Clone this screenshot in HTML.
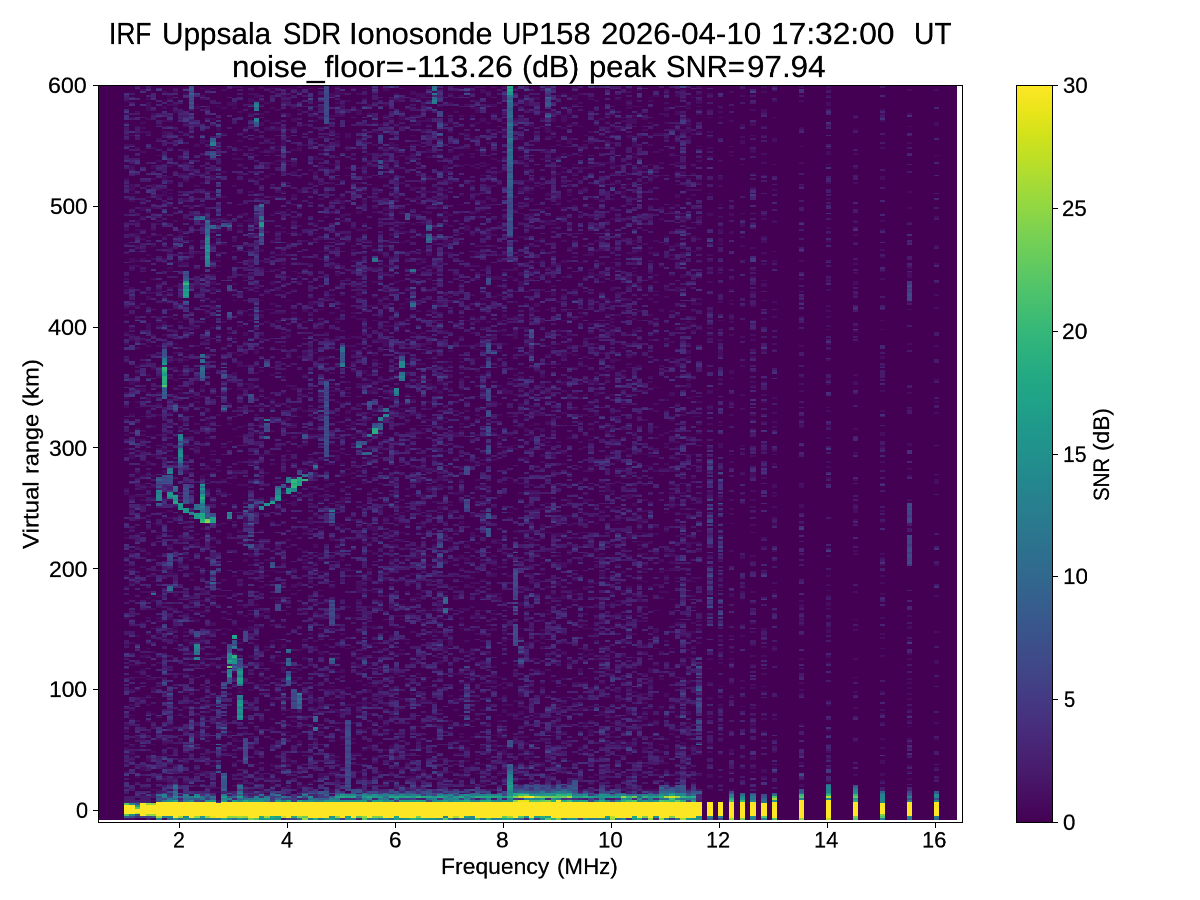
<!DOCTYPE html><html><head><meta charset="utf-8"><title>IRF Uppsala SDR Ionosonde UP158</title><style>
html,body{margin:0;padding:0;background:#fff}
body{width:1200px;height:900px;position:relative;overflow:hidden;font-family:"Liberation Sans",sans-serif;color:#000}
.t{position:absolute;display:block;line-height:1;white-space:pre;transform-origin:0 0;will-change:transform;-webkit-text-stroke:0.5px #000}
.k{position:absolute;background:#000}
svg{position:absolute;left:0;top:0}
</style></head><body>
<svg width="1200" height="900" viewBox="0 0 1200 900" shape-rendering="crispEdges">
<defs><linearGradient id="vg" x1="0" y1="0" x2="0" y2="1"><stop offset="0.0000" stop-color="#fde725"/><stop offset="0.0333" stop-color="#eae51a"/><stop offset="0.0667" stop-color="#d2e21b"/><stop offset="0.1000" stop-color="#bddf26"/><stop offset="0.1333" stop-color="#a5db36"/><stop offset="0.1667" stop-color="#90d743"/><stop offset="0.2000" stop-color="#7ad151"/><stop offset="0.2333" stop-color="#67cc5c"/><stop offset="0.2667" stop-color="#54c568"/><stop offset="0.3000" stop-color="#44bf70"/><stop offset="0.3333" stop-color="#35b779"/><stop offset="0.3667" stop-color="#2ab07f"/><stop offset="0.4000" stop-color="#22a884"/><stop offset="0.4333" stop-color="#1fa188"/><stop offset="0.4667" stop-color="#1f988b"/><stop offset="0.5000" stop-color="#21918c"/><stop offset="0.5333" stop-color="#23888e"/><stop offset="0.5667" stop-color="#27808e"/><stop offset="0.6000" stop-color="#2a788e"/><stop offset="0.6333" stop-color="#2d708e"/><stop offset="0.6667" stop-color="#31688e"/><stop offset="0.7000" stop-color="#355f8d"/><stop offset="0.7333" stop-color="#39568c"/><stop offset="0.7667" stop-color="#3d4d8a"/><stop offset="0.8000" stop-color="#414487"/><stop offset="0.8333" stop-color="#443983"/><stop offset="0.8667" stop-color="#472f7d"/><stop offset="0.9000" stop-color="#482475"/><stop offset="0.9333" stop-color="#481a6c"/><stop offset="0.9667" stop-color="#470d60"/><stop offset="1.0000" stop-color="#440154"/></linearGradient></defs>
<rect x="99" y="86" width="858" height="733.8" fill="#440154"/>
<g transform="translate(126.700,819.800) scale(5.4000,-1.8125)" fill="none" stroke-width="1">
<path stroke="#470d60" d="M0 0v1m0 16v1m0 8v1m0 4v1m0 4v1m0 2v1m0 2v1m0 5v2m0 1v2m0 43v1m0 14v1m0 16v1m0 5v1m0 5v1m0 1v1m0 4v1m0 7v1m0 23v2m0 1v1m0 18v1m0 2v1m0 7v1m0 14v2m0 3v1m0 2v1m0 16v1m0 1v1m0 7v1m0 5v1m0 6v1m0 2v1m0 3v1m0 8v2m0 1v1m0 3v1m0 14v1m0 3v1m0 7v2m0 2v1m0 12v1m0 7v1m0 2v1m0 18v1m0 4v1m0 4v1m0 1v1m0 4v1m0 3v1m0 2v1M1 0v1m0 31v1m0 1v1m0 1v2m0 2v1m0 14v1m0 1v1m0 2v1m0 2v1m0 7v1m0 5v1m0 7v1m0 11v1m0 12v1m0 4v1m0 14v2m0 1v1m0 4v1m0 5v1m0 3v1m0 11v1m0 10v1m0 5v2m0 20v3m0 21v1m0 14v1m0 1v2m0 22v1m0 2v1m0 3v1m0 11v1m0 9v1m0 9v1m0 1v1m0 1v3m0 11v1m0 1v1m0 17v1m0 3v1m0 1v4m0 8v2m0 11v1m0 4v1m0 9v1M2 23v1m0 11v1m0 8v2m0 5v1m0 2v1m0 10v1m0 5v1m0 6v1m0 2v1m0 3v1m0 15v1m0 48v1m0 6v1m0 7v1m0 12v1m0 4v1m0 1v1m0 2v1m0 2v1m0 9v1m0 7v1m0 5v1m0 11v1m0 2v1m0 6v1m0 3v1m0 4v1m0 3v1m0 9v1m0 15v1m0 6v1m0 21v1m0 2v1m0 4v1m0 2v1m0 5v2m0 1v1m0 3v2m0 14v1m0 15v1m0 8v1m0 7v1m0 3v1m0 7v1M3 13v1m0 3v1m0 9v2m0 15v1m0 21v2m0 10v1m0 3v1m0 6v2m0 17v1m0 16v1m0 13v1m0 9v1m0 7v1m0 15v1m0 2v1m0 1v1m0 3v1m0 1v1m0 4v1m0 5v1m0 7v1m0 5v1m0 2v1m0 1v1m0 7v1m0 13v2m0 13v1m0 12v1m0 38v1m0 5v1m0 4v1m0 5v1m0 4v1m0 6v1m0 3v2m0 3v1m0 26v1m0 10v1m0 1v1m0 2v1m0 17v1M4 17v1m0 14v2m0 1v1m0 12v1m0 5v1m0 4v1m0 3v1m0 4v1m0 8v1m0 12v1m0 3v1m0 4v1m0 2v1m0 8v1m0 4v1m0 5v1m0 2v1m0 11v1m0 8v2m0 12v1m0 4v1m0 9v1m0 7v1m0 5v1m0 1v1m0 4v2m0 23v1m0 1v1m0 7v2m0 2v1m0 9v1m0 6v1m0 3v1m0 4v1m0 1v1m0 6v4m0 5v1m0 7v2m0 1v1m0 20v1m0 9v1m0 15v1m0 5v1m0 34v2m0 6v1m0 4v5m0 1v1M5 10v1m0 3v1m0 1v1m0 13v1m0 6v1m0 3v1m0 9v1m0 6v1m0 8v1m0 3v2m0 4v1m0 14v1m0 23v1m0 3v1m0 10v1m0 2v1m0 28v1m0 13v1m0 5v1m0 5v1m0 5v1m0 4v1m0 10v1m0 4v2m0 9v1m0 20v1m0 18v1m0 22v1m0 7v1m0 10v1m0 6v1m0 8v1m0 8v1m0 2v1m0 11v2m0 2v1m0 5v2m0 9v1m0 18v1M6 16v1m0 4v1m0 3v1m0 18v1m0 6v1m0 4v1m0 17v1m0 11v1m0 2v1m0 9v1m0 2v1m0 3v1m0 2v1m0 1v1m0 5v1m0 5v1m0 21v1m0 10v1m0 1v1m0 3v1m0 6v1m0 30v1m0 3v1m0 7v1m0 10v1m0 5v1m0 5v1m0 2v1m0 5v1m0 11v1m0 4v1m0 10v1m0 1v1m0 2v1m0 8v1m0 4v2m0 2v1m0 26v1m0 5v1m0 1v1m0 12v2m0 2v1m0 2v1m0 12v1m0 2v1m0 8v1m0 7v1m0 3v1M7 0v1m0 20v1m0 1v1m0 1v1m0 2v1m0 7v1m0 4v2m0 35v1m0 21v1m0 8v1m0 56v1m0 2v1m0 7v1m0 13v2m0 10v2m0 2v1m0 3v1m0 1v1m0 49v1m0 3v1m0 5v2m0 10v1m0 2v2m0 17v1m0 1v1m0 3v1m0 7v1m0 11v2m0 5v1m0 3v1m0 1v1m0 6v2m0 23v2m0 2v1m0 2v1m0 6v2m0 7v1M8 16v1m0 3v1m0 7v1m0 1v1m0 11v1m0 1v1m0 5v1m0 1v1m0 12v1m0 17v1m0 20v1m0 5v2m0 3v1m0 1v1m0 17v2m0 13v2m0 7v1m0 6v1m0 3v1m0 5v1m0 13v1m0 9v1m0 16v2m0 5v1m0 19v1m0 4v1m0 2v1m0 1v1m0 22v1m0 12v1m0 2v1m0 8v1m0 1v1m0 7v1m0 2v1m0 22v2m0 3v1m0 1v1m0 1v1m0 3v1m0 2v1m0 5v1m0 9v1m0 4v1m0 3v1m0 5v1m0 8v1m0 2v1m0 1v1M9 23v1m0 6v1m0 8v1m0 6v1m0 4v1m0 5v1m0 21v1m0 18v1m0 1v1m0 3v1m0 1v1m0 9v1m0 6v2m0 10v1m0 6v1m0 5v1m0 23v1m0 23v1m0 14v1m0 22v1m0 3v1m0 3v1m0 5v2m0 3v2m0 2v1m0 4v1m0 5v1m0 7v1m0 17v1m0 12v1m0 10v1m0 2v1m0 8v1m0 4v1m0 44v1m0 9v1m0 3v1m0 6v1m0 1v1M10 25v1m0 7v1m0 9v1m0 7v1m0 6v1m0 14v1m0 6v1m0 13v2m0 26v1m0 17v1m0 13v2m0 8v1m0 50v1m0 4v2m0 6v1m0 2v1m0 3v1m0 1v1m0 7v1m0 1v1m0 4v1m0 1v1m0 19v1m0 6v1m0 4v1m0 10v1m0 8v1m0 4v1m0 10v1m0 1v2m0 8v1m0 1v1m0 19v1m0 2v1m0 4v1m0 1v1m0 10v1M11 20v1m0 4v1m0 5v1m0 3v1m0 13v1m0 6v1m0 4v2m0 5v1m0 1v1m0 9v1m0 4v2m0 5v1m0 5v2m0 3v1m0 1v1m0 7v1m0 2v1m0 5v1m0 3v1m0 13v1m0 3v1m0 8v2m0 5v1m0 2v1m0 27v2m0 3v1m0 2v2m0 18v1m0 5v1m0 2v1m0 20v1m0 3v1m0 5v1m0 9v1m0 6v1m0 6v1m0 2v1m0 19v2m0 4v1m0 8v1m0 9v1m0 10v1m0 9v1m0 3v1m0 5v1m0 6v1m0 12v1m0 1v1m0 15v1m0 2v1M12 13v1m0 12v1m0 37v1m0 5v1m0 8v1m0 9v1m0 2v1m0 3v1m0 1v1m0 12v1m0 8v1m0 2v1m0 8v1m0 2v1m0 7v1m0 10v1m0 1v1m0 5v1m0 32v1m0 15v1m0 55v1m0 3v2m0 38v1m0 7v1m0 7v1m0 10v1m0 15v2m0 1v1m0 1v1m0 17v1M13 18v1m0 5v1m0 2v1m0 12v1m0 4v4m0 8v1m0 8v1m0 17v1m0 13v1m0 10v2m0 3v1m0 11v1m0 10v1m0 13v2m0 1v1m0 2v1m0 11v1m0 32v1m0 1v2m0 8v1m0 3v1m0 11v1m0 1v1m0 15v1m0 12v1m0 9v1m0 3v1m0 14v1m0 2v2m0 17v1m0 36v1m0 6v1m0 14v2m0 19v2M14 26v1m0 12v1m0 10v1m0 6v1m0 5v1m0 3v1m0 4v1m0 12v1m0 1v3m0 3v1m0 1v1m0 1v1m0 1v3m0 3v1m0 8v1m0 5v1m0 4v2m0 6v1m0 1v1m0 14v1m0 4v1m0 4v1m0 27v2m0 3v1m0 5v1m0 37v1m0 1v1m0 23v1m0 21v1m0 1v1m0 6v1m0 5v1m0 8v2m0 1v2m0 3v1m0 9v1m0 2v1m0 2v2m0 3v1m0 6v1m0 5v1m0 4v1m0 9v1m0 6v3m0 21v1m0 1v1m0 3v1M15 24v1m0 9v1m0 1v1m0 8v1m0 4v1m0 5v1m0 7v1m0 7v1m0 4v1m0 6v1m0 14v1m0 1v1m0 8v1m0 3v1m0 1v1m0 9v1m0 2v1m0 7v1m0 5v1m0 14v1m0 23v1m0 4v1m0 2v1m0 2v3m0 12v1m0 1v1m0 7v1m0 1v1m0 12v1m0 12v1m0 1v1m0 14v1m0 6v1m0 6v1m0 1v1m0 55v2m0 21v1m0 5v1m0 9v1m0 17v1m0 9v1M16 15v1m0 1v1m0 3v1m0 7v1m0 11v1m0 25v2m0 5v1m0 5v1m0 4v2m0 4v1m0 2v1m0 4v1m0 3v2m0 2v2m0 11v1m0 1v1m0 8v1m0 18v1m0 3v1m0 20v1m0 15v1m0 1v1m0 4v1m0 4v1m0 15v1m0 51v1m0 9v1m0 1v1m0 2v1m0 5v2m0 1v2m0 3v1m0 3v1m0 3v1m0 8v1m0 3v1m0 3v1m0 2v1m0 2v1m0 11v1m0 2v1m0 7v2m0 15v1m0 14v1m0 16v1M17 10v1m0 4v1m0 1v1m0 9v1m0 21v1m0 4v2m0 17v1m0 9v1m0 1v1m0 7v1m0 24v1m0 4v1m0 23v1m0 6v1m0 3v1m0 3v1m0 17v1m0 1v1m0 2v1m0 6v1m0 30v1m0 39v1m0 3v1m0 19v1m0 14v1m0 2v1m0 2v1m0 1v1m0 1v1m0 11v2m0 4v1m0 22v1m0 7v1m0 8v1m0 9v2m0 11v1M18 39v1m0 15v1m0 2v1m0 8v1m0 17v1m0 4v1m0 11v1m0 2v1m0 5v1m0 11v1m0 8v1m0 40v1m0 6v1m0 6v1m0 17v1m0 28v1m0 4v1m0 12v1m0 21v1m0 42v1m0 13v1m0 11v1m0 13v1m0 20v1m0 13v1m0 9v1M19 36v1m0 11v1m0 55v1m0 8v1m0 42v2m0 7v1m0 19v1m0 4v1m0 17v1m0 9v1m0 1v1m0 1v1m0 6v1m0 7v1m0 3v1m0 1v1m0 18v1m0 3v1m0 1v1m0 22v1m0 6v1m0 71v1m0 23v2M20 18v1m0 4v1m0 7v1m0 4v1m0 3v1m0 2v2m0 11v1m0 10v1m0 10v1m0 2v1m0 25v1m0 13v1m0 2v1m0 9v1m0 26v1m0 2v1m0 4v1m0 1v1m0 16v2m0 2v1m0 22v1m0 29v2m0 10v1m0 28v1m0 4v1m0 3v1m0 17v1m0 5v2m0 28v1m0 14v1m0 2v1m0 24v1m0 1v2m0 8v1M21 20v1m0 17v1m0 4v1m0 26v1m0 1v1m0 24v1m0 1v1m0 5v1m0 7v1m0 4v1m0 11v2m0 5v1m0 20v2m0 24v1m0 7v1m0 4v1m0 13v1m0 4v1m0 9v1m0 7v1m0 2v1m0 3v1m0 8v3m0 3v1m0 15v1m0 5v1m0 46v1m0 2v1m0 4v1m0 11v1m0 10v1m0 3v1m0 3v1m0 4v1m0 4v1m0 2v1m0 12v1m0 13v1M22 18v1m0 3v1m0 1v1m0 23v1m0 2v1m0 4v1m0 5v1m0 12v1m0 28v1m0 7v1m0 4v1m0 24v2m0 8v1m0 11v3m0 8v1m0 8v1m0 22v1m0 9v1m0 19v1m0 2v1m0 9v1m0 10v1m0 1v1m0 3v2m0 11v1m0 18v2m0 15v1m0 13v1m0 2v1m0 45v1m0 1v1M23 16v1m0 2v1m0 25v1m0 14v1m0 1v1m0 8v1m0 6v1m0 2v1m0 7v2m0 13v3m0 2v1m0 3v1m0 12v1m0 9v1m0 3v1m0 4v2m0 22v1m0 4v2m0 7v1m0 1v1m0 1v1m0 8v1m0 1v1m0 11v1m0 3v1m0 1v1m0 11v1m0 8v4m0 34v1m0 2v1m0 14v1m0 6v1m0 3v1m0 1v2m0 1v1m0 4v1m0 13v1m0 1v2m0 14v1m0 6v1m0 13v1m0 2v1m0 12v1m0 5v1m0 6v2m0 2v1m0 1v1M24 23v1m0 6v1m0 7v1m0 2v1m0 7v2m0 45v1m0 4v1m0 4v1m0 4v1m0 4v1m0 1v1m0 13v1m0 8v1m0 56v1m0 7v1m0 6v1m0 9v1m0 8v1m0 13v1m0 3v1m0 6v3m0 23v1m0 10v1m0 50v1m0 8v1m0 21v1m0 4v1m0 14v1m0 1v3M25 16v1m0 6v3m0 13v1m0 14v1m0 17v1m0 1v1m0 1v1m0 4v1m0 3v2m0 19v1m0 5v2m0 1v1m0 7v1m0 4v1m0 6v1m0 23v1m0 8v1m0 8v1m0 9v2m0 4v1m0 6v2m0 10v1m0 1v1m0 3v3m0 7v1m0 5v1m0 2v1m0 9v1m0 16v2m0 1v1m0 9v2m0 1v1m0 5v1m0 10v1m0 6v1m0 3v1m0 4v2m0 25v1m0 1v1m0 25v1m0 14v2m0 4v1m0 4v1m0 1v1m0 6v2M26 22v1m0 54v1m0 4v1m0 10v1m0 1v1m0 18v2m0 13v1m0 4v1m0 2v1m0 5v1m0 8v1m0 32v1m0 5v1m0 9v1m0 30v1m0 41v1m0 6v1m0 8v1m0 1v1m0 9v1m0 5v1m0 15v1m0 29v2m0 4v2m0 7v1m0 3v1m0 1v1m0 4v2m0 3v1m0 4v1m0 4v1m0 7v1M27 18v1m0 1v1m0 1v1m0 4v1m0 1v2m0 10v1m0 2v1m0 4v2m0 4v1m0 10v2m0 19v2m0 9v1m0 8v1m0 2v1m0 11v1m0 14v1m0 5v1m0 20v1m0 31v1m0 4v1m0 12v1m0 11v2m0 1v1m0 1v1m0 13v1m0 8v1m0 24v1m0 1v1m0 2v1m0 10v2m0 6v1m0 9v1m0 5v1m0 13v1m0 9v1m0 5v1m0 6v1m0 5v1m0 5v2m0 5v1m0 4v1m0 3v1m0 7v1m0 10v1M28 22v1m0 3v1m0 43v1m0 4v1m0 1v1m0 8v1m0 3v1m0 8v1m0 19v2m0 1v1m0 13v1m0 13v1m0 2v1m0 15v1m0 1v1m0 2v1m0 11v1m0 18v1m0 23v1m0 19v1m0 1v1m0 22v2m0 3v1m0 12v1m0 10v1m0 7v1m0 7v1m0 1v1m0 2v1m0 10v1m0 7v1m0 2v1m0 14v1m0 1v1m0 5v1m0 1v1m0 8v2m0 9v1M29 28v1m0 2v1m0 16v1m0 9v1m0 3v1m0 3v1m0 4v1m0 9v2m0 1v1m0 10v2m0 22v1m0 6v1m0 2v1m0 6v1m0 4v1m0 1v1m0 32v1m0 4v1m0 4v1m0 8v1m0 1v1m0 1v1m0 6v1m0 9v1m0 3v1m0 14v1m0 8v1m0 16v1m0 6v1m0 10v1m0 11v1m0 3v1m0 1v1m0 2v1m0 3v1m0 1v1m0 4v2m0 11v1m0 1v1m0 7v1m0 8v1m0 2v1m0 17v1m0 7v3m0 18v1m0 2v1m0 2v1M30 13v1m0 3v1m0 14v2m0 1v1m0 8v1m0 1v1m0 1v1m0 11v1m0 5v1m0 46v1m0 12v1m0 10v1m0 12v1m0 3v1m0 43v1m0 2v1m0 1v1m0 12v1m0 3v2m0 5v2m0 3v1m0 6v1m0 17v1m0 8v2m0 18v1m0 12v1m0 17v1m0 5v1m0 10v1m0 1v1m0 4v1m0 9v1m0 9v1m0 1v1m0 12v1m0 3v1m0 7v2m0 6v1m0 6v1M31 31v1m0 22v1m0 2v1m0 1v1m0 16v1m0 1v1m0 2v1m0 7v1m0 34v1m0 3v2m0 8v1m0 18v1m0 2v1m0 12v3m0 34v1m0 5v1m0 1v1m0 4v1m0 13v1m0 1v1m0 37v1m0 1v1m0 12v1m0 9v1m0 4v1m0 16v1m0 3v1m0 1v1m0 12v2m0 11v2m0 2v3m0 6v1m0 11v1m0 3v2m0 5v1M32 15v1m0 1v2m0 8v1m0 9v1m0 2v1m0 1v2m0 3v1m0 2v1m0 6v1m0 12v1m0 6v1m0 4v2m0 9v1m0 35v2m0 13v1m0 4v1m0 43v1m0 11v1m0 16v1m0 3v2m0 7v1m0 19v1m0 20v1m0 19v1m0 2v1m0 1v1m0 5v1m0 10v1m0 3v2m0 3v1m0 4v1m0 13v2m0 6v1m0 14v2m0 11v1m0 8v1m0 9v1m0 2v1M33 18v1m0 44v1m0 5v1m0 13v1m0 4v2m0 4v1m0 3v1m0 15v1m0 3v1m0 19v1m0 2v1m0 1v1m0 4v1m0 8v2m0 1v1m0 3v1m0 14v1m0 6v1m0 5v2m0 12v2m0 1v1m0 3v2m0 10v1m0 8v1m0 2v1m0 7v1m0 10v2m0 16v1m0 5v2m0 37v1m0 52v1m0 10v1M34 20v1m0 14v1m0 3v2m0 8v1m0 7v1m0 11v2m0 15v1m0 15v1m0 19v1m0 7v1m0 1v1m0 1v1m0 2v3m0 20v1m0 3v2m0 7v1m0 3v2m0 1v1m0 2v1m0 1v1m0 10v1m0 1v2m0 12v1m0 9v1m0 3v1m0 20v1m0 12v1m0 18v1m0 3v3m0 5v1m0 14v1m0 22v1m0 16v1m0 4v1m0 6v1m0 2v1m0 9v1m0 26v1m0 4v1M35 43v1m0 3v1m0 11v1m0 1v1m0 3v2m0 7v1m0 6v1m0 12v2m0 2v1m0 12v1m0 2v1m0 4v1m0 9v1m0 6v1m0 4v1m0 8v2m0 15v1m0 1v1m0 3v1m0 6v1m0 1v1m0 5v1m0 8v2m0 2v1m0 8v1m0 1v1m0 2v1m0 10v1m0 22v1m0 7v1m0 1v1m0 24v1m0 34v1m0 3v1m0 4v1m0 27v2m0 6v2m0 9v1m0 9v1m0 2v1m0 1v1M36 23v3m0 21v1m0 2v1m0 12v2m0 26v2m0 7v1m0 9v2m0 1v1m0 1v1m0 7v1m0 2v1m0 9v1m0 6v1m0 2v1m0 14v1m0 13v1m0 2v1m0 11v1m0 3v1m0 3v1m0 12v1m0 2v1m0 3v1m0 13v1m0 4v1m0 17v1m0 9v1m0 5v2m0 1v1m0 6v1m0 4v1m0 22v1m0 3v1m0 6v1m0 21v1m0 8v1m0 7v2m0 3v1m0 4v1m0 1v1m0 14v1m0 1v1M37 24v2m0 13v1m0 6v1m0 24v1m0 8v1m0 15v1m0 8v2m0 5v1m0 6v1m0 13v1m0 2v1m0 40v2m0 2v1m0 1v2m0 2v1m0 4v1m0 3v1m0 2v1m0 49v1m0 5v1m0 12v1m0 18v2m0 24v1m0 4v1m0 4v1m0 8v1m0 13v1m0 12v1m0 8v1m0 3v1m0 3v1m0 5v1M38 13v1m0 1v2m0 7v1m0 1v1m0 6v2m0 1v1m0 7v1m0 15v1m0 5v1m0 4v1m0 1v1m0 15v1m0 14v1m0 23v1m0 15v1m0 9v2m0 7v1m0 20v1m0 11v1m0 6v1m0 3v1m0 9v1m0 3v1m0 12v1m0 1v1m0 3v1m0 5v1m0 14v1m0 2v1m0 14v1m0 7v1m0 1v1m0 14v2m0 3v1m0 4v1m0 19v1m0 4v1m0 1v1m0 9v1m0 3v1m0 5v1m0 18v1m0 7v1m0 10v2M39 22v1m0 3v1m0 5v1m0 1v1m0 15v1m0 6v1m0 1v2m0 9v1m0 10v1m0 6v1m0 24v1m0 27v1m0 6v1m0 2v1m0 11v1m0 8v1m0 17v1m0 7v3m0 2v1m0 2v1m0 5v1m0 6v1m0 3v1m0 6v1m0 5v1m0 2v1m0 9v1m0 15v2m0 7v1m0 1v1m0 17v1m0 5v2m0 4v1m0 3v1m0 8v1m0 1v1m0 2v1m0 17v1m0 10v1m0 7v1m0 3v1m0 7v2m0 1v1m0 1v1m0 9v2m0 3v1m0 1v1m0 4v3m0 1v1M40 30v1m0 10v1m0 2v1m0 3v2m0 3v1m0 5v1m0 6v1m0 1v1m0 2v1m0 7v1m0 1v2m0 12v1m0 6v1m0 3v1m0 14v1m0 9v1m0 1v1m0 4v1m0 4v1m0 3v1m0 1v1m0 5v1m0 4v1m0 1v1m0 6v1m0 3v1m0 1v3m0 4v1m0 6v1m0 6v1m0 5v1m0 3v1m0 3v1m0 58v1m0 10v1m0 3v1m0 4v1m0 6v1m0 8v1m0 15v1m0 8v1m0 1v2m0 4v1m0 1v2m0 1v1m0 1v1m0 42v1m0 3v1m0 1v1m0 5v1M41 63v1m0 8v1m0 21v1m0 22v1m0 20v1m0 24v1m0 12v1m0 3v1m0 9v1m0 2v1m0 21v1m0 5v1m0 2v2m0 4v1m0 4v1m0 1v1m0 3v1m0 19v1m0 3v1m0 32v1m0 20v1m0 2v2m0 9v2m0 20v1m0 3v1m0 9v1m0 1v1m0 4v3m0 17v1M42 30v1m0 3v1m0 1v1m0 5v1m0 1v1m0 8v1m0 9v1m0 21v1m0 9v1m0 15v1m0 22v1m0 2v1m0 16v1m0 10v1m0 18v1m0 3v1m0 2v1m0 2v1m0 1v1m0 2v1m0 12v1m0 3v1m0 1v2m0 27v1m0 4v1m0 3v1m0 1v1m0 2v1m0 4v1m0 10v1m0 1v1m0 23v1m0 4v1m0 5v1m0 1v1m0 9v1m0 20v1m0 3v1m0 14v1m0 26v1m0 9v1M43 17v1m0 4v1m0 3v1m0 9v1m0 22v1m0 2v1m0 1v1m0 4v1m0 6v1m0 4v1m0 3v1m0 5v1m0 6v1m0 4v1m0 1v1m0 7v1m0 2v1m0 1v1m0 1v2m0 3v6m0 30v1m0 30v1m0 11v1m0 4v1m0 1v1m0 12v1m0 3v2m0 9v2m0 8v1m0 12v1m0 2v2m0 9v1m0 12v2m0 2v2m0 1v1m0 1v1m0 9v1m0 4v1m0 11v1m0 8v2m0 2v1m0 7v1m0 4v1m0 7v1m0 10v1m0 4v1m0 13v3m0 8v1M44 23v1m0 14v1m0 10v1m0 13v3m0 8v1m0 7v2m0 6v1m0 2v1m0 13v1m0 14v1m0 2v1m0 3v1m0 5v1m0 16v2m0 3v1m0 6v1m0 8v1m0 11v2m0 6v1m0 2v2m0 12v1m0 3v1m0 4v1m0 3v1m0 16v1m0 5v2m0 11v1m0 7v1m0 3v1m0 3v2m0 10v1m0 7v1m0 5v1m0 17v1m0 5v1m0 2v1m0 11v2m0 11v2m0 1v1m0 3v1m0 4v1m0 3v1m0 4v1m0 4v1m0 17v1m0 5v1M45 16v1m0 1v2m0 19v2m0 9v1m0 7v1m0 5v1m0 2v1m0 2v2m0 1v1m0 1v1m0 8v1m0 1v1m0 19v1m0 5v1m0 4v1m0 14v2m0 4v1m0 9v1m0 3v1m0 2v1m0 4v2m0 18v1m0 17v2m0 8v1m0 11v1m0 3v1m0 10v2m0 3v1m0 1v1m0 2v1m0 3v1m0 8v1m0 12v1m0 9v1m0 1v1m0 35v1m0 40v1m0 2v1m0 3v1m0 21v1m0 4v1M46 31v1m0 2v1m0 6v1m0 4v1m0 15v1m0 2v1m0 7v2m0 7v1m0 6v1m0 5v1m0 1v1m0 8v1m0 10v1m0 3v1m0 3v1m0 20v2m0 11v3m0 12v1m0 7v1m0 7v1m0 21v1m0 13v1m0 9v3m0 9v1m0 3v2m0 2v1m0 7v1m0 10v1m0 7v1m0 4v1m0 7v1m0 7v1m0 8v1m0 21v1m0 1v1m0 4v1m0 1v1m0 1v1m0 1v1m0 23v1m0 6v1m0 4v1m0 8v1m0 6v1M47 26v1m0 15v1m0 7v1m0 4v1m0 10v1m0 1v1m0 2v2m0 5v1m0 3v2m0 2v1m0 6v1m0 23v1m0 2v1m0 3v1m0 5v1m0 11v1m0 28v1m0 27v1m0 4v1m0 1v1m0 5v1m0 1v1m0 4v1m0 21v2m0 1v1m0 6v1m0 6v1m0 4v2m0 12v1m0 6v2m0 1v1m0 8v1m0 5v1m0 9v2m0 3v1m0 10v1m0 1v1m0 3v1m0 7v1m0 3v1m0 7v1m0 10v1m0 1v1m0 1v1m0 1v1m0 6v1m0 4v1M48 21v1m0 12v1m0 3v1m0 9v1m0 3v1m0 10v1m0 4v1m0 21v1m0 12v1m0 19v1m0 8v1m0 3v1m0 10v1m0 8v1m0 7v1m0 1v1m0 44v1m0 23v1m0 25v4m0 4v1m0 2v1m0 11v1m0 3v1m0 3v1m0 8v1m0 3v1m0 4v1m0 18v1m0 3v1m0 2v2m0 12v1m0 3v2m0 6v1m0 1v1m0 3v1m0 1v1m0 11v1m0 3v1m0 1v1m0 5v1m0 7v2M49 26v1m0 5v1m0 6v2m0 8v1m0 6v1m0 9v1m0 3v1m0 1v1m0 4v1m0 1v1m0 1v1m0 19v1m0 14v1m0 1v1m0 11v1m0 9v1m0 1v2m0 5v1m0 1v1m0 3v1m0 1v1m0 9v1m0 10v1m0 6v1m0 1v3m0 18v1m0 11v1m0 1v1m0 8v2m0 1v1m0 2v2m0 3v1m0 1v1m0 27v1m0 13v1m0 3v1m0 8v1m0 5v1m0 4v1m0 8v2m0 1v2m0 12v1m0 9v1m0 6v1m0 2v1m0 2v1m0 9v1m0 1v3m0 8v1m0 3v1m0 10v1M50 16v1m0 4v1m0 6v1m0 13v1m0 27v1m0 7v1m0 1v1m0 10v1m0 14v1m0 5v1m0 4v1m0 6v1m0 1v1m0 17v1m0 6v1m0 4v1m0 8v1m0 7v1m0 8v1m0 3v1m0 5v1m0 1v1m0 13v1m0 16v1m0 1v1m0 17v1m0 12v1m0 15v1m0 5v1m0 9v2m0 1v1m0 2v1m0 22v1m0 5v1m0 2v1m0 1v1m0 11v1m0 1v1m0 14v1m0 5v1m0 2v1m0 3v1m0 4v1m0 4v1m0 13v1m0 3v1M51 28v1m0 9v1m0 7v1m0 19v1m0 24v1m0 1v1m0 5v1m0 10v1m0 1v1m0 5v1m0 2v1m0 20v1m0 10v2m0 3v1m0 10v1m0 2v1m0 3v1m0 31v1m0 1v1m0 12v2m0 1v1m0 2v1m0 17v1m0 24v1m0 9v1m0 1v1m0 12v1m0 20v1m0 5v1m0 1v1m0 1v1m0 6v1m0 1v1m0 13v1m0 30v1m0 3v1m0 3v1m0 6v1m0 5v1M52 22v2m0 7v1m0 1v1m0 2v1m0 1v1m0 23v2m0 11v1m0 21v1m0 15v1m0 11v1m0 18v1m0 4v2m0 11v1m0 7v1m0 11v1m0 21v2m0 7v1m0 5v1m0 2v2m0 2v1m0 7v1m0 10v1m0 3v1m0 20v1m0 5v1m0 8v1m0 1v1m0 5v1m0 15v1m0 9v1m0 4v1m0 39v2m0 5v1M53 23v1m0 1v2m0 21v1m0 13v1m0 6v1m0 16v1m0 2v1m0 13v1m0 9v1m0 2v1m0 3v1m0 1v1m0 7v1m0 4v1m0 8v1m0 3v1m0 30v1m0 8v1m0 2v1m0 2v1m0 19v1m0 8v1m0 7v1m0 1v1m0 7v1m0 13v1m0 8v1m0 3v1m0 18v1m0 4v1m0 5v1m0 13v1m0 15v1m0 3v1m0 9v1m0 4v2m0 16v1m0 1v1m0 4v1m0 4v1m0 5v1m0 4v1m0 11v2M54 18v1m0 2v1m0 2v1m0 16v1m0 1v2m0 6v1m0 10v1m0 1v2m0 14v1m0 7v1m0 31v1m0 1v1m0 1v1m0 19v4m0 1v2m0 7v1m0 11v2m0 21v1m0 16v1m0 3v1m0 2v1m0 6v1m0 17v1m0 1v1m0 6v1m0 8v1m0 3v1m0 2v1m0 12v1m0 4v1m0 12v1m0 1v1m0 2v1m0 2v1m0 33v1m0 1v2m0 4v1m0 7v1m0 15v1m0 1v1m0 8v3m0 11v1m0 1v2M55 26v2m0 11v1m0 13v1m0 8v1m0 2v1m0 2v1m0 1v1m0 1v1m0 3v1m0 26v1m0 9v2m0 1v1m0 4v1m0 3v1m0 18v1m0 12v1m0 3v2m0 4v1m0 5v1m0 2v1m0 1v2m0 7v1m0 4v2m0 2v1m0 16v1m0 1v1m0 1v1m0 2v1m0 2v1m0 4v1m0 22v1m0 5v1m0 3v2m0 5v1m0 7v1m0 9v1m0 15v1m0 5v2m0 3v1m0 7v2m0 5v1m0 1v1m0 4v1m0 3v1m0 6v1m0 4v1m0 28v1m0 4v1m0 8v1m0 4v2M56 35v1m0 21v1m0 7v1m0 7v1m0 4v1m0 23v1m0 3v1m0 8v1m0 14v2m0 8v1m0 4v1m0 20v1m0 1v1m0 12v1m0 1v1m0 4v1m0 3v1m0 7v1m0 19v1m0 5v1m0 3v1m0 8v2m0 1v1m0 11v1m0 5v1m0 1v2m0 2v1m0 13v1m0 10v1m0 6v1m0 3v1m0 2v1m0 5v2m0 18v1m0 2v2m0 2v1m0 7v1m0 7v1m0 10v1m0 2v2m0 8v1m0 4v1m0 1v2m0 6v1m0 6v1m0 3v1M57 37v1m0 6v1m0 9v1m0 9v1m0 17v1m0 12v1m0 7v2m0 11v1m0 4v1m0 5v1m0 4v1m0 7v1m0 3v1m0 6v1m0 2v1m0 7v1m0 12v1m0 11v1m0 5v1m0 4v2m0 5v1m0 1v2m0 3v1m0 4v1m0 2v2m0 5v1m0 8v2m0 1v1m0 9v1m0 2v1m0 2v1m0 3v1m0 20v2m0 2v1m0 10v1m0 5v1m0 2v1m0 12v1m0 1v1m0 6v1m0 11v1m0 3v1m0 58v1M58 21v2m0 10v1m0 18v1m0 7v1m0 11v1m0 6v1m0 2v1m0 3v2m0 23v1m0 2v1m0 2v1m0 1v1m0 2v1m0 6v1m0 5v1m0 22v1m0 12v2m0 2v1m0 7v2m0 2v3m0 2v1m0 4v1m0 20v1m0 16v2m0 3v2m0 8v1m0 13v1m0 14v1m0 4v1m0 16v1m0 4v1m0 3v1m0 14v1m0 6v1m0 4v1m0 3v1m0 1v1m0 2v1m0 5v1m0 14v1m0 12v1m0 12v1M59 20v1m0 4v1m0 67v3m0 3v1m0 25v1m0 17v1m0 11v1m0 1v1m0 1v1m0 4v1m0 18v1m0 4v1m0 4v1m0 4v1m0 4v1m0 3v1m0 2v1m0 8v1m0 1v1m0 5v1m0 10v2m0 1v1m0 6v2m0 19v1m0 19v1m0 22v1m0 4v3m0 8v1m0 2v2m0 1v2m0 6v1m0 1v1m0 2v1m0 5v1m0 1v1m0 1v4m0 23v1M60 20v1m0 5v1m0 21v1m0 2v2m0 1v1m0 13v1m0 11v1m0 15v3m0 2v1m0 13v1m0 12v1m0 13v1m0 7v1m0 2v2m0 14v2m0 2v1m0 1v1m0 11v1m0 25v1m0 23v1m0 6v2m0 4v1m0 1v1m0 1v1m0 3v1m0 26v1m0 2v1m0 23v1m0 6v1m0 7v1m0 5v1m0 17v2m0 11v1m0 3v1m0 10v1m0 4v1m0 10v1m0 4v1M61 22v1m0 9v1m0 3v1m0 6v1m0 7v1m0 8v1m0 4v2m0 13v1m0 40v3m0 2v1m0 1v1m0 5v1m0 9v1m0 6v1m0 7v1m0 19v2m0 9v1m0 8v1m0 12v2m0 11v1m0 7v1m0 29v1m0 7v1m0 28v1m0 60v1m0 4v1m0 16v1m0 6v1M62 14v1m0 1v1m0 6v1m0 3v1m0 2v1m0 5v1m0 6v1m0 1v1m0 1v1m0 3v2m0 12v1m0 2v1m0 2v1m0 3v1m0 4v1m0 2v1m0 10v1m0 10v1m0 2v1m0 1v2m0 4v1m0 9v1m0 4v1m0 6v1m0 5v2m0 12v1m0 4v2m0 10v1m0 4v1m0 6v1m0 6v1m0 16v1m0 2v1m0 1v1m0 1v1m0 3v1m0 11v1m0 2v1m0 4v2m0 4v1m0 3v1m0 1v1m0 6v1m0 4v1m0 5v1m0 4v1m0 15v1m0 1v1m0 22v1m0 20v1m0 4v1m0 15v1m0 5v2m0 14v1m0 5v1m0 10v1M63 18v1m0 4v1m0 1v1m0 6v1m0 5v2m0 3v1m0 9v1m0 6v1m0 14v1m0 16v1m0 5v1m0 16v2m0 11v2m0 3v1m0 3v1m0 5v2m0 6v1m0 43v1m0 2v1m0 21v1m0 4v1m0 4v1m0 30v1m0 13v1m0 31v1m0 17v3m0 33v1m0 8v1m0 5v1m0 1v1m0 15v1m0 6v1M64 15v1m0 2v1m0 10v1m0 15v1m0 8v1m0 7v1m0 8v1m0 4v1m0 5v1m0 6v1m0 2v1m0 1v1m0 9v1m0 7v1m0 4v1m0 5v1m0 4v1m0 1v1m0 2v1m0 15v1m0 6v3m0 8v2m0 28v1m0 14v1m0 41v1m0 13v1m0 5v1m0 2v1m0 11v1m0 15v1m0 16v1m0 12v1m0 6v1m0 2v1m0 3v1m0 10v1m0 4v1m0 1v1m0 7v1m0 12v1m0 3v1M65 25v1m0 4v1m0 2v1m0 1v1m0 10v2m0 9v1m0 7v1m0 1v1m0 21v1m0 4v1m0 7v1m0 2v1m0 3v1m0 1v2m0 1v1m0 10v1m0 1v1m0 2v1m0 5v1m0 7v1m0 7v1m0 3v1m0 17v1m0 7v1m0 4v1m0 8v1m0 2v1m0 12v1m0 10v1m0 3v1m0 5v1m0 10v1m0 2v1m0 6v1m0 4v1m0 1v2m0 11v3m0 8v1m0 12v1m0 2v1m0 3v1m0 5v3m0 2v1m0 7v1m0 7v1m0 2v1m0 8v1m0 14v1m0 9v1m0 14v1m0 5v3m0 3v1m0 7v1M66 20v1m0 1v1m0 1v1m0 2v1m0 2v1m0 8v2m0 11v1m0 7v1m0 14v1m0 3v1m0 5v1m0 1v1m0 7v1m0 2v1m0 13v1m0 2v1m0 6v1m0 3v1m0 5v1m0 8v1m0 21v1m0 13v1m0 5v2m0 11v1m0 1v1m0 3v1m0 8v1m0 2v1m0 6v2m0 13v1m0 3v1m0 4v1m0 4v1m0 7v1m0 12v1m0 15v1m0 2v1m0 1v1m0 7v1m0 2v1m0 8v1m0 3v1m0 5v1m0 2v1m0 10v1m0 1v1m0 1v2m0 4v1m0 8v1m0 4v1m0 1v1m0 4v1m0 17v2m0 6v1m0 7v2m0 1v1M67 22v1m0 3v1m0 6v1m0 2v1m0 5v1m0 10v1m0 8v2m0 3v1m0 7v1m0 15v1m0 9v1m0 2v1m0 2v1m0 16v1m0 4v1m0 1v1m0 2v1m0 7v1m0 37v1m0 1v1m0 14v1m0 9v1m0 11v1m0 7v1m0 2v1m0 12v1m0 3v1m0 18v1m0 7v1m0 4v1m0 6v1m0 13v1m0 4v1m0 16v1m0 1v1m0 1v1m0 11v2m0 2v2m0 5v1m0 8v1m0 2v1m0 11v1m0 10v1m0 9v1m0 4v1m0 1v1M68 14v1m0 7v1m0 4v1m0 12v2m0 4v1m0 25v1m0 2v2m0 1v2m0 4v1m0 19v2m0 5v1m0 1v1m0 1v1m0 5v2m0 1v1m0 9v2m0 2v1m0 1v1m0 2v1m0 1v1m0 6v1m0 1v1m0 17v1m0 25v1m0 14v1m0 1v1m0 14v1m0 25v1m0 7v1m0 1v1m0 21v1m0 9v2m0 12v1m0 3v1m0 5v1m0 2v1m0 5v1m0 9v2m0 6v1m0 4v1m0 1v1m0 7v1m0 12v1m0 2v1m0 8v1m0 3v2m0 9v1M69 21v1m0 2v1m0 1v1m0 18v3m0 4v1m0 1v1m0 2v1m0 8v1m0 7v1m0 3v1m0 42v2m0 1v1m0 14v1m0 9v1m0 2v1m0 1v1m0 23v1m0 29v1m0 1v3m0 10v1m0 5v1m0 9v1m0 10v1m0 7v1m0 10v1m0 4v1m0 6v1m0 7v1m0 8v2m0 9v1m0 1v1m0 15v1m0 1v1m0 20v1m0 6v1m0 5v1M70 26v2m0 4v1m0 3v3m0 1v1m0 6v1m0 2v1m0 8v2m0 2v1m0 4v1m0 3v1m0 2v1m0 20v1m0 1v2m0 2v2m0 15v1m0 21v1m0 4v1m0 38v1m0 19v1m0 4v2m0 23v3m0 16v1m0 7v1m0 4v1m0 1v1m0 7v2m0 14v1m0 1v1m0 2v1m0 4v1m0 4v1m0 2v1m0 3v1m0 2v1m0 7v1m0 2v1m0 1v1m0 33v1m0 12v2m0 1v1m0 2v1m0 3v1m0 4v1m0 10v1M71 32v1m0 2v1m0 21v2m0 4v1m0 9v1m0 1v1m0 23v1m0 5v1m0 11v1m0 16v1m0 9v1m0 21v1m0 2v1m0 18v1m0 16v1m0 6v1m0 9v1m0 12v2m0 4v1m0 7v1m0 40v1m0 8v1m0 3v1M72 23v1m0 5v1m0 15v1m0 9v2m0 1v1m0 6v1m0 15v1m0 3v1m0 55v1m0 3v1m0 2v1m0 4v1m0 4v2m0 11v1m0 14v1m0 17v1m0 1v1m0 3v1m0 12v1m0 10v1m0 5v1m0 2v1m0 1v1m0 2v1m0 6v1m0 4v1m0 4v5m0 5v1m0 1v1m0 7v1m0 12v1m0 4v2m0 1v1m0 29v1m0 2v1m0 3v1m0 26v1m0 15v1m0 16v1M73 19v1m0 4v2m0 1v1m0 3v1m0 3v1m0 2v1m0 6v1m0 1v1m0 7v1m0 2v2m0 3v1m0 1v1m0 2v2m0 19v1m0 9v2m0 4v1m0 12v2m0 7v1m0 11v1m0 18v1m0 21v1m0 18v1m0 16v1m0 8v1m0 2v2m0 7v1m0 6v1m0 14v1m0 11v1m0 4v2m0 16v3m0 3v2m0 9v1m0 9v1m0 7v1m0 4v1m0 2v1m0 9v2m0 12v1m0 1v1m0 1v1m0 9v2m0 10v1m0 5v1m0 3v1M74 22v1m0 4v1m0 1v1m0 3v2m0 3v1m0 2v2m0 2v1m0 5v1m0 9v2m0 9v1m0 21v1m0 1v2m0 11v1m0 2v1m0 8v1m0 6v1m0 6v1m0 13v1m0 19v1m0 3v1m0 7v1m0 2v2m0 12v2m0 14v2m0 5v1m0 5v1m0 5v1m0 15v1m0 6v1m0 4v2m0 3v1m0 4v1m0 12v1m0 13v1m0 8v1m0 8v1m0 4v1m0 4v1m0 5v1m0 7v1m0 2v1m0 2v1m0 2v1m0 2v1m0 5v1m0 2v2m0 4v1m0 2v1m0 20v1m0 2v3M75 25v1m0 6v1m0 1v1m0 2v1m0 5v1m0 11v1m0 15v1m0 1v1m0 1v1m0 3v1m0 8v1m0 14v1m0 1v1m0 4v1m0 4v1m0 11v1m0 2v1m0 1v1m0 2v1m0 4v1m0 11v1m0 1v1m0 3v2m0 4v1m0 13v2m0 1v1m0 2v1m0 24v2m0 1v1m0 4v1m0 7v2m0 1v1m0 6v1m0 1v1m0 11v1m0 2v1m0 4v1m0 1v1m0 17v1m0 1v2m0 5v1m0 11v1m0 3v1m0 13v1m0 9v1m0 6v2m0 6v2m0 2v1m0 1v1m0 4v1m0 1v1m0 9v1m0 17v2m0 3v1m0 2v1m0 7v1M76 20v1m0 4v1m0 5v1m0 9v1m0 14v1m0 1v1m0 23v1m0 5v1m0 9v1m0 25v1m0 7v1m0 13v1m0 24v1m0 6v2m0 1v1m0 13v1m0 19v1m0 2v1m0 4v2m0 22v1m0 32v1m0 2v2m0 6v1m0 7v1m0 3v1m0 3v1m0 11v1m0 19v1m0 9v1m0 28v1m0 18v2M77 29v1m0 1v1m0 11v1m0 6v1m0 18v1m0 2v1m0 2v1m0 5v1m0 13v1m0 1v1m0 2v2m0 2v1m0 4v2m0 24v1m0 1v1m0 3v1m0 2v1m0 14v1m0 1v2m0 8v1m0 25v1m0 2v2m0 2v1m0 4v1m0 4v2m0 7v1m0 15v2m0 3v2m0 8v1m0 7v1m0 2v1m0 8v2m0 16v1m0 15v1m0 4v2m0 3v1m0 1v1m0 15v1m0 11v1m0 2v1m0 2v1m0 9v1m0 3v1m0 17v1m0 3v1m0 12v1M78 24v1m0 8v1m0 9v1m0 4v1m0 13v1m0 5v1m0 13v1m0 7v1m0 22v1m0 1v1m0 3v1m0 8v1m0 19v1m0 9v1m0 12v1m0 2v1m0 13v1m0 14v1m0 2v1m0 1v1m0 9v2m0 15v1m0 2v1m0 12v1m0 4v1m0 4v1m0 19v1m0 15v1m0 2v1m0 3v1m0 23v3m0 6v1m0 6v2m0 18v1m0 2v1m0 1v1m0 6v1m0 2v3m0 2v1m0 5v1M79 19v1m0 1v1m0 7v2m0 9v1m0 5v1m0 1v1m0 3v1m0 3v1m0 7v1m0 2v1m0 8v1m0 34v1m0 9v2m0 1v1m0 4v1m0 2v1m0 15v1m0 1v1m0 6v1m0 3v2m0 6v1m0 5v1m0 16v1m0 7v2m0 9v1m0 1v1m0 2v1m0 4v1m0 11v1m0 26v1m0 20v1m0 7v3m0 2v1m0 8v1m0 1v1m0 6v1m0 5v1m0 7v1m0 1v1m0 10v1m0 5v1m0 8v2m0 2v2m0 4v1m0 6v1m0 4v1m0 2v1m0 5v2m0 3v1M80 31v1m0 5v1m0 8v1m0 5v1m0 3v1m0 3v1m0 2v1m0 22v1m0 2v1m0 1v1m0 30v1m0 6v3m0 9v1m0 1v1m0 1v1m0 7v1m0 2v2m0 8v1m0 17v1m0 10v1m0 7v1m0 4v1m0 12v1m0 4v1m0 11v1m0 3v1m0 8v1m0 10v1m0 6v2m0 14v1m0 20v1m0 22v1m0 2v1m0 7v1m0 1v1m0 13v1m0 8v1m0 6v1m0 1v1m0 24v1M81 25v1m0 1v1m0 12v1m0 2v1m0 4v1m0 15v1m0 2v1m0 6v1m0 2v1m0 13v2m0 4v1m0 4v1m0 8v1m0 10v2m0 2v1m0 4v1m0 7v3m0 13v1m0 1v1m0 6v1m0 2v1m0 17v1m0 10v1m0 5v1m0 21v1m0 11v1m0 3v2m0 7v1m0 4v4m0 1v1m0 6v1m0 8v1m0 4v1m0 8v1m0 9v1m0 7v2m0 10v1m0 12v1m0 4v1m0 13v1m0 1v1m0 3v1m0 1v1m0 7v1m0 3v1m0 9v1m0 3v4m0 11v1M82 28v1m0 3v1m0 9v1m0 9v1m0 33v1m0 34v1m0 2v1m0 1v1m0 14v1m0 4v1m0 1v1m0 2v1m0 10v1m0 4v1m0 5v1m0 1v2m0 7v1m0 6v1m0 14v1m0 3v1m0 6v1m0 12v1m0 18v1m0 7v1m0 3v1m0 1v1m0 3v2m0 22v1m0 8v1m0 12v1m0 1v1m0 7v1m0 3v1m0 13v1m0 2v1m0 1v1m0 2v1m0 23v3m0 7v1m0 3v1m0 1v1m0 2v1M83 24v1m0 6v1m0 32v1m0 10v1m0 2v1m0 25v1m0 15v1m0 3v1m0 1v1m0 5v1m0 22v1m0 10v1m0 12v1m0 5v1m0 40v1m0 6v1m0 1v1m0 13v1m0 6v1m0 2v1m0 16v1m0 4v1m0 7v1m0 2v1m0 17v1m0 4v1m0 3v1m0 18v1m0 3v1m0 10v1m0 2v1m0 4v1m0 21v1m0 10v1m0 2v1m0 1v1m0 4v1M84 16v1m0 1v1m0 20v1m0 20v2m0 4v1m0 8v1m0 5v3m0 23v1m0 15v1m0 10v1m0 8v1m0 14v1m0 11v1m0 15v1m0 7v1m0 9v1m0 3v1m0 10v1m0 3v1m0 8v1m0 7v1m0 9v1m0 1v1m0 8v1m0 15v1m0 1v1m0 3v1m0 18v1m0 4v1m0 25v1m0 13v1m0 10v2m0 8v1m0 2v1m0 10v1m0 12v1m0 4v1M85 35v1m0 1v1m0 3v1m0 3v1m0 4v1m0 1v2m0 7v1m0 4v2m0 7v1m0 2v1m0 11v1m0 2v1m0 11v1m0 1v1m0 5v1m0 3v1m0 9v2m0 17v1m0 6v1m0 4v1m0 6v1m0 3v1m0 5v2m0 2v1m0 8v1m0 3v1m0 12v1m0 17v1m0 4v1m0 5v1m0 7v1m0 7v1m0 4v1m0 8v1m0 13v1m0 20v1m0 7v1m0 3v1m0 34v1m0 1v1m0 10v1m0 11v2m0 1v1m0 2v1M86 19v1m0 3v1m0 10v1m0 12v3m0 4v1m0 5v1m0 8v1m0 2v1m0 18v1m0 1v1m0 11v1m0 20v1m0 3v1m0 24v1m0 2v1m0 17v1m0 6v1m0 8v1m0 1v1m0 14v1m0 1v1m0 3v1m0 6v1m0 6v1m0 11v2m0 18v1m0 6v1m0 1v1m0 2v1m0 9v1m0 3v1m0 12v2m0 1v1m0 7v2m0 19v1m0 4v1m0 1v1m0 19v2m0 12v1m0 5v1m0 17v1M87 24v1m0 8v1m0 40v1m0 13v1m0 9v1m0 3v1m0 8v1m0 5v2m0 11v1m0 8v2m0 7v1m0 9v1m0 4v1m0 3v1m0 4v1m0 23v1m0 14v1m0 11v2m0 9v2m0 4v2m0 4v1m0 11v1m0 3v1m0 2v2m0 8v1m0 24v1m0 12v2m0 4v1m0 7v1m0 6v1m0 1v1m0 5v1m0 7v1m0 9v2m0 9v1m0 11v1m0 9v1m0 2v1M88 24v1m0 3v1m0 5v1m0 7v1m0 3v1m0 10v3m0 15v1m0 4v1m0 3v1m0 4v2m0 4v1m0 13v1m0 10v1m0 13v3m0 9v1m0 19v2m0 2v1m0 8v1m0 6v1m0 8v1m0 19v1m0 38v1m0 2v1m0 15v1m0 6v1m0 6v1m0 2v1m0 5v1m0 2v2m0 5v2m0 6v1m0 4v2m0 21v1m0 8v1m0 8v1m0 1v1m0 7v1m0 6v1m0 4v1m0 3v1M89 16v2m0 3v1m0 2v1m0 11v1m0 5v1m0 3v1m0 10v2m0 8v2m0 4v1m0 5v1m0 2v1m0 4v1m0 3v1m0 18v1m0 2v1m0 4v1m0 11v1m0 2v1m0 6v1m0 16v1m0 23v4m0 15v1m0 12v2m0 1v1m0 25v1m0 1v1m0 2v1m0 21v1m0 1v1m0 3v1m0 2v1m0 5v1m0 2v1m0 14v1m0 15v1m0 5v1m0 5v1m0 24v1m0 6v1m0 11v1m0 1v1m0 3v1m0 7v1m0 1v1M90 18v1m0 8v1m0 13v1m0 3v1m0 2v1m0 4v1m0 2v1m0 23v1m0 1v1m0 6v1m0 16v1m0 3v2m0 7v1m0 4v2m0 25v1m0 13v1m0 5v1m0 8v2m0 18v1m0 2v1m0 2v1m0 5v1m0 3v1m0 5v1m0 1v1m0 9v1m0 13v1m0 1v1m0 1v2m0 11v1m0 1v2m0 3v1m0 1v1m0 1v1m0 8v1m0 6v2m0 3v1m0 6v1m0 2v1m0 5v1m0 1v1m0 7v1m0 7v1m0 4v1m0 5v1m0 1v1m0 6v1m0 4v1m0 3v1m0 1v1m0 6v1m0 3v1m0 5v1M91 27v1m0 10v1m0 2v3m0 12v1m0 8v2m0 3v2m0 36v1m0 4v1m0 6v1m0 5v1m0 6v1m0 6v1m0 18v1m0 3v1m0 1v1m0 6v1m0 13v1m0 2v1m0 3v1m0 4v1m0 7v1m0 2v1m0 11v1m0 22v1m0 8v1m0 24v1m0 8v1m0 2v1m0 12v1m0 1v1m0 3v1m0 6v1m0 6v1m0 8v1m0 1v1m0 16v1m0 8v1m0 10v1m0 8v2m0 15v1M92 17v1m0 3v1m0 2v1m0 10v1m0 4v1m0 2v1m0 4v1m0 4v1m0 30v1m0 5v1m0 6v1m0 9v1m0 4v1m0 12v2m0 4v1m0 4v1m0 12v1m0 4v1m0 11v1m0 21v1m0 4v1m0 9v1m0 2v1m0 8v1m0 13v2m0 3v1m0 10v1m0 14v1m0 19v1m0 3v1m0 1v1m0 10v1m0 22v1m0 9v1m0 13v1m0 1v1m0 2v1m0 11v1m0 20v1m0 2v1m0 1v1M93 16v1m0 5v1m0 2v1m0 10v2m0 2v3m0 6v1m0 8v2m0 8v1m0 1v1m0 1v1m0 3v1m0 6v1m0 14v1m0 3v2m0 5v1m0 9v1m0 4v1m0 3v1m0 16v1m0 9v3m0 11v1m0 1v1m0 5v3m0 2v1m0 5v1m0 5v1m0 6v1m0 2v1m0 24v1m0 19v1m0 1v1m0 3v1m0 1v1m0 4v1m0 14v1m0 3v1m0 4v2m0 6v1m0 3v2m0 12v1m0 19v1m0 7v1m0 2v1m0 6v1m0 11v1m0 13v2m0 6v3m0 5v1m0 1v1m0 1v1m0 4v1m0 1v1M94 20v1m0 5v1m0 13v1m0 2v1m0 5v1m0 5v1m0 14v1m0 7v1m0 4v2m0 4v1m0 12v1m0 2v1m0 17v1m0 18v1m0 14v1m0 8v2m0 1v1m0 3v2m0 4v1m0 21v1m0 4v1m0 3v1m0 2v1m0 27v1m0 14v1m0 6v1m0 4v3m0 5v1m0 23v1m0 1v1m0 1v1m0 2v2m0 1v1m0 1v1m0 1v1m0 2v1m0 1v1m0 8v2m0 9v1m0 17v2m0 6v1m0 1v1m0 3v3m0 10v3m0 1v1m0 4v1M95 14v2m0 8v1m0 7v1m0 12v1m0 3v1m0 2v1m0 2v1m0 13v1m0 2v1m0 2v1m0 33v1m0 10v3m0 6v1m0 2v1m0 1v1m0 2v1m0 8v1m0 2v1m0 1v1m0 1v1m0 4v1m0 1v1m0 3v2m0 13v1m0 22v1m0 19v1m0 20v1m0 5v2m0 13v1m0 6v1m0 3v1m0 4v1m0 13v1m0 15v1m0 2v2m0 16v1m0 10v1m0 6v1m0 8v2m0 1v1m0 4v1m0 9v1m0 16v1m0 8v1M96 16v1m0 12v1m0 4v1m0 3v2m0 15v2m0 2v1m0 4v1m0 4v1m0 10v1m0 11v1m0 3v1m0 12v1m0 7v1m0 13v1m0 4v1m0 1v1m0 1v1m0 5v1m0 5v1m0 4v1m0 7v1m0 4v1m0 5v1m0 7v1m0 10v1m0 5v1m0 4v1m0 13v1m0 15v1m0 80v1m0 7v1m0 25v1m0 7v1m0 20v1m0 5v1M97 16v1m0 8v1m0 4v1m0 9v1m0 4v1m0 7v1m0 7v1m0 9v1m0 2v2m0 1v2m0 2v3m0 44v1m0 23v2m0 6v1m0 14v1m0 18v1m0 5v1m0 4v1m0 7v1m0 27v1m0 2v1m0 19v1m0 8v1m0 1v1m0 2v1m0 8v1m0 10v1m0 2v1m0 6v1m0 3v1m0 2v1m0 15v1m0 2v1m0 3v1m0 8v1m0 4v1m0 1v1m0 6v1m0 10v1m0 4v1m0 6v1m0 11v1m0 1v1M98 16v1m0 10v1m0 7v1m0 1v1m0 14v1m0 1v1m0 30v1m0 8v1m0 6v1m0 1v3m0 9v1m0 13v1m0 16v2m0 9v1m0 3v1m0 30v1m0 7v1m0 3v1m0 5v1m0 5v1m0 8v1m0 3v1m0 8v1m0 29v1m0 1v1m0 3v1m0 10v1m0 3v1m0 1v1m0 4v1m0 3v1m0 11v1m0 6v1m0 22v1m0 11v1m0 3v1m0 9v1m0 9v1m0 20v1M99 24v1m0 6v1m0 1v2m0 2v1m0 3v1m0 3v1m0 15v1m0 15v1m0 14v1m0 29v1m0 2v1m0 3v1m0 6v1m0 5v2m0 46v1m0 2v1m0 18v1m0 34v1m0 2v1m0 29v2m0 23v1m0 25v1m0 5v1m0 17v1m0 6v1m0 6v1m0 8v1m0 10v1M100 27v1m0 3v1m0 2v1m0 4v2m0 3v1m0 11v1m0 11v2m0 28v1m0 26v1m0 6v1m0 1v1m0 2v1m0 8v1m0 1v1m0 10v1m0 1v1m0 7v1m0 23v1m0 2v1m0 8v1m0 1v1m0 5v1m0 11v1m0 5v1m0 32v1m0 23v1m0 3v2m0 23v2m0 2v1m0 53v1m0 8v1m0 3v2m0 1v2m0 2v1m0 4v1m0 1v1M101 18v1m0 28v1m0 1v1m0 13v1m0 3v1m0 13v1m0 1v1m0 10v1m0 26v1m0 15v2m0 2v2m0 2v2m0 2v1m0 22v1m0 1v2m0 2v1m0 1v1m0 3v1m0 7v2m0 6v1m0 7v1m0 5v1m0 5v1m0 1v1m0 11v2m0 18v1m0 8v1m0 16v1m0 19v1m0 8v1m0 1v1m0 3v2m0 18v1m0 31v1m0 3v1m0 10v1M102 24v1m0 10v1m0 2v1m0 4v1m0 2v1m0 4v1m0 5v1m0 6v1m0 43v1m0 1v1m0 22v1m0 4v1m0 17v1m0 7v1m0 4v1m0 3v1m0 3v1m0 5v1m0 8v1m0 5v2m0 5v1m0 2v1m0 20v1m0 8v1m0 11v2m0 18v2m0 6v1m0 4v1m0 7v3m0 22v2m0 15v1m0 4v2m0 3v2m0 5v1m0 6v1m0 4v1m0 3v1m0 10v1m0 2v1m0 2v1m0 5v2m0 8v2M103 27v1m0 10v1m0 3v1m0 7v1m0 9v1m0 4v1m0 6v1m0 4v2m0 6v2m0 14v1m0 6v1m0 19v1m0 33v1m0 5v1m0 2v1m0 8v1m0 8v1m0 17v1m0 15v1m0 1v1m0 22v1m0 15v1m0 8v1m0 7v1m0 2v1m0 8v1m0 5v2m0 7v1m0 3v1m0 16v1m0 1v1m0 13v1m0 8v1m0 1v2m0 4v1m0 4v1m0 11v2m0 2v1m0 3v1m0 1v1m0 7v1m0 4v1M104 26v1m0 1v1m0 3v1m0 1v2m0 3v1m0 4v1m0 8v1m0 4v2m0 15v2m0 5v1m0 6v1m0 3v1m0 6v1m0 2v1m0 17v1m0 9v2m0 17v3m0 15v1m0 8v1m0 4v2m0 1v1m0 13v1m0 1v1m0 8v2m0 20v1m0 5v3m0 1v2m0 2v1m0 6v1m0 1v1m0 1v2m0 3v1m0 9v1m0 1v1m0 19v1m0 27v1m0 11v1m0 7v1m0 4v1m0 5v1m0 21v2m0 2v2m0 2v2m0 1v1m0 5v1m0 1v1M105 20v1m0 1v1m0 14v1m0 2v1m0 5v1m0 16v1m0 9v1m0 9v1m0 7v1m0 3v1m0 7v1m0 4v1m0 8v1m0 5v1m0 7v1m0 1v1m0 18v1m0 2v1m0 15v1m0 2v1m0 13v1m0 12v1m0 6v1m0 13v1m0 10v1m0 35v1m0 3v1m0 3v1m0 2v1m0 3v2m0 27v1m0 7v1m0 4v1m0 17v1m0 2v1m0 8v1m0 3v1m0 17v1m0 19v1M106 24v1m0 11v1m0 1v2m0 28v1m0 8v1m0 7v1m0 11v1m0 6v2m0 3v1m0 16v1m0 6v1m0 14v1m0 3v1m0 6v1m0 10v1m0 3v1m0 1v2m0 15v1m0 1v1m0 1v1m0 15v1m0 4v1m0 3v1m0 4v1m0 2v1m0 39v1m0 1v1m0 11v1m0 2v1m0 19v1m0 6v1m0 5v1m0 7v1m0 2v2m0 14v1m0 3v1m0 11v1m0 2v1m0 4v1m0 7v1m0 9v1m0 1v1m0 1v1m0 1v2m0 3v1m0 3v1M108 17v1m0 5v2m0 12v1m0 2v1m0 1v1m0 13v1m0 9v2m0 7v1m0 7v1m0 4v1m0 23v1m0 3v1m0 28v1m0 33v2m0 23v1m0 13v1m0 7v1m0 1v1m0 6v2m0 27v1m0 2v1m0 3v1m0 4v1m0 3v1m0 15v1m0 5v2m0 4v1m0 2v1m0 21v2m0 10v1m0 19v1m0 4v1m0 5v1m0 2v1m0 7v1m0 3v1m0 6v1m0 1v1M110 19v1m0 3v1m0 12v1m0 6v1m0 17v1m0 1v1m0 4v1m0 4v1m0 12v1m0 1v1m0 3v1m0 1v1m0 3v2m0 6v1m0 5v1m0 15v1m0 2v1m0 1v1m0 2v1m0 6v1m0 10v1m0 8v1m0 6v1m0 5v2m0 3v1m0 23v3m0 9v1m0 1v1m0 22v2m0 12v3m0 5v1m0 4v1m0 5v1m0 9v1m0 15v1m0 2v1m0 12v1m0 1v2m0 3v2m0 1v1m0 1v1m0 2v1m0 6v1m0 9v1m0 3v2m0 8v1m0 23v1m0 2v1m0 1v1M112 16v1m0 9v1m0 10v2m0 29v1m0 6v1m0 10v1m0 1v1m0 3v1m0 1v1m0 6v1m0 21v2m0 23v1m0 14v1m0 4v1m0 2v1m0 4v1m0 20v1m0 3v1m0 21v1m0 4v1m0 1v1m0 12v1m0 2v2m0 19v1m0 6v1m0 1v1m0 1v1m0 5v1m0 1v1m0 5v1m0 5v1m0 24v2m0 8v2m0 31v1m0 1v1m0 2v1m0 13v1m0 15v1M114 28v1m0 1v1m0 31v1m0 9v1m0 3v1m0 24v1m0 5v1m0 17v1m0 3v1m0 14v2m0 28v1m0 4v1m0 11v1m0 10v1m0 3v1m0 19v1m0 7v1m0 15v1m0 15v1m0 16v1m0 32v1m0 4v1m0 5v2m0 5v1m0 26v1m0 11v2m0 1v1m0 5v2m0 15v1M116 26v1m0 1v1m0 1v1m0 2v2m0 15v1m0 1v2m0 3v1m0 3v1m0 10v1m0 1v1m0 10v1m0 4v1m0 5v1m0 6v1m0 4v1m0 6v1m0 3v1m0 5v1m0 16v1m0 2v1m0 12v1m0 3v1m0 6v1m0 2v1m0 3v1m0 4v1m0 7v3m0 8v1m0 14v1m0 4v1m0 2v1m0 15v1m0 1v1m0 13v1m0 2v1m0 5v1m0 2v1m0 7v1m0 7v1m0 6v2m0 7v1m0 3v1m0 11v1m0 13v1m0 15v1m0 2v1m0 7v1m0 11v2m0 7v1m0 5v2m0 6v1M118 23v1m0 2v2m0 15v1m0 4v1m0 6v1m0 1v1m0 12v1m0 2v1m0 6v1m0 9v1m0 4v1m0 5v1m0 2v2m0 30v1m0 13v1m0 4v1m0 32v1m0 5v1m0 8v1m0 3v1m0 11v1m0 10v1m0 3v1m0 6v1m0 1v1m0 14v2m0 16v1m0 3v1m0 5v1m0 7v2m0 1v1m0 8v1m0 5v1m0 5v2m0 1v1m0 9v1m0 1v1m0 21v1m0 6v1m0 4v1m0 9v1m0 4v1m0 7v2m0 9v1m0 2v1M120 28v1m0 8v1m0 2v1m0 14v1m0 2v1m0 34v1m0 1v1m0 19v1m0 6v1m0 1v1m0 1v1m0 3v1m0 17v1m0 13v1m0 3v1m0 5v1m0 5v1m0 1v1m0 2v2m0 11v1m0 4v1m0 1v1m0 12v1m0 2v1m0 4v1m0 7v1m0 26v1m0 2v1m0 14v1m0 7v1m0 22v1m0 4v1m0 15v2m0 16v1m0 13v1m0 12v2m0 11v1m0 8v1M125 18v2m0 11v1m0 20v1m0 16v1m0 1v1m0 3v1m0 12v1m0 18v1m0 1v1m0 1v1m0 5v2m0 1v1m0 42v1m0 8v2m0 9v2m0 31v1m0 1v1m0 1v1m0 15v1m0 3v1m0 3v1m0 16v1m0 15v1m0 3v1m0 3v1m0 12v1m0 9v1m0 40v1m0 12v1m0 8v1m0 9v1m0 14v1m0 7v1M130 28v1m0 4v1m0 3v1m0 3v1m0 7v1m0 13v1m0 1v1m0 20v1m0 2v2m0 12v2m0 1v1m0 4v1m0 4v1m0 1v2m0 3v1m0 2v1m0 2v1m0 4v1m0 10v1m0 42v1m0 5v1m0 2v1m0 12v1m0 5v1m0 8v1m0 1v1m0 12v1m0 1v1m0 10v1m0 5v1m0 2v1m0 7v1m0 1v1m0 4v1m0 2v1m0 2v1m0 8v1m0 3v1m0 1v1m0 20v1m0 3v1m0 2v1m0 15v1m0 8v1m0 9v1m0 5v2m0 1v1m0 11v1m0 11v2m0 3v1m0 2v1m0 1v1M135 24v1m0 18v1m0 17v1m0 8v1m0 7v1m0 9v1m0 15v1m0 5v1m0 14v1m0 20v1m0 1v1m0 16v1m0 3v3m0 1v1m0 13v1m0 14v1m0 12v1m0 24v2m0 3v1m0 23v1m0 2v1m0 16v1m0 5v2m0 4v1m0 4v1m0 11v1m0 3v1m0 7v1m0 20v1m0 7v1m0 7v1m0 12v1m0 7v1M140 21v1m0 2v2m0 5v2m0 6v1m0 4v1m0 8v1m0 4v1m0 1v1m0 9v1m0 19v1m0 3v1m0 5v1m0 1v1m0 8v1m0 12v1m0 5v1m0 3v1m0 5v1m0 3v1m0 1v1m0 17v1m0 5v1m0 26v1m0 7v1m0 6v2m0 11v1m0 10v1m0 13v1m0 3v2m0 14v1m0 4v1m0 22v1m0 3v1m0 7v1m0 3v1m0 10v1m0 4v1m0 22v2m0 15v1m0 14v1m0 3v1m0 1v1M145 22v1m0 3v1m0 2v1m0 5v1m0 6v1m0 1v1m0 6v1m0 2v1m0 2v1m0 2v1m0 5v1m0 2v1m0 2v1m0 2v1m0 1v1m0 10v1m0 2v1m0 6v1m0 6v2m0 5v1m0 63v1m0 12v1m0 3v1m0 12v2m0 18v1m0 8v1m0 26v1m0 18v1m0 3v1m0 13v3m0 2v1m0 24v1m0 7v1m0 8v1m0 26v1m0 8v1m0 6v1m0 12v1M150 22v1m0 5v1m0 15v1m0 8v1m0 32v2m0 15v1m0 19v1m0 16v1m0 44v3m0 36v1m0 5v1m0 11v1m0 18v1m0 20v1m0 6v1m0 16v1m0 9v1m0 15v1m0 33v1m0 16v2m0 17v1"/>
<path stroke="#481a6c" d="M0 9v4m0 1v2m0 6v1m0 7v1m0 2v1m0 1v1m0 2v1m0 5v2m0 7v1m0 3v2m0 2v1m0 9v2m0 10v1m0 2v1m0 1v1m0 6v1m0 1v2m0 3v2m0 15v1m0 4v1m0 19v1m0 13v1m0 22v1m0 27v1m0 4v2m0 4v1m0 1v1m0 20v1m0 11v1m0 11v1m0 15v1m0 6v1m0 9v2m0 10v1m0 8v2m0 5v1m0 4v1m0 14v1m0 3v1m0 6v1m0 4v3m0 4v1m0 3v1m0 2v1m0 1v2m0 15v2M1 10v3m0 3v1m0 16v1m0 4v1m0 2v1m0 3v1m0 6v1m0 8v1m0 8v1m0 7v1m0 12v1m0 10v2m0 3v1m0 5v2m0 5v1m0 8v1m0 7v1m0 2v1m0 1v1m0 3v1m0 8v2m0 2v1m0 1v1m0 3v2m0 2v2m0 5v1m0 8v1m0 3v1m0 23v1m0 8v1m0 13v1m0 28v2m0 2v1m0 9v2m0 4v1m0 1v2m0 1v1m0 13v1m0 17v1m0 5v1m0 6v2m0 6v1m0 11v1m0 2v1m0 3v1m0 1v1m0 4v1m0 16v1m0 2v1m0 5v1m0 2v1m0 1v1M2 10v1m0 1v1m0 7v1m0 8v1m0 8v1m0 4v1m0 8v1m0 10v2m0 1v2m0 19v1m0 6v1m0 12v1m0 5v1m0 9v1m0 6v1m0 1v1m0 1v1m0 1v1m0 12v1m0 3v3m0 6v1m0 16v1m0 2v1m0 1v1m0 7v1m0 10v1m0 15v1m0 27v1m0 1v1m0 13v2m0 1v1m0 10v1m0 4v1m0 9v1m0 22v1m0 5v1m0 5v2m0 4v2m0 2v1m0 4v1m0 6v2m0 5v1m0 7v1m0 1v1m0 2v1m0 5v2m0 2v3m0 7v1m0 14v1M3 10v3m0 6v1m0 4v1m0 4v1m0 13v1m0 3v1m0 2v1m0 13v1m0 10v1m0 4v2m0 4v1m0 5v1m0 23v1m0 3v1m0 23v1m0 3v1m0 17v1m0 3v3m0 6v1m0 3v1m0 14v1m0 2v2m0 4v1m0 20v1m0 10v1m0 13v1m0 8v1m0 2v1m0 3v1m0 14v1m0 6v1m0 4v1m0 5v1m0 1v1m0 3v1m0 6v3m0 5v1m0 7v1m0 10v1m0 5v1m0 3v1m0 34v1M4 0v1m0 9v3m0 8v2m0 4v2m0 5v1m0 3v1m0 6v2m0 2v1m0 8v1m0 20v1m0 12v1m0 4v1m0 11v1m0 18v1m0 5v1m0 3v1m0 22v2m0 4v1m0 8v2m0 1v3m0 11v1m0 8v1m0 2v1m0 5v1m0 4v2m0 6v2m0 2v1m0 14v1m0 7v1m0 17v1m0 11v2m0 9v1m0 26v1m0 15v1m0 13v1m0 2v1m0 9v1m0 7v1m0 6v1m0 25v2M5 12v2m0 9v1m0 26v1m0 2v1m0 10v1m0 5v1m0 7v1m0 6v1m0 11v1m0 2v1m0 4v1m0 29v1m0 1v3m0 3v1m0 8v1m0 5v1m0 25v1m0 2v1m0 8v1m0 4v1m0 20v2m0 4v1m0 4v1m0 5v2m0 8v3m0 4v1m0 20v1m0 3v1m0 35v1m0 4v1m0 3v3m0 3v1m0 11v1m0 3v1m0 8v1m0 28v1m0 1v1m0 2v1M6 14v2m0 2v1m0 9v1m0 1v1m0 2v2m0 12v1m0 25v1m0 1v1m0 2v1m0 11v1m0 9v1m0 2v1m0 1v1m0 12v1m0 10v1m0 7v1m0 2v1m0 14v1m0 7v3m0 6v1m0 26v1m0 6v1m0 21v1m0 3v1m0 6v1m0 5v1m0 3v1m0 7v1m0 7v1m0 10v1m0 8v1m0 4v1m0 2v1m0 14v1m0 1v1m0 3v1m0 17v1m0 4v1m0 4v1m0 5v1m0 6v1m0 2v1m0 1v1m0 8v1m0 4v1m0 9v2m0 3v1M7 15v1m0 2v1m0 3v1m0 14v1m0 5v1m0 1v1m0 5v1m0 8v1m0 8v1m0 7v1m0 6v1m0 3v1m0 2v1m0 2v2m0 2v1m0 16v1m0 1v1m0 1v1m0 3v1m0 1v1m0 1v1m0 5v2m0 3v2m0 2v1m0 3v1m0 15v1m0 34v2m0 6v1m0 6v1m0 3v1m0 1v1m0 1v2m0 4v2m0 22v1m0 19v1m0 25v1m0 4v2m0 13v1m0 1v1m0 1v1m0 8v1m0 1v1m0 9v1m0 6v1m0 6v1m0 2v2m0 1v1m0 5v2m0 3v2m0 2v2m0 11v1M8 19v1m0 1v2m0 3v1m0 4v1m0 3v1m0 3v1m0 3v1m0 13v1m0 2v1m0 6v1m0 2v1m0 2v1m0 6v1m0 1v1m0 1v1m0 5v1m0 6v3m0 3v1m0 8v2m0 2v1m0 17v1m0 3v1m0 10v1m0 6v1m0 7v1m0 17v2m0 19v1m0 2v2m0 2v1m0 2v2m0 14v1m0 1v1m0 1v1m0 9v1m0 1v1m0 2v1m0 4v1m0 7v1m0 4v1m0 2v2m0 1v1m0 8v1m0 4v1m0 12v1m0 7v1m0 5v2m0 7v1m0 5v1m0 4v1m0 8v1m0 9v1m0 10v1m0 9v1m0 4v1m0 3v1m0 5v1M9 20v1m0 1v1m0 2v2m0 2v1m0 3v1m0 2v3m0 3v1m0 7v1m0 10v1m0 12v1m0 3v1m0 1v1m0 8v1m0 4v1m0 6v1m0 1v1m0 3v2m0 6v1m0 3v1m0 5v1m0 6v3m0 17v2m0 11v2m0 12v1m0 8v1m0 6v1m0 1v1m0 1v1m0 31v2m0 4v1m0 28v1m0 2v1m0 12v2m0 15v1m0 11v1m0 3v1m0 3v1m0 37v1m0 3v1m0 11v1m0 7v1m0 9v2m0 2v1m0 6v1M10 13v1m0 9v1m0 6v1m0 11v1m0 1v1m0 1v1m0 10v1m0 2v1m0 4v1m0 20v1m0 21v1m0 3v1m0 1v1m0 6v1m0 3v1m0 3v1m0 9v1m0 1v1m0 10v1m0 3v1m0 10v1m0 8v1m0 1v1m0 1v1m0 4v1m0 30v1m0 22v1m0 3v1m0 9v1m0 3v1m0 2v1m0 11v1m0 11v1m0 3v1m0 2v1m0 1v3m0 9v1m0 2v1m0 12v1m0 19v2m0 1v1m0 1v1m0 3v2m0 2v2m0 5v1m0 3v1m0 3v1m0 5v1m0 3v1m0 6v1m0 1v1m0 1v2m0 3v1M11 21v1m0 1v1m0 8v2m0 3v1m0 3v1m0 4v1m0 1v1m0 15v1m0 1v2m0 10v1m0 4v1m0 5v1m0 5v1m0 5v1m0 10v1m0 5v1m0 5v2m0 9v1m0 2v1m0 7v1m0 3v1m0 4v1m0 5v1m0 2v1m0 21v1m0 19v2m0 2v1m0 7v1m0 3v1m0 20v1m0 1v2m0 3v1m0 4v1m0 12v1m0 2v1m0 33v1m0 3v1m0 9v1m0 4v1m0 7v2m0 4v1m0 2v1m0 3v2m0 6v1m0 1v1m0 5v1m0 2v1m0 1v1m0 6v1m0 3v2m0 4v1m0 4v1M12 18v1m0 3v1m0 11v1m0 1v1m0 4v1m0 13v1m0 4v1m0 1v1m0 2v1m0 3v1m0 6v1m0 6v1m0 7v1m0 5v1m0 4v1m0 12v1m0 1v1m0 1v1m0 2v1m0 28v1m0 14v1m0 3v1m0 9v1m0 10v1m0 1v1m0 10v1m0 1v1m0 2v2m0 3v1m0 7v1m0 10v1m0 1v1m0 1v1m0 2v2m0 5v2m0 5v1m0 1v1m0 16v1m0 5v1m0 13v2m0 15v1m0 1v3m0 1v1m0 16v3m0 1v1m0 7v1m0 12v1m0 1v1m0 19v1m0 2v1m0 1v1m0 5v1M13 25v1m0 3v1m0 3v1m0 18v2m0 4v1m0 2v1m0 9v1m0 6v1m0 6v1m0 14v1m0 16v1m0 2v1m0 1v2m0 4v1m0 10v1m0 6v1m0 39v1m0 16v1m0 4v1m0 4v1m0 13v1m0 6v2m0 6v1m0 1v1m0 9v1m0 17v1m0 1v1m0 7v1m0 12v5m0 4v1m0 8v1m0 11v1m0 7v1m0 8v1m0 3v2m0 7v1m0 2v1m0 4v1m0 2v1m0 15v2M14 19v1m0 5v1m0 7v2m0 1v1m0 8v1m0 10v1m0 8v2m0 7v1m0 4v1m0 18v1m0 19v1m0 5v1m0 2v1m0 10v1m0 67v2m0 6v1m0 1v1m0 10v1m0 5v1m0 2v1m0 25v1m0 2v2m0 7v1m0 8v1m0 4v1m0 1v2m0 1v1m0 22v1m0 1v2m0 4v1m0 3v1m0 10v1m0 2v1m0 4v1m0 6v1m0 5v1m0 6v1m0 23v1M15 17v2m0 4v1m0 1v2m0 4v2m0 4v2m0 4v1m0 3v1m0 6v1m0 4v1m0 1v1m0 1v1m0 1v1m0 2v1m0 19v1m0 2v1m0 12v1m0 2v1m0 9v1m0 4v1m0 1v2m0 24v3m0 4v1m0 5v1m0 9v1m0 4v1m0 2v1m0 3v1m0 20v1m0 6v1m0 2v1m0 4v1m0 3v2m0 14v1m0 1v1m0 7v1m0 2v1m0 1v1m0 5v1m0 1v1m0 1v1m0 13v1m0 6v1m0 9v2m0 1v1m0 30v1m0 2v1m0 2v1m0 8v1m0 6v1m0 2v2m0 4v1m0 8v2m0 13v1m0 4v1m0 1v1m0 3v2M16 26v1m0 5v1m0 4v1m0 15v2m0 1v1m0 3v1m0 2v1m0 31v1m0 6v1m0 15v1m0 4v1m0 2v1m0 7v1m0 9v4m0 7v1m0 16v2m0 3v1m0 8v1m0 14v1m0 8v1m0 3v1m0 2v1m0 4v1m0 6v1m0 1v1m0 3v1m0 1v1m0 14v1m0 3v1m0 8v1m0 16v1m0 2v1m0 4v1m0 25v1m0 7v1m0 5v1m0 22v1m0 4v3m0 15v1m0 6v1m0 11v2M17 30v2m0 2v1m0 28v1m0 25v1m0 14v1m0 22v1m0 2v1m0 5v1m0 4v1m0 4v1m0 5v2m0 5v1m0 19v1m0 6v1m0 8v1m0 1v2m0 18v1m0 15v1m0 13v1m0 24v1m0 2v1m0 6v1m0 9v1m0 2v1m0 23v2m0 8v1m0 1v1m0 2v1m0 3v1m0 6v1m0 16v3m0 2v1m0 1v1m0 2v1m0 15v1m0 6v1M18 35v2m0 1v1m0 2v1m0 5v1m0 1v1m0 1v1m0 1v2m0 7v1m0 34v1m0 16v1m0 11v1m0 36v1m0 15v1m0 6v1m0 14v1m0 5v1m0 27v1m0 5v1m0 14v1m0 2v2m0 51v1M19 13v1m0 1v1m0 29v2m0 6v1m0 9v1m0 5v1m0 2v1m0 12v1m0 40v1m0 10v1m0 10v1m0 6v1m0 23v1m0 8v1m0 5v1m0 6v1m0 25v1m0 17v1m0 11v1m0 41v1m0 29v2m0 2v1m0 47v1m0 16v1m0 4v1M20 22v1m0 1v1m0 4v1m0 8v1m0 15v1m0 19v1m0 2v1m0 13v1m0 16v2m0 13v1m0 23v2m0 6v1m0 17v1m0 17v1m0 4v1m0 25v1m0 2v1m0 15v1m0 10v1m0 1v1m0 10v1m0 3v1m0 19v1m0 9v4m0 6v1m0 6v1m0 4v1m0 8v1m0 39v1m0 13v2M21 22v1m0 1v2m0 1v1m0 4v1m0 19v1m0 37v1m0 38v1m0 2v1m0 19v1m0 2v1m0 13v1m0 21v1m0 14v1m0 16v1m0 1v1m0 4v2m0 1v1m0 5v1m0 20v2m0 18v1m0 8v2m0 9v1m0 3v1m0 19v1m0 2v1m0 11v1m0 6v2m0 5v2m0 6v1m0 16v1m0 21v1m0 1v1M22 15v2m0 3v2m0 3v1m0 1v1m0 19v1m0 17v1m0 10v2m0 7v1m0 32v1m0 16v2m0 16v1m0 1v1m0 5v1m0 29v2m0 4v1m0 8v1m0 4v2m0 13v3m0 6v2m0 20v2m0 27v1m0 6v1m0 3v1m0 5v2m0 2v1m0 5v1m0 20v1m0 5v2m0 14v1m0 2v1m0 7v1m0 3v1m0 4v1m0 14v1m0 2v1M23 13v1m0 1v1m0 4v1m0 13v1m0 5v2m0 5v1m0 5v1m0 7v1m0 2v1m0 10v1m0 4v1m0 1v1m0 14v1m0 1v1m0 1v2m0 12v1m0 2v4m0 11v1m0 1v1m0 1v1m0 23v1m0 2v1m0 5v1m0 6v1m0 3v1m0 15v1m0 3v1m0 1v2m0 6v3m0 11v1m0 17v1m0 5v2m0 14v1m0 19v1m0 6v1m0 8v1m0 3v1m0 2v1m0 7v2m0 3v2m0 3v1m0 14v1m0 2v1m0 12v1m0 6v1m0 4v1m0 5v1m0 5v1m0 6v1m0 5v1m0 8v1M24 21v1m0 4v1m0 9v2m0 7v1m0 16v1m0 1v4m0 6v1m0 11v1m0 2v2m0 14v1m0 1v1m0 13v2m0 2v1m0 10v2m0 5v1m0 1v1m0 1v1m0 2v2m0 1v1m0 11v2m0 2v1m0 2v1m0 23v1m0 7v1m0 2v2m0 8v1m0 10v1m0 10v1m0 2v2m0 8v1m0 8v1m0 9v1m0 7v1m0 6v1m0 4v1m0 1v1m0 1v1m0 1v1m0 6v1m0 7v1m0 1v1m0 2v1m0 4v2m0 4v4m0 3v1m0 6v1m0 7v3m0 4v1m0 5v1m0 2v1m0 3v1M25 17v1m0 9v2m0 2v1m0 2v2m0 19v2m0 1v1m0 10v1m0 9v1m0 3v1m0 8v1m0 23v1m0 7v1m0 8v2m0 2v2m0 2v1m0 4v1m0 2v1m0 2v1m0 1v1m0 21v1m0 7v1m0 4v1m0 2v1m0 4v1m0 7v1m0 1v2m0 17v1m0 9v1m0 18v1m0 4v1m0 7v1m0 4v1m0 15v1m0 4v1m0 7v2m0 40v2m0 1v1m0 1v1m0 3v1m0 7v1m0 11v1m0 2v2m0 1v1m0 7v1m0 11v1M26 13v1m0 1v1m0 9v1m0 19v1m0 3v1m0 10v1m0 8v1m0 4v1m0 3v1m0 32v2m0 36v1m0 4v1m0 12v2m0 15v1m0 17v2m0 60v1m0 42v1m0 1v1m0 20v1m0 12v1m0 15v1m0 2v1m0 3v1m0 1v1m0 5v1m0 27v1M27 16v1m0 22v2m0 23v1m0 14v1m0 10v1m0 5v1m0 28v1m0 5v1m0 16v1m0 49v1m0 22v1m0 13v1m0 13v1m0 5v1m0 4v1m0 4v1m0 6v2m0 28v1m0 7v1m0 1v1m0 5v1m0 11v1m0 19v1m0 20v1m0 1v1m0 7v2m0 15v2m0 1v1M28 14v1m0 13v1m0 5v2m0 3v1m0 1v3m0 22v1m0 40v1m0 39v1m0 1v1m0 1v1m0 10v1m0 43v2m0 11v1m0 1v1m0 13v1m0 10v1m0 1v1m0 1v1m0 1v1m0 6v1m0 3v1m0 16v1m0 2v1m0 5v1m0 3v1m0 6v1m0 8v1m0 10v1m0 1v1m0 4v1m0 19v1m0 10v2m0 17v1m0 6v1m0 15v1m0 1v2M29 13v1m0 3v1m0 9v1m0 7v1m0 1v1m0 12v1m0 2v1m0 6v1m0 2v1m0 13v1m0 5v1m0 2v1m0 19v1m0 2v1m0 5v1m0 14v1m0 9v1m0 5v1m0 1v1m0 4v1m0 4v1m0 4v2m0 15v1m0 11v2m0 2v1m0 1v1m0 1v1m0 6v1m0 17v1m0 3v1m0 18v1m0 2v1m0 2v1m0 4v1m0 3v1m0 2v1m0 4v1m0 8v1m0 8v1m0 8v1m0 9v1m0 5v1m0 17v2m0 1v1m0 20v2m0 5v1m0 14v1m0 2v2m0 2v1m0 3v1m0 5v1m0 1v2m0 2v1M30 18v1m0 5v1m0 4v2m0 12v1m0 8v1m0 3v1m0 10v1m0 34v1m0 14v1m0 1v2m0 1v1m0 51v1m0 8v1m0 24v1m0 4v1m0 11v1m0 24v1m0 4v2m0 1v1m0 10v2m0 2v1m0 2v1m0 13v1m0 20v1m0 3v1m0 17v1m0 22v1m0 37v2m0 1v2m0 1v1M31 22v1m0 1v1m0 1v1m0 5v1m0 5v3m0 4v2m0 4v1m0 4v1m0 26v1m0 9v1m0 10v1m0 31v2m0 4v1m0 8v1m0 44v1m0 2v3m0 9v1m0 5v1m0 7v1m0 25v1m0 6v1m0 16v1m0 6v1m0 44v1m0 1v1m0 2v1m0 2v1m0 3v1m0 2v1m0 5v1m0 14v1m0 9v1m0 6v1m0 12v2m0 4v1m0 2v1M32 11v1m0 1v1m0 9v1m0 5v1m0 22v1m0 6v2m0 13v1m0 3v1m0 6v1m0 19v2m0 6v1m0 2v1m0 3v1m0 5v1m0 6v1m0 21v1m0 5v1m0 2v1m0 12v1m0 28v1m0 6v1m0 17v2m0 1v1m0 2v1m0 10v2m0 11v1m0 9v1m0 1v1m0 21v1m0 10v1m0 12v1m0 14v1m0 2v1m0 20v1m0 13v1m0 10v1m0 2v1m0 2v1M33 27v2m0 6v1m0 1v1m0 14v1m0 2v1m0 16v1m0 2v1m0 8v1m0 10v1m0 3v1m0 13v1m0 20v1m0 4v1m0 5v1m0 1v1m0 30v1m0 3v1m0 14v1m0 46v1m0 9v2m0 2v1m0 3v1m0 2v1m0 2v1m0 34v1m0 2v1m0 3v1m0 3v1m0 9v2m0 15v1m0 5v2m0 7v1m0 19v1m0 1v1m0 11v1m0 2v1m0 5v1M34 16v1m0 12v1m0 16v1m0 5v1m0 3v1m0 4v1m0 2v3m0 1v1m0 6v1m0 1v1m0 7v1m0 1v1m0 5v2m0 14v1m0 1v1m0 11v1m0 7v1m0 10v1m0 1v1m0 1v1m0 10v1m0 1v1m0 3v1m0 2v1m0 3v1m0 1v1m0 1v1m0 4v1m0 30v1m0 4v1m0 3v1m0 3v1m0 1v1m0 2v1m0 6v1m0 1v1m0 5v1m0 5v1m0 3v1m0 1v1m0 1v1m0 1v1m0 1v2m0 5v1m0 7v1m0 1v1m0 9v1m0 3v3m0 1v1m0 3v1m0 1v1m0 2v1m0 16v1m0 2v1m0 6v1m0 7v1m0 7v1m0 1v1m0 12v1m0 8v1m0 2v1m0 6v2m0 4v2m0 1v1m0 3v2M35 21v1m0 5v1m0 1v1m0 2v1m0 7v1m0 1v1m0 1v1m0 15v1m0 32v1m0 14v1m0 4v1m0 6v1m0 4v1m0 7v1m0 4v1m0 1v1m0 4v1m0 1v1m0 12v1m0 3v1m0 3v1m0 3v1m0 10v1m0 3v1m0 1v3m0 33v1m0 24v1m0 1v1m0 11v1m0 2v1m0 3v1m0 1v1m0 6v2m0 3v1m0 24v2m0 6v1m0 1v1m0 6v1m0 19v1m0 1v1m0 3v1m0 1v1m0 17v1m0 7v1m0 11v1M36 19v1m0 8v1m0 3v1m0 4v1m0 3v1m0 4v1m0 1v1m0 3v1m0 6v1m0 1v2m0 2v2m0 4v1m0 2v2m0 13v1m0 9v1m0 2v1m0 2v1m0 1v1m0 11v1m0 11v1m0 27v1m0 4v1m0 2v1m0 14v1m0 16v1m0 2v1m0 9v1m0 8v1m0 1v1m0 4v1m0 1v1m0 3v2m0 6v1m0 2v1m0 7v2m0 12v1m0 8v1m0 8v1m0 8v1m0 4v1m0 1v2m0 18v1m0 4v1m0 3v1m0 8v1m0 10v1m0 1v2m0 8v1m0 4v1m0 8v1m0 1v1m0 1v2m0 9v3m0 6v2M37 29v1m0 2v1m0 18v1m0 2v2m0 3v1m0 3v1m0 4v1m0 7v1m0 2v1m0 2v1m0 9v1m0 18v1m0 2v1m0 6v1m0 8v1m0 3v1m0 14v1m0 1v1m0 20v1m0 69v1m0 4v1m0 3v1m0 2v1m0 4v1m0 4v2m0 1v1m0 7v1m0 14v2m0 7v2m0 10v1m0 2v1m0 1v1m0 3v1m0 13v1m0 2v1m0 6v2m0 5v1m0 18v1m0 7v1M38 43v1m0 7v1m0 11v1m0 5v2m0 4v1m0 6v1m0 2v1m0 5v1m0 3v1m0 3v1m0 5v1m0 15v2m0 6v1m0 1v1m0 7v2m0 4v1m0 23v1m0 4v1m0 3v1m0 6v1m0 24v2m0 2v1m0 10v1m0 5v1m0 6v1m0 24v1m0 7v2m0 13v1m0 5v1m0 13v2m0 8v1m0 3v1m0 3v1m0 1v1m0 1v1m0 6v1m0 1v1m0 6v1m0 3v1m0 4v1m0 3v2m0 6v2m0 5v2m0 1v1m0 2v2m0 2v2m0 2v1M39 17v1m0 2v2m0 1v1m0 1v1m0 3v2m0 22v1m0 14v1m0 2v1m0 5v1m0 11v1m0 1v1m0 4v2m0 6v1m0 6v2m0 2v2m0 25v1m0 4v1m0 6v1m0 6v1m0 7v1m0 1v1m0 1v1m0 1v1m0 34v1m0 14v1m0 24v1m0 3v1m0 4v1m0 4v1m0 6v1m0 10v1m0 2v1m0 28v2m0 18v1m0 1v1m0 4v1m0 8v1m0 7v1m0 3v2m0 7v2m0 18v1m0 5v1M40 20v1m0 7v1m0 16v1m0 10v3m0 8v1m0 1v1m0 8v1m0 20v1m0 5v1m0 1v1m0 11v2m0 11v1m0 19v2m0 4v1m0 12v1m0 9v1m0 9v1m0 12v1m0 9v1m0 4v1m0 7v1m0 1v1m0 6v1m0 4v1m0 2v1m0 2v1m0 17v2m0 9v2m0 15v2m0 2v1m0 6v1m0 8v1m0 4v1m0 4v2m0 12v1m0 12v1m0 1v1m0 36v1m0 3v1m0 1v2M41 58v2m0 1v1m0 34v1m0 3v1m0 9v1m0 14v1m0 8v1m0 2v1m0 2v1m0 19v1m0 5v1m0 10v1m0 5v1m0 17v1m0 15v1m0 15v1m0 4v1m0 10v1m0 45v1m0 1v1m0 5v1m0 20v1m0 5v1m0 34v1m0 4v1m0 19v2m0 8v1M42 31v1m0 36v1m0 12v1m0 4v1m0 3v1m0 1v1m0 15v1m0 40v1m0 5v1m0 11v1m0 1v1m0 37v1m0 2v1m0 15v2m0 23v1m0 3v1m0 27v1m0 4v1m0 3v1m0 1v2m0 5v2m0 8v1m0 15v3m0 25v1m0 8v1m0 2v1m0 15v1m0 3v1m0 4v1M43 14v1m0 15v1m0 16v1m0 1v1m0 1v1m0 5v1m0 2v2m0 22v1m0 3v2m0 3v1m0 17v1m0 5v1m0 1v1m0 11v1m0 2v1m0 2v1m0 17v1m0 1v3m0 5v1m0 6v1m0 2v1m0 18v2m0 17v1m0 6v1m0 5v1m0 6v1m0 4v1m0 5v1m0 8v1m0 1v2m0 1v1m0 20v1m0 2v2m0 3v1m0 4v1m0 12v1m0 13v2m0 27v1m0 34v1m0 11v1M44 22v1m0 3v1m0 3v1m0 2v1m0 10v2m0 11v1m0 9v1m0 2v1m0 18v1m0 5v1m0 8v3m0 4v1m0 1v5m0 6v1m0 2v1m0 2v1m0 1v1m0 6v4m0 3v1m0 8v2m0 13v1m0 18v1m0 14v1m0 8v1m0 3v2m0 1v1m0 3v1m0 17v1m0 12v1m0 4v1m0 3v2m0 2v1m0 3v1m0 1v1m0 5v1m0 1v1m0 9v1m0 7v1m0 2v1m0 5v2m0 1v1m0 2v1m0 6v1m0 14v3m0 2v1m0 2v1m0 1v1m0 10v2m0 11v1m0 1v1m0 2v1m0 6v2m0 15v2M45 21v1m0 21v2m0 9v1m0 22v1m0 5v1m0 6v1m0 5v1m0 12v1m0 1v1m0 1v2m0 11v1m0 8v2m0 25v2m0 7v1m0 3v3m0 26v2m0 3v1m0 5v1m0 5v1m0 39v1m0 4v2m0 35v2m0 11v1m0 9v1m0 5v1m0 10v1m0 6v1m0 3v1m0 6v2m0 10v1m0 3v1m0 1v1m0 13v1M46 23v1m0 1v1m0 6v1m0 5v2m0 7v2m0 4v1m0 9v1m0 2v1m0 1v2m0 6v1m0 1v1m0 13v1m0 6v2m0 4v1m0 14v1m0 6v1m0 12v1m0 1v1m0 10v3m0 1v1m0 6v1m0 7v1m0 3v1m0 4v1m0 6v1m0 5v1m0 10v1m0 17v1m0 1v1m0 9v1m0 4v2m0 4v1m0 3v1m0 6v1m0 5v1m0 4v2m0 8v1m0 24v1m0 10v1m0 23v1m0 2v1m0 1v1m0 3v1m0 7v1m0 4v2m0 2v4m0 12v1m0 6v3m0 5v1m0 1v3m0 3v1M47 18v1m0 15v2m0 1v1m0 13v1m0 4v1m0 7v2m0 1v1m0 1v1m0 5v2m0 7v1m0 4v1m0 7v1m0 4v1m0 2v1m0 10v1m0 2v1m0 3v1m0 3v1m0 3v1m0 3v1m0 1v1m0 10v2m0 18v3m0 2v1m0 6v1m0 4v1m0 5v1m0 10v1m0 2v1m0 2v1m0 18v2m0 14v1m0 5v1m0 9v2m0 4v1m0 2v1m0 2v2m0 1v1m0 3v1m0 21v2m0 2v1m0 1v1m0 8v1m0 2v1m0 3v1m0 1v1m0 2v1m0 3v1m0 3v1m0 60v1m0 1v1M48 18v2m0 11v2m0 14v1m0 5v2m0 5v1m0 3v1m0 9v1m0 1v1m0 1v1m0 4v1m0 9v2m0 3v1m0 11v1m0 3v1m0 18v1m0 1v1m0 21v2m0 1v1m0 2v1m0 1v1m0 7v1m0 1v1m0 28v1m0 4v1m0 26v1m0 5v1m0 27v1m0 3v1m0 7v2m0 3v1m0 5v1m0 6v1m0 10v2m0 3v1m0 11v1m0 5v1m0 4v1m0 1v2m0 6v1m0 9v3m0 1v1m0 2v1m0 2v1m0 10v1m0 3v1m0 10v1M49 21v1m0 2v2m0 2v1m0 7v1m0 21v2m0 5v1m0 3v1m0 5v1m0 6v2m0 5v1m0 2v1m0 5v1m0 1v1m0 7v2m0 7v1m0 6v1m0 8v1m0 2v1m0 2v1m0 5v2m0 1v1m0 4v1m0 5v1m0 21v1m0 2v1m0 6v1m0 12v1m0 1v1m0 8v2m0 1v2m0 3v1m0 1v1m0 1v1m0 7v1m0 12v2m0 2v2m0 6v1m0 5v1m0 9v2m0 13v1m0 1v1m0 6v1m0 1v1m0 6v1m0 4v1m0 11v1m0 1v2m0 2v1m0 2v1m0 12v1m0 29v1m0 1v1m0 3v1m0 5v1m0 7v1M50 17v1m0 11v1m0 3v2m0 2v1m0 6v1m0 8v1m0 2v1m0 3v2m0 5v1m0 4v2m0 7v1m0 1v1m0 11v1m0 23v1m0 5v1m0 5v2m0 3v3m0 1v1m0 1v1m0 7v1m0 3v1m0 4v1m0 2v1m0 3v1m0 1v1m0 2v1m0 5v1m0 1v3m0 2v1m0 16v1m0 1v1m0 8v2m0 3v2m0 4v1m0 8v1m0 7v1m0 2v1m0 4v2m0 1v1m0 3v1m0 6v1m0 6v1m0 2v2m0 36v2m0 12v1m0 2v1m0 13v1m0 1v1m0 1v1m0 3v1m0 1v2m0 2v1m0 5v3m0 5v2m0 12v1m0 13v1M51 18v1m0 8v1m0 5v1m0 2v1m0 2v1m0 3v1m0 1v1m0 1v2m0 4v1m0 7v1m0 9v1m0 7v1m0 1v2m0 23v1m0 25v1m0 5v1m0 6v1m0 3v1m0 14v1m0 1v2m0 22v2m0 3v1m0 1v1m0 8v1m0 11v1m0 2v2m0 33v2m0 3v2m0 11v1m0 38v1m0 20v1m0 19v1m0 4v1m0 6v1m0 1v1m0 11v2m0 2v1m0 3v1m0 7v1m0 1v1M52 16v2m0 11v2m0 4v1m0 5v2m0 10v1m0 11v1m0 11v1m0 7v1m0 13v1m0 10v1m0 4v1m0 1v1m0 11v2m0 1v1m0 1v1m0 3v2m0 11v1m0 5v1m0 14v1m0 5v1m0 18v1m0 5v1m0 2v1m0 13v1m0 8v1m0 8v1m0 1v1m0 5v1m0 4v1m0 5v1m0 2v1m0 1v1m0 29v1m0 7v1m0 7v1m0 2v2m0 16v1m0 9v1m0 2v1m0 6v2m0 1v1m0 4v2m0 3v1m0 19v1m0 4v1m0 4v1M53 21v2m0 5v1m0 1v1m0 1v1m0 2v2m0 12v1m0 5v2m0 1v1m0 17v2m0 16v2m0 36v1m0 7v1m0 6v1m0 3v2m0 14v1m0 4v2m0 1v1m0 7v2m0 10v1m0 3v1m0 8v1m0 1v1m0 1v2m0 1v1m0 8v1m0 1v1m0 3v1m0 19v1m0 2v1m0 6v2m0 4v1m0 11v1m0 7v1m0 4v1m0 16v1m0 8v2m0 2v1m0 3v1m0 7v1m0 2v1m0 15v1m0 11v1m0 1v1m0 3v1m0 3v1m0 5v1m0 5v1m0 4v2m0 1v1m0 1v2M54 17v1m0 4v1m0 6v1m0 5v1m0 3v2m0 1v1m0 4v1m0 21v2m0 4v1m0 2v1m0 7v2m0 2v1m0 3v2m0 5v2m0 6v1m0 2v1m0 1v1m0 12v1m0 2v1m0 1v1m0 2v1m0 27v1m0 4v1m0 4v1m0 4v2m0 6v4m0 4v1m0 7v1m0 1v1m0 8v1m0 8v1m0 13v1m0 2v2m0 20v2m0 9v1m0 11v1m0 10v1m0 13v1m0 2v1m0 1v1m0 8v1m0 5v1m0 3v1m0 18v1m0 2v1m0 3v1m0 1v2m0 1v1m0 23v1m0 2v1M55 11v1m0 7v1m0 1v1m0 1v1m0 23v1m0 2v1m0 8v1m0 4v1m0 1v1m0 17v2m0 3v3m0 4v1m0 2v1m0 8v1m0 13v2m0 2v1m0 5v1m0 3v1m0 1v1m0 1v1m0 4v1m0 4v1m0 1v2m0 9v2m0 4v1m0 24v1m0 2v1m0 1v1m0 2v2m0 18v1m0 3v1m0 18v1m0 19v1m0 21v1m0 3v1m0 9v1m0 2v1m0 2v1m0 21v1m0 13v1m0 1v1m0 1v1m0 4v1m0 6v1m0 8v1m0 4v1m0 5v1m0 10v1m0 1v1m0 2v1m0 2v1M56 22v1m0 1v1m0 8v1m0 4v2m0 15v1m0 8v1m0 31v2m0 11v1m0 16v1m0 2v1m0 2v1m0 26v1m0 4v1m0 5v1m0 11v1m0 8v1m0 1v1m0 16v1m0 4v1m0 1v1m0 30v1m0 20v1m0 17v2m0 3v1m0 8v1m0 1v1m0 9v1m0 1v1m0 7v1m0 13v1m0 4v1m0 10v1m0 18v3m0 1v2m0 2v1m0 10v1m0 4v1m0 1v1m0 3v1M57 22v1m0 7v1m0 2v1m0 18v1m0 3v1m0 1v1m0 8v2m0 1v1m0 5v1m0 6v1m0 6v1m0 8v1m0 1v1m0 8v1m0 4v1m0 3v1m0 9v1m0 4v1m0 2v1m0 12v1m0 9v1m0 9v1m0 8v3m0 1v1m0 2v1m0 5v1m0 2v1m0 8v1m0 11v1m0 11v1m0 2v1m0 1v1m0 12v1m0 1v1m0 9v1m0 11v3m0 1v2m0 3v1m0 6v1m0 5v2m0 11v1m0 1v1m0 29v1m0 5v1m0 2v1m0 2v2m0 2v1m0 11v1m0 2v1m0 3v1m0 2v1m0 14v1M58 17v2m0 4v1m0 2v1m0 2v1m0 11v1m0 8v2m0 3v1m0 2v1m0 8v1m0 9v1m0 11v1m0 1v1m0 1v3m0 1v3m0 3v1m0 4v1m0 7v1m0 1v1m0 1v1m0 4v1m0 4v2m0 2v1m0 8v1m0 25v1m0 12v1m0 8v1m0 11v2m0 4v1m0 5v1m0 4v1m0 4v1m0 19v2m0 9v2m0 1v1m0 8v2m0 1v1m0 3v1m0 1v1m0 7v1m0 1v1m0 8v1m0 5v1m0 1v1m0 2v2m0 4v1m0 3v1m0 2v1m0 13v1m0 7v1m0 4v2m0 1v1m0 12v1m0 11v1m0 18v1m0 7v1M59 18v1m0 3v1m0 3v1m0 4v1m0 1v1m0 7v1m0 6v1m0 22v1m0 2v1m0 5v1m0 6v2m0 1v1m0 1v1m0 8v2m0 10v1m0 9v1m0 5v1m0 4v1m0 6v2m0 13v1m0 5v1m0 9v1m0 1v1m0 3v1m0 8v1m0 3v1m0 20v2m0 1v1m0 9v1m0 2v1m0 14v1m0 1v1m0 6v1m0 8v1m0 1v2m0 3v1m0 15v2m0 1v1m0 2v1m0 15v1m0 9v1m0 26v1m0 8v1m0 11v1m0 7v1m0 21v1m0 3v1M60 16v1m0 1v1m0 10v1m0 2v1m0 7v1m0 1v1m0 21v1m0 8v2m0 10v1m0 13v1m0 3v1m0 8v1m0 14v1m0 6v2m0 12v2m0 5v1m0 12v1m0 11v1m0 1v1m0 6v1m0 1v1m0 11v1m0 3v1m0 3v1m0 2v1m0 10v1m0 8v1m0 1v1m0 4v1m0 5v1m0 20v1m0 10v1m0 2v1m0 3v1m0 9v1m0 6v1m0 6v2m0 26v1m0 7v1m0 1v1m0 8v1m0 4v1m0 6v1m0 1v1m0 1v1m0 11v2m0 1v1m0 5v1m0 4v1m0 2v1m0 1v1M61 19v1m0 5v1m0 4v1m0 8v1m0 47v3m0 23v1m0 1v1m0 9v1m0 6v1m0 2v1m0 4v1m0 2v1m0 13v1m0 4v1m0 3v1m0 3v1m0 34v2m0 4v1m0 11v1m0 6v1m0 31v1m0 10v1m0 12v1m0 2v3m0 6v1m0 2v3m0 5v1m0 9v2m0 1v1m0 1v1m0 5v1m0 3v1m0 17v1m0 7v1m0 3v2m0 4v1m0 4v1m0 22v1m0 3v2M62 20v1m0 3v1m0 6v1m0 6v1m0 18v1m0 23v1m0 6v1m0 3v2m0 20v1m0 9v2m0 8v1m0 17v1m0 13v2m0 8v1m0 4v1m0 4v1m0 3v2m0 1v1m0 8v2m0 1v1m0 6v1m0 11v1m0 14v3m0 4v1m0 3v1m0 5v1m0 7v2m0 8v1m0 5v1m0 4v1m0 1v1m0 2v1m0 1v1m0 7v1m0 7v1m0 3v1m0 10v1m0 4v1m0 6v1m0 9v1m0 24v2m0 6v1m0 14v1M63 14v1m0 11v3m0 5v1m0 31v2m0 12v1m0 1v2m0 20v2m0 28v1m0 1v1m0 4v1m0 8v1m0 2v1m0 7v1m0 16v1m0 23v1m0 19v1m0 15v1m0 5v1m0 3v2m0 7v1m0 11v2m0 12v1m0 21v1m0 26v1m0 18v1m0 20v1m0 4v1m0 2v1m0 12v1M64 22v1m0 18v1m0 9v1m0 8v1m0 7v1m0 10v1m0 1v1m0 6v1m0 2v1m0 1v1m0 17v1m0 9v2m0 13v1m0 4v1m0 3v1m0 31v1m0 20v1m0 2v1m0 7v1m0 8v1m0 32v3m0 6v2m0 8v1m0 2v1m0 7v1m0 2v1m0 13v1m0 4v1m0 6v1m0 2v1m0 9v2m0 9v1m0 8v2m0 2v1m0 4v1m0 1v1m0 27v2m0 10v1m0 1v1m0 3v1m0 1v2M65 11v1m0 6v1m0 8v1m0 27v1m0 2v1m0 9v1m0 3v3m0 11v1m0 12v1m0 6v1m0 6v1m0 1v1m0 8v1m0 14v1m0 8v1m0 11v1m0 7v1m0 6v1m0 7v1m0 13v1m0 6v1m0 5v1m0 9v1m0 4v2m0 12v1m0 8v1m0 18v2m0 57v1m0 9v1m0 4v1m0 3v1m0 15v1m0 13v2M66 18v1m0 18v1m0 20v1m0 7v1m0 3v1m0 6v1m0 6v1m0 1v1m0 5v1m0 9v1m0 25v1m0 2v1m0 7v1m0 3v1m0 10v2m0 8v1m0 3v1m0 1v1m0 2v1m0 1v1m0 2v1m0 12v1m0 24v1m0 9v1m0 5v2m0 1v1m0 1v1m0 5v1m0 18v1m0 1v1m0 1v1m0 9v1m0 3v1m0 1v1m0 1v1m0 24v1m0 4v1m0 3v3m0 24v1m0 3v2m0 1v1m0 15v1m0 1v1m0 23v1M67 16v1m0 2v1m0 4v1m0 3v1m0 1v1m0 10v1m0 1v1m0 7v2m0 20v1m0 8v1m0 2v1m0 3v1m0 2v1m0 9v1m0 6v1m0 17v1m0 7v2m0 4v1m0 2v1m0 17v1m0 1v1m0 9v2m0 7v1m0 3v1m0 11v1m0 1v1m0 18v1m0 7v1m0 15v1m0 1v1m0 8v1m0 14v2m0 9v1m0 17v1m0 3v2m0 6v1m0 4v1m0 3v1m0 2v1m0 10v1m0 12v2m0 5v1m0 2v1m0 8v1m0 10v1m0 1v2m0 19v1M68 11v1m0 4v1m0 2v1m0 3v1m0 5v1m0 1v1m0 6v1m0 4v1m0 19v1m0 9v1m0 6v1m0 8v1m0 51v2m0 10v1m0 8v2m0 9v1m0 26v1m0 18v1m0 1v1m0 1v1m0 4v2m0 3v1m0 7v1m0 9v1m0 10v1m0 2v1m0 1v1m0 8v1m0 5v2m0 1v1m0 21v1m0 3v1m0 20v1m0 6v1m0 17v1m0 1v1m0 7v1m0 1v1m0 1v1m0 14v2m0 10v1M69 18v1m0 6v1m0 6v2m0 1v1m0 1v1m0 2v1m0 7v1m0 1v1m0 62v1m0 6v1m0 9v1m0 17v1m0 11v1m0 25v2m0 4v1m0 6v1m0 1v2m0 2v1m0 13v1m0 33v2m0 7v1m0 20v1m0 10v1m0 13v1m0 6v1m0 35v2m0 26v1m0 2v1m0 2v2m0 8v1m0 4v1m0 1v1M70 11v1m0 8v1m0 1v1m0 5v1m0 2v1m0 13v1m0 8v1m0 11v2m0 9v1m0 8v1m0 6v1m0 10v1m0 5v1m0 16v1m0 7v1m0 3v1m0 7v1m0 1v2m0 4v2m0 15v1m0 7v1m0 6v2m0 3v1m0 7v1m0 1v2m0 46v1m0 1v1m0 17v1m0 2v1m0 1v1m0 4v1m0 2v1m0 3v2m0 2v1m0 9v1m0 10v2m0 7v1m0 10v2m0 2v1m0 6v1m0 14v1m0 1v1m0 3v1m0 12v1m0 11v2m0 6v3m0 3v1M71 36v1m0 2v1m0 34v1m0 32v3m0 17v1m0 2v1m0 15v1m0 2v1m0 22v1m0 20v1m0 10v1m0 8v1m0 10v1m0 2v3m0 10v1m0 2v1m0 4v1m0 18v1m0 6v1m0 1v1m0 8v1m0 2v1M72 21v1m0 4v1m0 1v1m0 4v2m0 7v3m0 2v1m0 31v2m0 1v1m0 26v1m0 4v1m0 40v1m0 7v1m0 23v1m0 7v1m0 18v1m0 2v1m0 2v1m0 1v1m0 1v1m0 17v1m0 11v1m0 1v1m0 17v1m0 1v1m0 14v1m0 5v1m0 12v1m0 1v1m0 6v1m0 6v1m0 8v1m0 16v1m0 23v1m0 8v1m0 9v1m0 6v1M73 22v1m0 13v1m0 6v1m0 6v2m0 10v1m0 7v1m0 1v1m0 7v1m0 3v1m0 6v1m0 33v1m0 2v1m0 12v2m0 1v1m0 5v2m0 7v1m0 16v1m0 8v1m0 2v1m0 17v1m0 10v2m0 5v1m0 9v1m0 1v1m0 2v1m0 3v1m0 2v1m0 4v1m0 4v1m0 23v1m0 24v1m0 7v1m0 14v1m0 9v1m0 1v1m0 5v1m0 3v1m0 1v1m0 9v1m0 6v1m0 1v1m0 7v1m0 5v2m0 5v1M74 52v1m0 1v1m0 16v1m0 2v1m0 3v1m0 11v1m0 4v1m0 9v1m0 5v1m0 2v1m0 2v1m0 2v1m0 5v2m0 11v1m0 3v1m0 2v1m0 6v1m0 1v1m0 3v1m0 10v1m0 1v1m0 10v1m0 3v1m0 15v1m0 3v1m0 4v1m0 18v1m0 3v1m0 3v1m0 24v1m0 4v2m0 20v1m0 4v1m0 6v1m0 2v1m0 7v1m0 5v1m0 3v1m0 3v1m0 2v1m0 1v1m0 4v2m0 7v1m0 12v1m0 3v2m0 19v1m0 4v1m0 7v1m0 5v1M75 19v1m0 11v1m0 4v1m0 15v1m0 9v1m0 1v2m0 8v1m0 7v1m0 11v1m0 2v1m0 3v1m0 4v3m0 8v2m0 7v1m0 4v1m0 1v2m0 3v2m0 3v2m0 10v1m0 6v2m0 3v1m0 2v1m0 2v2m0 5v1m0 20v1m0 1v2m0 9v1m0 6v1m0 1v1m0 9v1m0 2v1m0 7v1m0 11v1m0 1v1m0 4v2m0 9v1m0 1v1m0 5v1m0 5v1m0 3v1m0 8v1m0 3v1m0 2v1m0 8v1m0 9v1m0 4v1m0 3v1m0 11v1m0 8v2m0 13v1m0 1v1m0 19v2m0 4v1m0 1v1M76 27v1m0 1v1m0 13v1m0 23v2m0 12v1m0 27v1m0 20v1m0 9v1m0 7v1m0 2v1m0 2v1m0 3v1m0 7v3m0 1v1m0 9v1m0 2v1m0 8v1m0 1v1m0 30v1m0 2v1m0 3v1m0 4v1m0 1v1m0 8v1m0 24v1m0 3v1m0 12v1m0 1v1m0 9v1m0 7v2m0 4v1m0 17v1m0 1v1m0 14v1m0 22v1m0 2v1m0 1v1m0 1v1m0 9v1m0 2v2m0 4v1M77 19v1m0 5v1m0 4v1m0 13v1m0 8v1m0 2v1m0 1v1m0 12v1m0 8v1m0 6v1m0 6v1m0 7v1m0 10v1m0 13v1m0 10v1m0 9v3m0 4v1m0 17v1m0 6v1m0 2v2m0 4v1m0 3v1m0 13v1m0 16v1m0 2v1m0 4v1m0 3v1m0 1v1m0 7v2m0 4v1m0 18v1m0 4v1m0 23v1m0 5v1m0 16v1m0 2v2m0 1v2m0 8v1m0 10v1m0 7v1m0 23v1m0 2v1m0 16v1M78 21v3m0 4v1m0 5v3m0 2v1m0 2v1m0 1v1m0 11v1m0 1v1m0 32v1m0 3v1m0 3v1m0 3v2m0 2v1m0 15v1m0 7v2m0 16v1m0 30v1m0 5v1m0 9v1m0 4v1m0 8v1m0 19v1m0 5v2m0 3v1m0 13v1m0 11v2m0 18v1m0 3v1m0 4v1m0 6v1m0 8v1m0 4v1m0 15v1m0 8v1m0 9v1m0 8v1m0 3v2m0 1v1m0 6v1m0 28v1M79 23v1m0 13v1m0 13v1m0 1v1m0 5v2m0 18v1m0 6v1m0 1v1m0 2v2m0 1v1m0 7v1m0 5v2m0 5v2m0 3v1m0 4v2m0 6v2m0 6v1m0 3v1m0 3v1m0 2v1m0 2v2m0 9v1m0 3v1m0 6v1m0 6v1m0 4v1m0 1v1m0 7v1m0 2v1m0 2v1m0 8v1m0 2v1m0 2v1m0 2v1m0 1v1m0 1v2m0 1v1m0 4v1m0 1v1m0 11v1m0 1v1m0 10v1m0 5v1m0 4v1m0 6v1m0 1v1m0 16v2m0 5v1m0 1v1m0 1v1m0 5v2m0 6v1m0 5v1m0 10v2m0 1v1m0 5v1m0 5v1m0 4v2m0 26v1m0 13v1M80 26v2m0 10v1m0 1v1m0 3v1m0 2v1m0 1v1m0 4v2m0 3v1m0 1v1m0 4v1m0 6v1m0 11v1m0 7v1m0 3v1m0 6v1m0 2v1m0 4v1m0 5v1m0 1v1m0 12v1m0 6v1m0 6v1m0 3v1m0 10v1m0 1v2m0 4v1m0 10v2m0 7v2m0 4v1m0 8v1m0 16v1m0 12v1m0 21v1m0 9v1m0 9v1m0 27v1m0 15v1m0 1v1m0 2v1m0 12v1m0 3v3m0 14v1m0 3v1m0 24v1m0 7v1M81 26v1m0 1v1m0 4v1m0 2v2m0 4v1m0 4v1m0 4v1m0 4v1m0 2v1m0 1v1m0 2v1m0 32v1m0 4v2m0 9v1m0 10v1m0 2v1m0 21v2m0 21v1m0 2v1m0 15v1m0 10v1m0 13v1m0 27v1m0 7v1m0 15v1m0 13v1m0 1v1m0 1v2m0 3v1m0 37v1m0 21v1M82 21v2m0 17v1m0 2v1m0 1v1m0 11v1m0 2v2m0 5v1m0 17v1m0 2v1m0 8v1m0 11v1m0 7v1m0 7v1m0 4v1m0 11v2m0 11v1m0 3v1m0 29v1m0 10v1m0 13v1m0 11v1m0 1v1m0 3v3m0 8v2m0 15v1m0 4v1m0 9v1m0 1v1m0 3v1m0 17v1m0 4v1m0 3v1m0 5v1m0 7v1m0 3v1m0 5v1m0 14v1m0 2v1m0 1v1m0 5v1m0 7v1m0 4v1m0 18v1m0 7v1M83 22v1m0 6v1m0 7v1m0 14v1m0 5v1m0 1v1m0 2v1m0 2v1m0 7v1m0 11v1m0 9v1m0 24v1m0 11v1m0 1v1m0 1v1m0 6v1m0 5v2m0 5v1m0 5v1m0 29v1m0 1v1m0 14v1m0 1v1m0 6v1m0 2v2m0 3v1m0 20v1m0 12v1m0 5v1m0 9v1m0 8v1m0 15v1m0 9v1m0 5v1m0 2v1m0 1v1m0 31v1m0 3v1m0 7v1m0 3v1m0 3v1m0 8v1m0 18v1M84 15v1m0 5v3m0 3v1m0 8v1m0 1v1m0 9v1m0 2v1m0 1v1m0 3v1m0 6v1m0 3v1m0 19v1m0 2v1m0 2v1m0 11v1m0 2v2m0 2v1m0 3v1m0 4v1m0 1v1m0 19v1m0 5v1m0 4v1m0 6v3m0 1v1m0 7v1m0 10v1m0 28v1m0 1v1m0 34v1m0 20v2m0 8v1m0 4v1m0 6v1m0 28v1m0 8v1m0 2v1m0 10v1m0 4v2m0 4v1m0 8v1m0 3v1m0 20v1m0 1v1m0 10v1M85 11v1m0 32v1m0 42v1m0 6v2m0 13v1m0 27v1m0 7v1m0 1v1m0 3v1m0 9v3m0 4v1m0 11v1m0 17v1m0 13v1m0 13v1m0 17v1m0 16v3m0 1v1m0 15v1m0 9v1m0 5v1m0 10v1m0 7v1m0 16v1m0 13v1m0 6v1m0 15v1m0 29v1M86 16v1m0 3v1m0 9v2m0 4v1m0 1v1m0 7v1m0 4v1m0 10v1m0 4v1m0 3v1m0 29v1m0 15v1m0 4v1m0 5v1m0 3v1m0 5v1m0 11v3m0 1v1m0 2v1m0 9v2m0 16v1m0 11v3m0 3v2m0 1v2m0 10v1m0 6v2m0 13v1m0 7v2m0 4v1m0 3v2m0 2v1m0 2v1m0 15v2m0 2v1m0 4v1m0 1v1m0 24v1m0 7v1m0 2v2m0 3v1m0 9v1m0 7v1m0 4v1m0 6v1m0 2v1m0 7v1m0 1v1m0 11v1m0 1v1m0 8v2M87 14v1m0 6v1m0 20v1m0 10v1m0 9v1m0 4v1m0 2v1m0 5v2m0 2v1m0 8v1m0 10v1m0 2v2m0 1v2m0 3v1m0 9v1m0 19v1m0 1v1m0 4v1m0 18v1m0 4v1m0 10v1m0 13v1m0 20v1m0 10v2m0 5v1m0 6v1m0 15v1m0 10v1m0 13v1m0 11v2m0 5v1m0 3v1m0 14v1m0 2v1m0 1v1m0 3v1m0 29v1m0 12v1m0 9v1m0 5v1m0 12v1M88 19v2m0 1v2m0 6v1m0 8v1m0 10v1m0 11v1m0 7v2m0 4v1m0 9v1m0 1v1m0 4v1m0 9v1m0 2v1m0 1v1m0 1v1m0 5v1m0 1v1m0 6v2m0 4v1m0 7v2m0 2v2m0 11v1m0 8v1m0 3v1m0 4v1m0 6v1m0 16v1m0 4v1m0 4v2m0 7v1m0 9v1m0 7v1m0 12v2m0 3v1m0 15v1m0 5v1m0 6v3m0 16v2m0 7v1m0 4v1m0 10v1m0 5v3m0 2v1m0 3v1m0 2v1m0 5v1m0 1v1m0 1v1m0 12v1m0 13v1M89 11v1m0 8v1m0 2v1m0 3v3m0 7v1m0 2v2m0 1v1m0 1v1m0 1v1m0 6v1m0 1v1m0 3v2m0 18v1m0 7v1m0 1v1m0 2v1m0 1v1m0 18v1m0 23v1m0 3v1m0 7v1m0 1v2m0 2v1m0 1v1m0 4v1m0 3v1m0 4v1m0 1v1m0 10v1m0 4v4m0 2v1m0 2v1m0 5v1m0 12v1m0 8v1m0 5v1m0 7v1m0 13v3m0 9v2m0 4v1m0 8v1m0 3v1m0 11v1m0 11v1m0 4v1m0 5v1m0 3v1m0 2v1m0 6v1m0 6v5m0 3v1m0 2v1m0 17v1m0 1v1m0 7v1m0 2v1m0 17v1M90 11v1m0 2v1m0 8v1m0 2v1m0 10v1m0 2v1m0 10v1m0 8v1m0 2v1m0 7v1m0 2v1m0 17v1m0 3v1m0 8v1m0 6v1m0 4v2m0 9v2m0 4v1m0 8v1m0 16v1m0 14v1m0 3v1m0 5v1m0 10v1m0 11v2m0 5v1m0 1v1m0 7v2m0 4v1m0 17v1m0 8v1m0 1v1m0 1v2m0 5v2m0 7v1m0 2v3m0 28v1m0 24v1m0 12v1m0 8v1m0 3v1m0 3v2m0 1v1m0 6v1m0 4v2m0 5v1m0 1v1m0 1v1m0 10v1M91 17v3m0 4v1m0 6v2m0 2v1m0 4v1m0 4v1m0 6v1m0 1v1m0 12v2m0 3v1m0 9v2m0 1v1m0 3v1m0 12v1m0 3v1m0 5v1m0 5v1m0 11v1m0 29v1m0 5v2m0 33v1m0 6v1m0 11v1m0 1v1m0 2v1m0 12v1m0 6v2m0 10v1m0 5v1m0 6v2m0 11v1m0 1v1m0 2v2m0 3v1m0 5v1m0 6v2m0 3v1m0 2v1m0 4v1m0 1v1m0 9v1m0 1v1m0 2v1m0 9v1m0 5v1m0 2v2m0 15v2m0 3v1m0 9v1m0 2v1m0 7v1m0 1v1m0 3v1M92 16v1m0 17v1m0 4v1m0 11v2m0 10v1m0 2v1m0 8v1m0 1v1m0 1v1m0 11v1m0 3v1m0 2v1m0 15v1m0 4v2m0 22v1m0 2v1m0 1v1m0 3v2m0 5v2m0 17v1m0 2v3m0 1v1m0 6v1m0 4v1m0 12v1m0 5v1m0 6v1m0 3v1m0 8v1m0 1v1m0 4v2m0 2v1m0 14v1m0 4v2m0 18v1m0 2v1m0 5v1m0 2v1m0 1v2m0 16v1m0 3v1m0 7v1m0 6v1m0 9v1m0 6v1m0 7v2m0 16v1m0 19v2M93 14v1m0 2v2m0 12v1m0 18v1m0 9v1m0 4v1m0 5v1m0 13v1m0 1v1m0 20v1m0 3v1m0 9v1m0 4v1m0 6v1m0 8v1m0 4v1m0 10v3m0 4v1m0 18v1m0 4v3m0 7v1m0 14v2m0 1v1m0 2v2m0 11v1m0 21v1m0 10v1m0 14v2m0 8v2m0 7v1m0 4v2m0 9v1m0 1v2m0 10v1m0 7v1m0 1v2m0 10v1m0 2v1m0 7v1m0 3v3m0 8v1m0 2v2m0 3v1m0 7v1m0 3v1M94 16v1m0 5v1m0 1v2m0 2v1m0 2v1m0 6v1m0 2v2m0 1v1m0 6v1m0 5v1m0 1v1m0 4v1m0 3v1m0 12v1m0 4v1m0 19v1m0 1v2m0 14v1m0 8v1m0 9v1m0 9v1m0 24v1m0 3v1m0 1v1m0 6v1m0 5v1m0 4v2m0 3v1m0 4v1m0 16v1m0 4v1m0 1v1m0 1v1m0 6v5m0 12v1m0 15v1m0 10v1m0 5v1m0 10v1m0 6v1m0 9v1m0 1v1m0 11v1m0 4v1m0 3v2m0 12v1m0 15v1m0 5v1M95 17v2m0 9v1m0 1v1m0 19v2m0 2v1m0 10v4m0 11v1m0 4v1m0 3v1m0 2v1m0 2v2m0 15v1m0 1v2m0 7v1m0 32v1m0 5v1m0 4v1m0 2v1m0 14v2m0 1v1m0 15v1m0 11v1m0 3v2m0 2v1m0 1v1m0 9v1m0 3v1m0 21v1m0 3v1m0 20v1m0 5v1m0 2v1m0 11v1m0 7v1m0 1v3m0 5v1m0 6v1m0 10v1m0 7v2m0 1v1m0 8v1m0 3v3m0 1v1m0 4v1m0 11v1m0 6v1m0 1v1m0 5v1M96 14v1m0 5v1m0 2v1m0 1v2m0 4v1m0 5v1m0 7v1m0 6v1m0 5v1m0 2v1m0 4v1m0 8v1m0 1v1m0 1v1m0 11v1m0 3v1m0 15v1m0 1v1m0 6v1m0 2v1m0 17v1m0 8v1m0 13v1m0 24v1m0 17v1m0 30v1m0 1v1m0 15v2m0 4v1m0 12v1m0 13v1m0 7v1m0 30v1m0 2v2m0 1v1m0 11v1m0 10v1m0 2v1m0 21v1m0 4v2m0 1v1m0 12v1M97 28v1m0 2v2m0 3v1m0 2v1m0 1v2m0 20v1m0 2v1m0 1v2m0 2v2m0 2v1m0 11v1m0 1v1m0 6v1m0 4v1m0 3v1m0 7v1m0 28v1m0 4v1m0 8v1m0 10v1m0 1v1m0 3v1m0 4v2m0 5v1m0 1v1m0 4v1m0 8v1m0 1v1m0 9v4m0 8v1m0 10v1m0 5v1m0 11v1m0 2v1m0 2v1m0 5v1m0 6v1m0 16v1m0 2v1m0 7v2m0 2v1m0 17v1m0 5v1m0 1v2m0 2v2m0 8v1m0 6v1m0 27v1m0 5v1M98 21v1m0 2v1m0 5v2m0 6v1m0 5v1m0 8v1m0 4v2m0 26v1m0 35v2m0 9v1m0 7v1m0 20v1m0 33v1m0 6v1m0 49v1m0 10v1m0 7v1m0 3v1m0 56v1m0 14v1m0 6v1m0 1v1m0 1v2m0 16v1m0 5v1M99 32v1m0 29v1m0 16v1m0 1v1m0 9v1m0 36v1m0 21v1m0 25v1m0 3v1m0 11v1m0 6v1m0 31v1m0 13v1m0 2v1m0 69v1m0 17v1m0 22v1m0 17v1m0 26v1M100 19v2m0 4v2m0 24v1m0 1v1m0 3v1m0 25v2m0 1v1m0 43v1m0 2v1m0 15v2m0 9v1m0 31v1m0 54v1m0 1v1m0 12v1m0 11v1m0 19v1m0 15v3m0 17v1m0 3v1m0 4v1m0 15v1m0 18v1m0 1v1m0 1v1m0 1v1m0 20v1M101 24v1m0 26v1m0 7v1m0 5v1m0 8v1m0 4v1m0 12v1m0 10v1m0 2v1m0 6v2m0 33v1m0 12v1m0 11v1m0 2v1m0 5v1m0 16v1m0 4v1m0 4v3m0 37v1m0 17v2m0 9v1m0 13v1m0 2v1m0 27v2m0 5v1m0 3v1m0 2v1m0 23v1m0 4v1m0 13v1m0 3v1m0 19v1M102 22v1m0 3v1m0 3v1m0 6v1m0 1v1m0 1v1m0 3v1m0 3v1m0 6v1m0 9v1m0 4v1m0 3v1m0 2v1m0 23v1m0 4v1m0 10v1m0 8v1m0 3v1m0 5v1m0 3v1m0 2v2m0 5v2m0 15v1m0 11v1m0 1v1m0 1v1m0 10v1m0 8v1m0 5v1m0 4v1m0 2v1m0 3v1m0 5v1m0 15v1m0 7v2m0 5v1m0 8v1m0 15v1m0 12v1m0 6v4m0 1v1m0 15v1m0 5v1m0 2v1m0 17v1m0 1v1m0 5v1m0 13v1m0 1v1m0 7v1m0 8v1m0 7v1m0 1v1M103 23v1m0 5v1m0 1v1m0 1v1m0 6v1m0 6v1m0 4v1m0 5v1m0 5v1m0 2v1m0 7v1m0 12v1m0 6v1m0 3v1m0 2v3m0 8v2m0 6v2m0 7v1m0 7v1m0 2v1m0 10v1m0 2v1m0 1v1m0 3v1m0 12v2m0 2v1m0 6v1m0 2v1m0 2v1m0 5v1m0 16v1m0 3v1m0 17v1m0 2v1m0 5v1m0 5v1m0 1v2m0 5v1m0 2v1m0 4v1m0 7v1m0 18v1m0 14v2m0 3v2m0 1v1m0 1v1m0 2v1m0 1v1m0 1v1m0 2v1m0 1v1m0 1v1m0 15v2m0 11v3m0 12v1m0 11v1m0 8v3M104 16v1m0 6v1m0 22v1m0 1v4m0 12v1m0 1v1m0 5v1m0 8v1m0 19v2m0 9v1m0 1v2m0 7v1m0 11v1m0 1v2m0 2v1m0 5v1m0 8v1m0 9v2m0 3v1m0 9v1m0 11v1m0 4v1m0 1v1m0 8v1m0 4v1m0 46v1m0 9v1m0 5v1m0 18v1m0 3v1m0 1v1m0 5v2m0 4v1m0 11v1m0 4v1m0 17v2m0 4v1m0 17v2m0 6v1m0 3v1m0 9v1m0 8v1M105 26v1m0 2v1m0 6v1m0 1v2m0 7v1m0 4v1m0 12v1m0 4v3m0 3v1m0 4v1m0 5v2m0 3v1m0 1v1m0 48v1m0 3v2m0 7v1m0 4v1m0 5v1m0 8v2m0 8v1m0 2v1m0 5v1m0 14v1m0 13v2m0 10v1m0 6v2m0 23v1m0 7v1m0 4v1m0 5v1m0 5v1m0 2v1m0 1v3m0 18v2m0 8v1m0 7v2m0 22v1m0 18v1M106 10v1m0 5v1m0 8v1m0 22v1m0 26v1m0 3v1m0 20v1m0 6v1m0 3v3m0 7v1m0 5v2m0 20v1m0 14v1m0 3v1m0 6v1m0 4v1m0 2v1m0 8v1m0 1v1m0 5v1m0 5v1m0 2v1m0 14v1m0 8v1m0 1v1m0 11v3m0 2v1m0 8v1m0 9v1m0 7v2m0 18v1m0 3v1m0 4v1m0 2v1m0 3v1m0 14v1m0 6v1m0 2v1m0 9v1m0 2v1m0 11v1m0 3v1m0 13v2m0 12v1m0 3v1m0 1v1M108 18v1m0 10v2m0 1v2m0 9v4m0 1v1m0 5v1m0 3v2m0 14v1m0 16v2m0 15v1m0 16v1m0 3v1m0 2v1m0 3v1m0 2v1m0 4v1m0 6v1m0 5v1m0 10v1m0 3v1m0 4v2m0 2v1m0 10v1m0 2v1m0 4v1m0 4v1m0 3v1m0 11v1m0 5v1m0 22v1m0 12v1m0 1v1m0 7v1m0 5v1m0 1v2m0 8v1m0 9v1m0 2v1m0 4v1m0 7v1m0 24v2m0 5v2m0 2v2m0 13v1m0 20v2m0 4v1m0 3v1M110 16v1m0 1v1m0 8v1m0 16v1m0 2v1m0 1v1m0 2v1m0 1v1m0 3v1m0 8v1m0 12v1m0 10v1m0 9v1m0 3v1m0 20v1m0 2v1m0 2v1m0 6v1m0 2v1m0 2v1m0 3v1m0 6v1m0 16v1m0 4v1m0 11v1m0 2v1m0 1v2m0 43v1m0 7v2m0 5v1m0 3v1m0 1v2m0 4v1m0 10v1m0 8v3m0 6v1m0 6v1m0 5v1m0 3v3m0 7v1m0 13v1m0 17v1m0 19v1m0 8v1m0 8v1M112 21v2m0 5v3m0 5v1m0 9v1m0 1v1m0 5v1m0 9v2m0 1v1m0 8v2m0 6v1m0 10v1m0 10v1m0 11v1m0 7v1m0 12v1m0 41v1m0 7v1m0 3v1m0 9v1m0 12v1m0 12v1m0 5v1m0 35v1m0 5v1m0 21v1m0 3v1m0 26v1m0 6v2m0 2v1m0 48v1m0 3v1M114 19v1m0 1v1m0 1v1m0 10v2m0 3v2m0 7v2m0 9v1m0 8v1m0 36v1m0 16v3m0 3v1m0 1v1m0 2v1m0 12v1m0 28v1m0 4v1m0 9v1m0 10v1m0 2v1m0 48v1m0 9v1m0 12v1m0 9v2m0 19v2m0 14v1m0 19v1m0 20v1m0 30v1m0 7v2M116 16v1m0 12v1m0 14v2m0 9v1m0 2v1m0 4v1m0 17v1m0 2v1m0 12v2m0 15v1m0 1v1m0 19v1m0 3v2m0 24v1m0 3v1m0 17v1m0 5v1m0 8v1m0 1v1m0 5v3m0 24v1m0 5v1m0 2v1m0 2v1m0 3v1m0 4v1m0 10v1m0 2v1m0 10v3m0 1v2m0 3v1m0 1v2m0 4v1m0 2v1m0 21v1m0 1v1m0 2v1m0 2v1m0 18v1m0 11v1m0 4v1m0 4v1m0 19v1m0 3v1M118 22v1m0 13v1m0 2v1m0 6v1m0 11v1m0 8v1m0 15v1m0 13v1m0 1v1m0 2v2m0 14v1m0 3v1m0 14v1m0 11v1m0 4v1m0 30v1m0 4v1m0 6v1m0 4v1m0 1v2m0 12v1m0 4v1m0 2v1m0 10v3m0 17v1m0 3v2m0 3v1m0 4v1m0 19v1m0 16v1m0 11v1m0 14v1m0 9v1m0 6v1m0 21v1m0 1v1m0 4v1m0 7v1M120 17v1m0 3v2m0 7v1m0 7v2m0 3v1m0 13v1m0 10v2m0 14v1m0 9v1m0 3v1m0 14v1m0 25v1m0 3v1m0 6v1m0 13v2m0 38v1m0 9v1m0 14v1m0 18v1m0 9v1m0 7v1m0 2v1m0 11v1m0 24v1m0 29v1m0 7v1m0 5v1m0 3v1m0 42v1m0 4v1m0 1v1M125 22v1m0 12v2m0 10v2m0 19v1m0 10v2m0 2v1m0 18v1m0 5v1m0 1v1m0 2v1m0 2v1m0 14v2m0 7v1m0 2v1m0 2v1m0 6v1m0 10v1m0 3v1m0 16v1m0 14v2m0 15v1m0 5v1m0 3v1m0 2v1m0 14v1m0 4v1m0 5v2m0 13v1m0 2v2m0 12v1m0 2v1m0 2v1m0 6v1m0 11v1m0 1v1m0 4v1m0 4v1m0 3v1m0 6v2m0 3v1m0 8v1m0 5v1m0 23v1m0 18v1M130 21v1m0 7v1m0 4v2m0 2v1m0 7v1m0 8v1m0 20v1m0 21v1m0 2v1m0 5v2m0 3v1m0 8v2m0 15v1m0 10v1m0 16v1m0 20v1m0 14v1m0 2v1m0 9v1m0 2v1m0 25v2m0 14v1m0 3v1m0 1v1m0 30v1m0 1v1m0 5v1m0 2v1m0 15v1m0 6v1m0 8v1m0 3v1m0 1v2m0 6v1m0 17v1m0 10v1m0 7v1m0 9v1M135 31v1m0 12v1m0 11v1m0 11v1m0 6v1m0 31v1m0 21v1m0 20v1m0 11v1m0 9v1m0 3v1m0 1v1m0 6v1m0 25v1m0 16v1m0 6v1m0 28v1m0 1v1m0 6v1m0 6v1m0 2v1m0 4v1m0 1v2m0 1v1m0 9v1m0 5v1m0 7v1m0 8v1m0 2v1m0 5v2m0 16v3m0 4v1m0 8v1m0 9v1M140 16v2m0 2v1m0 31v1m0 16v1m0 6v1m0 43v1m0 17v1m0 3v2m0 21v1m0 2v1m0 3v1m0 8v1m0 3v1m0 2v1m0 3v1m0 11v1m0 2v2m0 8v1m0 4v1m0 19v1m0 1v4m0 3v1m0 5v1m0 23v1m0 1v1m0 4v1m0 14v1m0 7v1m0 36v1m0 9v1m0 14v1m0 4v1m0 8v2m0 15v1M145 19v1m0 14v1m0 4v1m0 13v1m0 5v1m0 3v1m0 17v1m0 3v1m0 14v1m0 7v1m0 17v1m0 32v2m0 1v2m0 60v2m0 1v1m0 10v2m0 18v1m0 13v1m0 11v1m0 20v1m0 3v2m0 7v1m0 9v1m0 28v1m0 3v1m0 8v1m0 6v1M150 21v1m0 1v1m0 3v1m0 2v1m0 5v2m0 7v1m0 13v1m0 13v1m0 5v1m0 15v1m0 33v1m0 11v2m0 7v1m0 6v1m0 21v1m0 10v1m0 15v1m0 20v2m0 3v1m0 8v1m0 10v2m0 13v2m0 27v1m0 18v1m0 15v1m0 5v1m0 7v1"/>
<path stroke="#482475" d="M0 29v1m0 2v1m0 1v1m0 11v1m0 3v1m0 5v1m0 17v1m0 2v1m0 2v1m0 32v1m0 13v1m0 9v1m0 12v1m0 10v1m0 1v1m0 2v1m0 31v2m0 16v1m0 12v1m0 8v1m0 5v1m0 8v1m0 9v2m0 9v1m0 9v1m0 11v1m0 10v1m0 8v1m0 10v1m0 15v1m0 2v2m0 1v1m0 1v1m0 8v1m0 15v1m0 2v1m0 11v1m0 7v1M1 9v1m0 7v2m0 7v1m0 3v1m0 22v1m0 11v3m0 7v1m0 11v1m0 20v1m0 3v1m0 3v1m0 24v1m0 8v1m0 17v1m0 3v2m0 16v1m0 5v1m0 5v1m0 1v1m0 4v2m0 24v1m0 6v2m0 7v1m0 20v1m0 19v1m0 21v1m0 1v1m0 1v1m0 11v1m0 2v1m0 8v1m0 13v1m0 6v1M2 15v1m0 3v1m0 8v1m0 1v1m0 3v1m0 11v1m0 2v2m0 35v1m0 6v1m0 2v1m0 22v1m0 7v1m0 16v2m0 10v1m0 11v1m0 3v2m0 13v1m0 5v1m0 2v1m0 3v1m0 4v2m0 13v1m0 18v1m0 4v1m0 20v1m0 54v1m0 25v1m0 20v1m0 18v2m0 9v1m0 5v1M3 9v1m0 5v1m0 2v1m0 11v2m0 6v1m0 1v1m0 8v1m0 15v1m0 7v1m0 32v2m0 9v1m0 11v1m0 2v2m0 19v3m0 32v1m0 10v2m0 5v1m0 1v1m0 20v2m0 1v1m0 13v3m0 1v1m0 24v1m0 1v1m0 12v1m0 33v1m0 15v1m0 12v1m0 5v1M4 9v1m0 5v1m0 2v2m0 4v1m0 5v1m0 11v2m0 23v1m0 15v1m0 5v1m0 29v1m0 9v1m0 12v1m0 42v1m0 4v1m0 17v1m0 13v1m0 27v1m0 13v1m0 2v2m0 24v1m0 14v1m0 8v1m0 23v1m0 11v1m0 2v1m0 15v1m0 26v1M5 24v2m0 7v1m0 18v1m0 48v1m0 23v1m0 25v1m0 7v1m0 8v1m0 7v1m0 33v1m0 15v1m0 7v1m0 2v1m0 5v1m0 11v1m0 7v1m0 1v2m0 20v1m0 18v1m0 16v1m0 9v1m0 4v2m0 3v1m0 2v1m0 15v1m0 24v1m0 4v1m0 5v3M6 19v1m0 4v1m0 4v1m0 1v2m0 12v2m0 24v1m0 10v1m0 30v1m0 5v2m0 10v1m0 1v2m0 6v1m0 11v1m0 14v1m0 13v1m0 7v1m0 10v2m0 24v1m0 18v2m0 16v1m0 6v1m0 17v1m0 4v1m0 3v1m0 2v1m0 7v1m0 28v1m0 10v1m0 4v1m0 4v1m0 22v1m0 11v1m0 1v1m0 6v1M7 29v1m0 1v1m0 6v1m0 14v1m0 9v1m0 4v1m0 13v2m0 1v1m0 3v1m0 9v1m0 1v2m0 1v2m0 16v1m0 22v1m0 7v2m0 2v1m0 14v2m0 2v1m0 4v1m0 1v2m0 10v2m0 2v1m0 10v1m0 3v2m0 1v1m0 4v3m0 35v1m0 1v1m0 1v1m0 7v1m0 4v1m0 3v1m0 9v1m0 3v1m0 12v1m0 5v1m0 12v1m0 21v1m0 2v1m0 4v1m0 2v1m0 5v1m0 7v1m0 6v1m0 6v1m0 6v1m0 4v1M8 14v1m0 8v1m0 21v2m0 2v1m0 3v2m0 3v1m0 2v1m0 1v1m0 23v1m0 17v1m0 13v1m0 19v1m0 14v1m0 17v2m0 21v1m0 23v2m0 2v1m0 3v1m0 6v1m0 20v1m0 7v1m0 3v1m0 17v1m0 3v1m0 2v1m0 18v1m0 15v1m0 36v1m0 4v1m0 7v1m0 11v1m0 6v1m0 3v1M9 21v1m0 5v2m0 6v1m0 9v1m0 26v1m0 15v1m0 20v2m0 3v1m0 13v1m0 1v2m0 11v1m0 2v1m0 7v1m0 14v1m0 3v1m0 31v2m0 5v1m0 5v1m0 10v1m0 17v1m0 17v1m0 12v1m0 6v1m0 30v1m0 17v1m0 2v1m0 17v2m0 5v1m0 9v1m0 1v1m0 2v1m0 20v1m0 1v1M10 11v1m0 6v1m0 7v1m0 5v1m0 17v1m0 13v1m0 9v1m0 12v1m0 5v1m0 13v1m0 2v1m0 8v1m0 8v1m0 8v1m0 4v1m0 23v1m0 47v1m0 12v1m0 37v1m0 5v1m0 17v2m0 10v2m0 9v1m0 6v1m0 29v1m0 35v1m0 1v1m0 1v1M11 14v1m0 7v1m0 4v2m0 10v1m0 7v1m0 2v3m0 12v1m0 6v1m0 1v1m0 4v1m0 11v1m0 19v1m0 5v1m0 3v1m0 5v1m0 6v1m0 4v1m0 7v1m0 4v1m0 3v1m0 1v1m0 28v2m0 4v1m0 3v1m0 17v1m0 4v2m0 4v1m0 8v1m0 3v3m0 6v1m0 17v1m0 10v1m0 3v1m0 46v1m0 25v1m0 3v3m0 7v1m0 18v1m0 1v2m0 7v1M12 21v1m0 11v1m0 1v1m0 2v1m0 10v1m0 22v1m0 2v1m0 1v1m0 7v1m0 2v1m0 20v1m0 45v1m0 3v1m0 1v1m0 2v1m0 6v1m0 2v1m0 6v1m0 4v2m0 10v1m0 30v1m0 12v1m0 12v1m0 5v1m0 8v1m0 3v3m0 18v1m0 2v1m0 25v1m0 1v1m0 4v1m0 9v3m0 2v1m0 16v1m0 17v1m0 4v1m0 1v1M13 14v2m0 5v3m0 4v1m0 3v1m0 6v1m0 1v1m0 22v1m0 18v1m0 13v1m0 26v1m0 2v1m0 16v1m0 5v1m0 56v1m0 18v1m0 16v1m0 1v1m0 4v1m0 4v1m0 32v2m0 15v1m0 22v3m0 4v1m0 2v1m0 18v1m0 7v1m0 19v1m0 13v1M14 15v1m0 5v1m0 2v1m0 22v1m0 3v1m0 2v1m0 4v1m0 2v1m0 20v1m0 2v1m0 7v1m0 9v1m0 7v1m0 18v2m0 3v1m0 11v1m0 36v1m0 1v1m0 8v1m0 18v1m0 4v1m0 2v1m0 43v1m0 13v1m0 7v1m0 2v1m0 30v1m0 1v2m0 14v1m0 4v1m0 30v1m0 2v1m0 2v1M15 15v1m0 14v1m0 15v1m0 23v2m0 1v1m0 1v2m0 8v1m0 9v1m0 1v2m0 3v1m0 5v2m0 10v1m0 9v1m0 18v1m0 3v1m0 1v1m0 4v2m0 18v1m0 33v1m0 14v1m0 1v1m0 17v2m0 1v1m0 7v1m0 8v1m0 13v1m0 8v1m0 1v2m0 36v1m0 9v1m0 1v1m0 7v1m0 6v1m0 1v1m0 4v1m0 14v2m0 6v1m0 11v1M16 14v1m0 3v2m0 3v2m0 30v1m0 13v1m0 18v1m0 12v1m0 59v1m0 53v1m0 2v1m0 2v1m0 8v1m0 18v1m0 8v1m0 19v2m0 19v1m0 5v1m0 1v1m0 6v1m0 22v1m0 4v1m0 21v1m0 5v1M17 35v1m0 8v1m0 7v1m0 4v1m0 10v1m0 15v1m0 32v1m0 27v1m0 35v1m0 64v1m0 17v1m0 11v1m0 40v1m0 17v1m0 1v1m0 1v1m0 3v1m0 6v1m0 5v1m0 2v1m0 8v1m0 4v1m0 3v1m0 9v1M18 14v2m0 24v1m0 5v1m0 18v2m0 2v1m0 3v1m0 7v1m0 7v1m0 84v1m0 3v1m0 51v2m0 14v1m0 7v1m0 42v1m0 32v1m0 22v2m0 13v1m0 8v1M19 35v1m0 5v2m0 22v2m0 43v1m0 11v1m0 19v1m0 49v1m0 10v1m0 17v1m0 20v1m0 1v1m0 10v2m0 4v1m0 2v1m0 5v2m0 4v1m0 48v1m0 14v1m0 30v1m0 16v1m0 15v1M20 11v1m0 2v2m0 14v1m0 3v1m0 18v1m0 22v1m0 59v1m0 25v1m0 79v3m0 8v1m0 9v1m0 4v1m0 8v1m0 14v1m0 17v1m0 20v1m0 25v1m0 11v1m0 16v1m0 9v2M21 39v1m0 6v2m0 2v1m0 2v1m0 40v1m0 19v1m0 5v1m0 3v1m0 31v1m0 70v1m0 12v1m0 1v1m0 15v1m0 15v1m0 4v1m0 8v1m0 18v1m0 6v1m0 1v1m0 15v1m0 24v1m0 28v2m0 9v2M22 23v1m0 26v1m0 10v1m0 2v1m0 91v1m0 5v1m0 4v1m0 6v1m0 14v1m0 18v3m0 14v1m0 8v1m0 24v1m0 2v1m0 43v1m0 1v1m0 8v2m0 47v1M23 17v1m0 21v1m0 16v2m0 5v1m0 21v1m0 14v1m0 23v1m0 24v1m0 7v1m0 22v1m0 5v1m0 20v3m0 5v1m0 1v2m0 23v1m0 3v2m0 12v1m0 20v1m0 4v2m0 8v1m0 1v2m0 3v1m0 9v1m0 38v1m0 29v1m0 2v1M24 13v2m0 2v1m0 1v1m0 2v1m0 2v1m0 16v2m0 13v2m0 1v2m0 11v1m0 11v1m0 2v1m0 3v1m0 1v2m0 3v1m0 2v1m0 1v1m0 7v1m0 10v1m0 9v1m0 14v1m0 9v1m0 4v2m0 3v1m0 4v1m0 2v1m0 10v1m0 13v2m0 18v1m0 9v1m0 6v1m0 12v1m0 13v4m0 1v1m0 10v1m0 3v1m0 1v1m0 12v4m0 9v1m0 2v1m0 1v2m0 6v1m0 5v2m0 26v1m0 19v1m0 8v1M25 14v2m0 3v1m0 2v1m0 14v1m0 9v1m0 1v1m0 41v1m0 15v1m0 14v1m0 8v1m0 7v1m0 10v2m0 30v1m0 2v2m0 4v1m0 6v1m0 14v1m0 2v2m0 3v1m0 3v1m0 3v1m0 3v1m0 15v1m0 13v1m0 36v2m0 39v1m0 6v1m0 8v1m0 4v1m0 30v1m0 3v1M26 21v1m0 49v1m0 11v1m0 32v1m0 111v1m0 24v1m0 37v1m0 48v2M27 21v1m0 2v1m0 23v1m0 26v1m0 33v1m0 19v1m0 14v1m0 17v2m0 5v1m0 7v1m0 26v1m0 15v1m0 9v1m0 28v1m0 32v1m0 14v2m0 39v1m0 21v1m0 25v2M28 18v2m0 1v1m0 7v1m0 18v1m0 18v1m0 4v1m0 1v1m0 31v1m0 25v2m0 5v1m0 18v1m0 9v1m0 4v1m0 14v1m0 15v1m0 4v1m0 18v1m0 5v1m0 30v1m0 5v2m0 23v1m0 2v1m0 8v1m0 14v1m0 42v1m0 32v1M29 0v1m0 29v1m0 2v2m0 1v1m0 9v1m0 21v1m0 4v1m0 2v1m0 45v1m0 5v1m0 3v1m0 6v1m0 5v1m0 6v1m0 18v1m0 22v1m0 17v2m0 1v1m0 3v1m0 3v1m0 12v1m0 5v1m0 15v1m0 6v1m0 10v1m0 11v1m0 10v1m0 2v1m0 6v1m0 5v1m0 2v1m0 19v1m0 6v1m0 9v1m0 11v1m0 7v2m0 6v1m0 8v1m0 7v1m0 1v1M30 14v2m0 9v1m0 11v1m0 60v1m0 36v1m0 23v1m0 57v2m0 5v1m0 5v2m0 63v1m0 20v1m0 23v1m0 8v1m0 18v1M31 16v1m0 4v1m0 53v1m0 27v1m0 29v2m0 26v1m0 4v1m0 3v1m0 7v1m0 9v1m0 5v1m0 12v1m0 5v1m0 8v1m0 3v1m0 3v1m0 28v1m0 23v1m0 7v1m0 4v1m0 9v1m0 4v1m0 4v1m0 5v2m0 31v1m0 21v1m0 1v1m0 18v1m0 2v1M32 19v2m0 4v2m0 24v1m0 1v1m0 1v1m0 46v1m0 12v1m0 27v1m0 26v1m0 9v1m0 49v1m0 5v1m0 31v1m0 3v1m0 11v1m0 28v1m0 3v1m0 15v1m0 5v1m0 15v1m0 17v1m0 10v1m0 8v1m0 1v1M33 11v1m0 3v1m0 14v1m0 25v1m0 9v1m0 3v2m0 24v1m0 12v1m0 6v1m0 12v1m0 31v1m0 34v1m0 11v1m0 7v1m0 1v1m0 14v1m0 37v1m0 10v2m0 14v1m0 2v1m0 44v1m0 49v1m0 4v2M34 13v1m0 3v1m0 5v2m0 5v2m0 2v1m0 2v1m0 3v1m0 3v1m0 14v1m0 12v1m0 4v1m0 1v1m0 11v1m0 2v1m0 4v1m0 6v1m0 9v1m0 2v2m0 6v1m0 4v1m0 1v1m0 19v1m0 20v1m0 10v1m0 7v1m0 5v1m0 9v1m0 20v1m0 6v1m0 8v1m0 5v1m0 1v1m0 1v1m0 4v1m0 2v1m0 15v1m0 6v1m0 11v1m0 8v1m0 7v1m0 4v2m0 3v1m0 2v1m0 6v1m0 4v1m0 20v2m0 4v1m0 2v2m0 4v1m0 5v1m0 7v1M35 12v2m0 14v1m0 7v1m0 4v1m0 16v1m0 21v1m0 3v2m0 21v1m0 10v1m0 5v1m0 10v1m0 21v1m0 38v1m0 5v1m0 18v1m0 17v1m0 11v1m0 20v1m0 20v1m0 3v2m0 26v1m0 19v2m0 7v1M36 22v1m0 4v1m0 8v1m0 43v1m0 1v2m0 3v2m0 23v1m0 3v1m0 13v1m0 2v2m0 9v1m0 11v1m0 9v1m0 4v1m0 33v1m0 1v1m0 2v1m0 5v1m0 5v1m0 4v1m0 3v1m0 12v1m0 6v1m0 7v2m0 1v2m0 9v1m0 10v1m0 2v1m0 50v1m0 5v1m0 13v1m0 13v1m0 14v1m0 2v1m0 3v1m0 1v1m0 1v1m0 4v1M37 23v1m0 9v1m0 35v2m0 6v1m0 6v1m0 16v1m0 14v1m0 3v1m0 10v1m0 10v1m0 1v1m0 1v1m0 3v1m0 14v4m0 1v1m0 5v1m0 2v1m0 10v2m0 56v1m0 14v1m0 22v1m0 2v1m0 15v2m0 1v1m0 16v1m0 10v1m0 6v1m0 4v1m0 6v2m0 5v2m0 2v1m0 4v1m0 3v1M38 20v1m0 4v1m0 2v2m0 2v1m0 2v1m0 10v2m0 5v2m0 4v1m0 82v1m0 4v1m0 9v1m0 4v1m0 37v1m0 7v1m0 4v1m0 4v1m0 5v1m0 23v2m0 5v1m0 4v1m0 51v2m0 4v1m0 6v1m0 12v1m0 1v1m0 6v1m0 21v2m0 13v1m0 7v1M39 18v2m0 47v1m0 39v1m0 31v2m0 5v1m0 3v1m0 9v1m0 54v1m0 10v1m0 10v1m0 13v1m0 18v1m0 13v1m0 17v1m0 2v1m0 5v3m0 3v1m0 22v1m0 14v1m0 4v1m0 29v1m0 12v1M40 11v1m0 11v1m0 39v1m0 6v1m0 5v1m0 19v1m0 1v1m0 5v1m0 11v2m0 12v1m0 4v2m0 8v2m0 23v1m0 15v1m0 20v1m0 1v1m0 1v2m0 15v1m0 4v2m0 13v1m0 13v1m0 15v1m0 11v1m0 4v1m0 5v1m0 15v1m0 26v1m0 22v1m0 15v3m0 5v1M41 11v1m0 48v1m0 8v1m0 41v1m0 34v1m0 8v1m0 56v1m0 7v1m0 99v2m0 9v1m0 9v1m0 4v1M42 11v1m0 11v2m0 1v1m0 6v1m0 1v1m0 31v1m0 14v1m0 42v1m0 18v1m0 13v2m0 8v1m0 26v1m0 1v1m0 7v1m0 42v1m0 1v1m0 45v1m0 8v1m0 6v1m0 29v3m0 1v1m0 3v1m0 2v1m0 48v1M43 0v1m0 20v1m0 13v1m0 17v1m0 16v1m0 9v1m0 23v1m0 5v1m0 4v1m0 27v1m0 12v1m0 5v1m0 19v1m0 6v1m0 12v1m0 15v1m0 4v1m0 23v1m0 4v1m0 32v2m0 8v1m0 4v1m0 1v1m0 1v1m0 7v1m0 4v1m0 26v1m0 9v1m0 19v1m0 2v2m0 5v1M44 15v4m0 5v1m0 2v1m0 11v1m0 8v1m0 9v1m0 3v1m0 3v1m0 4v1m0 6v1m0 6v1m0 2v1m0 8v1m0 2v1m0 7v1m0 3v1m0 13v1m0 6v1m0 10v1m0 2v1m0 2v1m0 9v1m0 6v2m0 2v1m0 15v1m0 3v2m0 6v1m0 12v1m0 24v1m0 1v1m0 3v1m0 7v1m0 10v1m0 20v3m0 5v1m0 2v1m0 1v1m0 1v2m0 5v1m0 2v1m0 7v1m0 1v1m0 1v1m0 15v1m0 14v1m0 5v1m0 5v1m0 4v1m0 11v1m0 4v1m0 1v1m0 5v1m0 1v2M45 20v1m0 68v1m0 61v1m0 20v1m0 6v1m0 6v1m0 10v1m0 40v1m0 41v1m0 37v1m0 57v1m0 6v1M46 11v1m0 4v1m0 1v1m0 3v1m0 3v3m0 4v1m0 6v1m0 8v1m0 8v1m0 2v1m0 13v1m0 4v2m0 3v2m0 27v1m0 1v1m0 13v2m0 34v1m0 2v1m0 3v1m0 13v1m0 10v1m0 1v1m0 9v1m0 34v1m0 5v1m0 37v1m0 12v1m0 42v1m0 17v1m0 30v1m0 6v1M47 16v1m0 7v1m0 13v1m0 7v2m0 9v1m0 12v1m0 9v1m0 7v1m0 3v1m0 13v1m0 8v1m0 17v2m0 8v1m0 1v1m0 7v1m0 2v1m0 4v1m0 10v1m0 4v1m0 10v1m0 18v1m0 18v1m0 6v1m0 32v2m0 5v1m0 5v3m0 4v1m0 11v1m0 4v1m0 16v2m0 7v1m0 10v2m0 5v1m0 18v1m0 3v1m0 9v2m0 11v1m0 1v1M48 16v1m0 27v1m0 4v1m0 19v2m0 14v1m0 3v1m0 7v1m0 41v1m0 6v1m0 3v2m0 3v1m0 28v1m0 4v1m0 3v1m0 4v2m0 19v3m0 10v1m0 6v1m0 16v1m0 9v1m0 24v1m0 2v1m0 24v1m0 11v1m0 25v1m0 9v1m0 13v1m0 1v1m0 3v1m0 16v1M49 29v1m0 5v1m0 8v1m0 9v2m0 6v2m0 7v1m0 4v1m0 1v1m0 9v1m0 7v1m0 2v1m0 7v1m0 4v1m0 6v1m0 8v1m0 12v1m0 14v1m0 15v1m0 1v1m0 4v1m0 10v1m0 5v1m0 1v3m0 4v1m0 1v1m0 9v1m0 3v1m0 6v1m0 7v1m0 13v1m0 5v1m0 2v1m0 8v1m0 15v1m0 10v1m0 8v1m0 1v2m0 7v1m0 9v1m0 5v1m0 7v1m0 4v2m0 5v2m0 5v1m0 5v2m0 1v1m0 11v1m0 5v1m0 2v2m0 2v2M50 18v1m0 4v2m0 13v4m0 5v1m0 7v1m0 3v1m0 5v1m0 3v1m0 12v1m0 1v1m0 5v1m0 9v2m0 5v1m0 8v1m0 22v1m0 3v1m0 13v1m0 12v1m0 1v1m0 2v1m0 9v1m0 1v2m0 13v1m0 4v1m0 14v1m0 1v1m0 3v2m0 1v1m0 22v1m0 9v1m0 12v1m0 1v1m0 6v1m0 18v1m0 3v1m0 12v2m0 5v1m0 7v2m0 7v1m0 3v1m0 3v1m0 21v1m0 1v1m0 12v1m0 12v1M51 15v1m0 7v1m0 1v1m0 8v1m0 5v1m0 8v1m0 4v2m0 6v1m0 37v2m0 14v1m0 16v1m0 5v1m0 1v1m0 23v1m0 32v2m0 2v1m0 8v2m0 47v1m0 29v1m0 32v1m0 5v1m0 8v1m0 5v1m0 54v1M52 21v1m0 6v1m0 26v1m0 10v1m0 6v1m0 8v1m0 1v1m0 6v1m0 39v1m0 11v1m0 1v1m0 7v1m0 10v2m0 8v1m0 13v2m0 6v1m0 5v1m0 6v1m0 1v2m0 26v1m0 24v1m0 8v1m0 1v1m0 22v1m0 3v2m0 70v1m0 11v1m0 11v1M53 16v1m0 21v1m0 8v1m0 9v1m0 6v2m0 6v1m0 2v1m0 3v1m0 4v2m0 25v2m0 8v1m0 17v1m0 5v2m0 2v1m0 18v1m0 2v1m0 2v1m0 11v1m0 20v1m0 17v1m0 1v1m0 14v1m0 2v2m0 7v1m0 1v1m0 24v2m0 6v1m0 6v2m0 3v1m0 7v1m0 3v1m0 10v1m0 10v1m0 5v1m0 16v1m0 10v1M54 11v1m0 15v2m0 2v1m0 14v1m0 10v1m0 16v1m0 16v1m0 18v2m0 3v1m0 1v2m0 9v2m0 8v2m0 1v1m0 6v1m0 8v1m0 2v1m0 37v1m0 22v1m0 1v1m0 14v1m0 14v1m0 11v2m0 8v1m0 10v1m0 44v1m0 14v1m0 21v1m0 11v1m0 6v1M55 16v2m0 2v1m0 23v1m0 6v1m0 2v2m0 11v1m0 1v1m0 8v1m0 9v1m0 15v1m0 5v1m0 4v1m0 17v2m0 12v1m0 3v1m0 23v1m0 1v1m0 17v1m0 2v1m0 20v1m0 9v1m0 3v2m0 7v1m0 16v1m0 6v1m0 7v1m0 10v1m0 7v1m0 2v2m0 2v1m0 30v1m0 8v1m0 3v1m0 3v1m0 5v3m0 14v1m0 5v1m0 10v1m0 4v1M56 20v1m0 9v1m0 1v1m0 4v1m0 2v1m0 13v1m0 1v1m0 26v1m0 1v1m0 8v2m0 7v1m0 7v1m0 1v1m0 10v1m0 10v1m0 13v1m0 15v1m0 1v1m0 9v1m0 7v1m0 18v1m0 9v1m0 22v1m0 20v1m0 5v2m0 6v3m0 3v1m0 21v1m0 15v1m0 11v3m0 10v1m0 33v1m0 3v1m0 2v1M57 15v1m0 45v3m0 9v2m0 10v2m0 6v1m0 3v1m0 13v1m0 6v1m0 3v1m0 8v1m0 3v2m0 12v1m0 7v1m0 8v1m0 29v2m0 11v1m0 13v1m0 6v1m0 7v1m0 8v1m0 6v1m0 10v1m0 1v1m0 1v1m0 7v1m0 19v1m0 10v1m0 12v1m0 5v1m0 12v2m0 15v2m0 7v1m0 2v2m0 6v1m0 7v2m0 12v1M58 15v1m0 3v2m0 4v1m0 4v1m0 5v1m0 8v1m0 1v1m0 18v1m0 1v1m0 1v1m0 5v1m0 29v1m0 21v1m0 3v1m0 9v1m0 1v1m0 3v1m0 4v2m0 9v2m0 1v1m0 6v1m0 26v1m0 8v1m0 1v1m0 3v1m0 5v2m0 9v1m0 8v2m0 4v2m0 2v1m0 8v1m0 1v1m0 9v1m0 4v1m0 4v1m0 2v1m0 1v1m0 5v2m0 2v1m0 1v1m0 2v1m0 1v1m0 8v2m0 23v1m0 4v2m0 5v1m0 5v1m0 11v1m0 15v2m0 11v2m0 4v1M59 14v1m0 2v1m0 9v2m0 1v1m0 1v1m0 13v1m0 7v1m0 1v1m0 5v1m0 9v1m0 16v1m0 13v1m0 1v1m0 4v1m0 17v1m0 25v1m0 5v1m0 2v1m0 7v1m0 3v1m0 13v1m0 2v1m0 2v1m0 10v1m0 4v1m0 25v1m0 2v1m0 6v1m0 14v1m0 3v1m0 19v1m0 33v1m0 17v1m0 11v2m0 11v1m0 17v1m0 1v1m0 11v1M60 19v1m0 21v1m0 4v2m0 33v1m0 1v1m0 2v1m0 4v1m0 8v1m0 5v1m0 4v1m0 4v1m0 27v2m0 13v2m0 5v1m0 16v1m0 18v1m0 1v1m0 4v2m0 1v1m0 7v1m0 5v1m0 2v1m0 19v1m0 17v1m0 6v1m0 5v1m0 9v1m0 25v2m0 3v1m0 32v1m0 4v1m0 3v1m0 10v1m0 1v1m0 3v2m0 21v1M61 18v1m0 5v1m0 10v1m0 6v1m0 9v2m0 10v1m0 29v2m0 35v1m0 17v2m0 1v1m0 16v1m0 24v1m0 3v1m0 21v1m0 13v1m0 26v1m0 46v1m0 2v1m0 13v1m0 9v1m0 46v1m0 1v1m0 9v1M62 18v2m0 1v1m0 10v1m0 2v1m0 4v1m0 25v1m0 40v1m0 15v1m0 13v1m0 22v2m0 15v1m0 4v1m0 1v1m0 15v1m0 12v1m0 24v1m0 10v1m0 21v1m0 7v1m0 3v2m0 6v1m0 2v1m0 2v1m0 1v1m0 6v1m0 13v1m0 5v1m0 29v1m0 26v1m0 2v1m0 11v1M63 35v3m0 19v1m0 12v2m0 1v1m0 4v1m0 8v1m0 2v1m0 56v1m0 53v1m0 9v1m0 4v1m0 4v1m0 6v2m0 2v1m0 20v1m0 2v1m0 24v2m0 4v4m0 5v1m0 2v1m0 6v1m0 23v2m0 3v1m0 4v1m0 11v1m0 18v1m0 3v1m0 22v1M64 21v1m0 5v2m0 34v1m0 1v1m0 4v1m0 6v1m0 28v1m0 17v1m0 30v1m0 13v1m0 10v1m0 12v2m0 4v1m0 8v1m0 4v1m0 18v2m0 7v1m0 6v1m0 27v1m0 20v1m0 19v1m0 13v1m0 16v1m0 50v1M65 19v1m0 8v1m0 2v1m0 5v1m0 41v1m0 46v1m0 11v1m0 8v1m0 47v1m0 13v1m0 73v1m0 16v1m0 36v1m0 34v2m0 21v1M66 14v1m0 6v1m0 3v2m0 9v1m0 4v1m0 3v1m0 2v1m0 29v1m0 4v1m0 20v1m0 6v1m0 13v1m0 12v1m0 1v1m0 5v2m0 10v2m0 6v2m0 21v2m0 12v1m0 8v2m0 27v1m0 15v1m0 3v1m0 8v1m0 6v1m0 33v1m0 1v1m0 9v1m0 8v1m0 4v1m0 9v2m0 4v1m0 12v1m0 9v1m0 13v2m0 4v1M67 21v1m0 3v1m0 11v1m0 1v1m0 4v1m0 2v1m0 1v1m0 16v1m0 4v1m0 4v1m0 2v1m0 4v1m0 1v1m0 11v1m0 15v2m0 5v2m0 7v1m0 16v1m0 2v1m0 12v1m0 13v1m0 3v1m0 6v2m0 3v2m0 34v1m0 23v1m0 9v1m0 5v1m0 10v1m0 2v1m0 4v3m0 10v2m0 10v2m0 6v1m0 3v1m0 3v2m0 6v1m0 7v1m0 7v1m0 1v1m0 20v1M68 28v1m0 3v1m0 1v1m0 25v1m0 1v1m0 5v1m0 1v1m0 36v1m0 2v1m0 9v1m0 2v1m0 43v1m0 9v1m0 34v1m0 9v1m0 26v1m0 19v1m0 2v1m0 11v1m0 28v1m0 12v1m0 25v1m0 17v1m0 2v1m0 2v1m0 1v1M69 15v1m0 15v1m0 2v1m0 62v1m0 20v1m0 88v1m0 28v1m0 24v1m0 11v1m0 45v2m0 5v1m0 12v1M70 25v1m0 4v1m0 18v1m0 1v1m0 13v1m0 25v1m0 2v1m0 5v1m0 6v1m0 4v1m0 2v1m0 2v1m0 9v1m0 1v1m0 12v1m0 7v1m0 13v1m0 15v2m0 32v1m0 16v1m0 15v1m0 2v1m0 4v1m0 37v1m0 14v1m0 10v1m0 1v1m0 4v1m0 20v1m0 10v1m0 1v1m0 6v1m0 3v1m0 3v1m0 3v1m0 20v1M71 34v1m0 67v1m0 62v1m0 123v1m0 1v2m0 16v2m0 5v1m0 1v1M72 25v1m0 1v1m0 29v1m0 29v1m0 55v2m0 19v1m0 48v1m0 5v1m0 11v1m0 7v1m0 30v1m0 37v1m0 42v1m0 10v2m0 11v1m0 2v2m0 4v1m0 9v1m0 5v1M73 30v1m0 8v2m0 1v1m0 5v1m0 15v1m0 8v1m0 3v1m0 7v1m0 51v1m0 2v1m0 21v1m0 3v1m0 31v1m0 27v1m0 6v1m0 6v1m0 33v1m0 3v1m0 4v1m0 7v1m0 1v1m0 20v1m0 36v1m0 26v1m0 2v1m0 6v1m0 6v1M74 0v1m0 24v2m0 1v1m0 8v1m0 18v1m0 30v1m0 1v1m0 1v3m0 10v1m0 5v1m0 12v1m0 10v1m0 12v1m0 2v2m0 5v1m0 5v1m0 3v1m0 18v1m0 1v1m0 2v1m0 16v1m0 11v1m0 2v1m0 5v2m0 7v1m0 1v1m0 16v1m0 5v1m0 3v1m0 20v1m0 8v1m0 3v1m0 3v1m0 19v1m0 1v1m0 20v1m0 7v1m0 15v2m0 9v1m0 2v1m0 12v1m0 3v1M75 20v1m0 1v3m0 14v1m0 9v1m0 7v1m0 1v3m0 1v1m0 2v1m0 3v1m0 5v1m0 3v1m0 6v1m0 7v2m0 3v1m0 3v1m0 6v1m0 30v1m0 2v1m0 1v2m0 1v2m0 8v1m0 7v1m0 6v3m0 11v1m0 3v3m0 4v1m0 12v1m0 10v1m0 17v1m0 7v1m0 9v2m0 3v1m0 7v1m0 4v1m0 2v1m0 5v1m0 9v1m0 2v1m0 6v1m0 4v1m0 8v1m0 8v2m0 21v1m0 1v1m0 7v1m0 2v1m0 2v1m0 14v1m0 6v1m0 4v2M76 21v1m0 12v1m0 11v2m0 4v2m0 11v2m0 19v1m0 15v1m0 10v1m0 6v1m0 1v2m0 4v2m0 15v1m0 13v1m0 16v2m0 10v2m0 14v1m0 2v1m0 21v1m0 4v1m0 3v1m0 10v1m0 38v2m0 7v1m0 28v1m0 3v1m0 30v1m0 7v1m0 6v1m0 12v1M77 57v1m0 12v1m0 5v1m0 35v1m0 18v1m0 25v1m0 2v1m0 31v1m0 18v2m0 13v1m0 8v1m0 5v1m0 11v1m0 7v1m0 2v1m0 5v1m0 27v2m0 5v1m0 1v1m0 11v1m0 20v1m0 12v1m0 15v1M78 11v1m0 8v1m0 11v1m0 7v1m0 8v1m0 1v1m0 5v1m0 1v1m0 26v1m0 15v1m0 2v2m0 15v1m0 19v1m0 18v1m0 7v1m0 2v1m0 12v1m0 1v1m0 6v1m0 5v1m0 22v1m0 9v1m0 67v1m0 49v1m0 8v1m0 2v1m0 22v1m0 12v1M79 18v1m0 6v1m0 2v1m0 4v2m0 1v1m0 17v1m0 15v1m0 29v1m0 3v3m0 10v1m0 21v1m0 13v2m0 10v1m0 1v1m0 14v1m0 12v2m0 7v1m0 7v1m0 6v1m0 14v1m0 4v1m0 6v1m0 10v2m0 4v1m0 2v1m0 8v3m0 9v1m0 13v2m0 10v1m0 1v1m0 5v1m0 25v3m0 1v3m0 6v1m0 7v1m0 9v1m0 9v1m0 2v1m0 3v1m0 3v1m0 2v1M80 20v2m0 6v1m0 1v1m0 4v2m0 8v1m0 4v2m0 6v1m0 6v1m0 9v2m0 10v1m0 10v1m0 7v1m0 7v2m0 23v1m0 10v1m0 12v1m0 3v1m0 17v1m0 16v1m0 3v1m0 10v1m0 9v2m0 8v1m0 3v1m0 14v1m0 1v1m0 38v1m0 4v1m0 1v1m0 17v1m0 23v1m0 35v1m0 13v1M81 18v1m0 16v1m0 3v1m0 19v1m0 39v1m0 5v1m0 10v1m0 15v1m0 3v1m0 28v2m0 17v1m0 73v1m0 4v1m0 17v1m0 2v1m0 38v1m0 7v1m0 4v1m0 12v1m0 4v1m0 21v1M82 19v2m0 5v1m0 14v1m0 13v1m0 6v1m0 7v1m0 6v1m0 6v1m0 37v1m0 11v1m0 12v1m0 4v1m0 21v1m0 3v1m0 4v1m0 3v1m0 6v1m0 3v1m0 6v1m0 23v1m0 9v1m0 1v1m0 5v1m0 16v1m0 14v1m0 10v1m0 37v2m0 3v1m0 3v1m0 19v1m0 22v1m0 1v1m0 8v1m0 5v1M83 25v1m0 17v1m0 26v1m0 2v1m0 13v1m0 9v1m0 1v1m0 8v1m0 9v1m0 29v1m0 19v1m0 3v3m0 3v1m0 32v1m0 5v1m0 14v1m0 3v1m0 4v3m0 14v1m0 1v1m0 29v2m0 16v1m0 27v2m0 11v2m0 21v1m0 14v2m0 4v1m0 8v1M84 11v1m0 34v1m0 11v1m0 8v1m0 5v2m0 5v1m0 8v1m0 10v1m0 11v1m0 8v1m0 25v1m0 17v1m0 3v1m0 1v1m0 1v1m0 9v1m0 13v1m0 17v1m0 2v1m0 3v1m0 13v1m0 5v1m0 11v1m0 29v2m0 9v1m0 7v1m0 21v1m0 2v1m0 34v1M85 16v1m0 4v1m0 17v2m0 10v1m0 8v1m0 9v1m0 2v1m0 22v1m0 58v2m0 17v1m0 12v1m0 25v1m0 27v1m0 33v1m0 3v1m0 13v1m0 4v1m0 21v1m0 13v1m0 3v1m0 4v1m0 9v1M86 15v1m0 1v1m0 3v1m0 7v1m0 12v2m0 9v1m0 12v1m0 1v1m0 1v1m0 17v1m0 57v1m0 9v1m0 7v1m0 17v1m0 10v1m0 11v1m0 24v1m0 5v3m0 18v1m0 2v1m0 8v1m0 14v1m0 1v1m0 40v1m0 58v2M87 11v1m0 20v1m0 15v1m0 3v1m0 4v1m0 8v2m0 29v1m0 59v1m0 13v1m0 23v1m0 14v1m0 14v1m0 2v1m0 13v1m0 13v2m0 15v1m0 6v1m0 15v1m0 9v1m0 24v1m0 1v1m0 1v1m0 34v1m0 3v1m0 4v1m0 9v1m0 2v1M88 26v2m0 4v2m0 4v1m0 5v1m0 6v1m0 16v2m0 9v1m0 1v1m0 23v1m0 5v1m0 1v1m0 3v1m0 3v2m0 10v1m0 3v1m0 4v1m0 7v1m0 32v1m0 3v1m0 6v1m0 27v1m0 14v1m0 2v1m0 4v1m0 15v1m0 2v1m0 1v1m0 3v1m0 10v1m0 7v1m0 27v2m0 2v1m0 1v1m0 3v1m0 7v1m0 3v1m0 5v3m0 5v1m0 3v1m0 3v1m0 4v1m0 7v1m0 3v1m0 1v1m0 23v1M89 18v1m0 7v1m0 5v1m0 5v2m0 9v1m0 1v1m0 17v1m0 2v1m0 10v2m0 9v1m0 7v1m0 1v2m0 6v1m0 9v1m0 37v1m0 1v1m0 13v1m0 30v2m0 3v1m0 15v1m0 20v2m0 3v1m0 9v1m0 1v1m0 10v1m0 23v1m0 1v2m0 9v1m0 2v1m0 2v1m0 8v1m0 24v1m0 12v1m0 2v1m0 8v1m0 7v1m0 1v1m0 4v1m0 2v1m0 3v1M90 36v1m0 2v1m0 2v1m0 36v1m0 23v1m0 28v1m0 3v1m0 5v1m0 1v1m0 8v2m0 4v1m0 10v1m0 5v1m0 25v1m0 4v1m0 3v1m0 9v1m0 35v1m0 6v1m0 56v1m0 33v1m0 8v2m0 37v1M91 23v1m0 15v1m0 9v2m0 2v1m0 3v1m0 20v1m0 5v1m0 2v1m0 2v2m0 6v1m0 12v1m0 20v1m0 6v1m0 4v1m0 1v2m0 2v2m0 3v1m0 1v1m0 11v2m0 6v1m0 13v1m0 7v2m0 1v2m0 11v1m0 3v1m0 12v1m0 8v2m0 55v1m0 16v1m0 1v2m0 6v1m0 4v1m0 14v1m0 38v1m0 16v1m0 1v1M92 20v1m0 5v1m0 6v1m0 12v2m0 7v1m0 1v1m0 16v1m0 10v2m0 12v1m0 5v2m0 3v1m0 13v1m0 7v1m0 12v1m0 25v1m0 4v1m0 21v1m0 32v1m0 3v1m0 27v1m0 10v1m0 4v1m0 3v1m0 42v1m0 16v1m0 13v4M93 15v1m0 4v1m0 2v1m0 3v1m0 18v1m0 14v1m0 5v1m0 1v1m0 4v1m0 5v1m0 3v1m0 4v1m0 7v1m0 3v1m0 3v1m0 1v1m0 10v1m0 1v2m0 16v1m0 5v1m0 20v1m0 15v1m0 11v1m0 19v1m0 9v1m0 14v3m0 17v1m0 2v1m0 11v3m0 3v2m0 3v1m0 6v1m0 5v1m0 2v1m0 17v1m0 9v1m0 7v1m0 10v1m0 17v2m0 21v1m0 15v1M94 11v1m0 5v1m0 1v1m0 7v1m0 1v2m0 19v1m0 1v1m0 1v1m0 30v1m0 21v1m0 2v1m0 9v2m0 18v2m0 14v1m0 8v1m0 2v1m0 12v1m0 3v1m0 3v1m0 18v1m0 16v2m0 16v1m0 13v1m0 21v1m0 4v2m0 45v1m0 4v1m0 13v2m0 7v1m0 14v1m0 15v1M95 16v1m0 10v1m0 18v1m0 9v1m0 7v1m0 8v1m0 2v2m0 8v3m0 2v1m0 5v2m0 17v2m0 6v2m0 1v2m0 7v1m0 24v1m0 4v1m0 9v1m0 1v1m0 17v1m0 6v1m0 3v1m0 1v3m0 3v1m0 9v1m0 15v2m0 5v1m0 20v1m0 27v3m0 21v1m0 7v2m0 1v1m0 4v2m0 6v1m0 1v1m0 8v2m0 9v1m0 10v1M96 42v1m0 1v1m0 22v1m0 36v1m0 16v1m0 22v1m0 6v1m0 4v1m0 28v1m0 6v1m0 12v1m0 21v1m0 7v1m0 3v1m0 38v3m0 2v1m0 49v1m0 20v1m0 12v2m0 4v1m0 3v1m0 13v1M97 24v1m0 1v1m0 6v3m0 1v1m0 32v1m0 24v2m0 2v1m0 5v1m0 32v1m0 5v1m0 11v1m0 5v1m0 3v1m0 43v1m0 7v1m0 33v1m0 7v1m0 7v1m0 23v1m0 6v1m0 4v2m0 22v2m0 12v1m0 13v1m0 19v1m0 5v1m0 10v2M98 14v2m0 16v3m0 11v1m0 23v1m0 10v2m0 14v1m0 1v1m0 44v1m0 3v1m0 34v2m0 88v1m0 37v1m0 24v1m0 63v2M99 21v1m0 22v1m0 93v1m0 107v1m0 59v1m0 28v1M100 36v2m0 14v1m0 1v1m0 26v1m0 3v1m0 5v1m0 4v1m0 5v1m0 42v1m0 25v1m0 1v1m0 47v4m0 19v1m0 8v1m0 7v1m0 3v1m0 3v1m0 5v1m0 28v1m0 8v1m0 39v1m0 17v1m0 5v1m0 20v1M101 33v1m0 16v1m0 1v1m0 8v2m0 3v1m0 13v1m0 72v1m0 31v2m0 7v1m0 26v1m0 25v1m0 4v1m0 24v1m0 23v1m0 12v1m0 55v1m0 21v1M102 25v1m0 3v1m0 10v1m0 24v1m0 8v1m0 10v1m0 14v2m0 13v1m0 1v1m0 8v1m0 12v1m0 3v1m0 17v1m0 3v1m0 15v1m0 7v2m0 11v1m0 8v1m0 2v1m0 8v1m0 15v1m0 39v1m0 30v2m0 11v1m0 5v1m0 25v1m0 19v1m0 5v1m0 22v1M103 22v1m0 1v1m0 1v1m0 5v1m0 1v2m0 1v1m0 15v1m0 5v1m0 1v1m0 4v1m0 4v1m0 15v1m0 8v1m0 10v1m0 2v1m0 9v1m0 3v2m0 6v2m0 15v1m0 3v1m0 6v1m0 15v1m0 17v2m0 5v1m0 4v1m0 4v1m0 4v1m0 2v1m0 30v1m0 11v1m0 2v2m0 3v2m0 14v1m0 3v1m0 1v1m0 14v1m0 52v1m0 8v1m0 4v1m0 2v1m0 8v1m0 6v1m0 2v1m0 1v1M104 30v1m0 16v1m0 7v1m0 9v1m0 17v2m0 12v1m0 12v1m0 2v1m0 2v2m0 8v1m0 21v1m0 35v1m0 12v1m0 9v1m0 16v1m0 20v1m0 20v1m0 9v1m0 9v1m0 14v1m0 10v1m0 2v1m0 19v1m0 3v1m0 11v2m0 47v1M105 19v1m0 4v2m0 18v1m0 19v1m0 17v1m0 3v1m0 11v1m0 16v1m0 3v1m0 1v1m0 85v1m0 1v1m0 6v1m0 13v1m0 41v1m0 30v1m0 47v1m0 3v1m0 47v1M106 11v3m0 28v1m0 9v1m0 2v1m0 2v1m0 8v1m0 2v1m0 3v1m0 6v2m0 3v1m0 16v1m0 16v1m0 4v1m0 16v1m0 1v1m0 6v1m0 15v1m0 18v1m0 11v1m0 2v1m0 12v1m0 4v1m0 6v1m0 32v1m0 41v1m0 27v1m0 5v1m0 2v1m0 2v1m0 12v2m0 3v1m0 18v1m0 2v1m0 16v1M108 28v1m0 24v1m0 9v1m0 35v1m0 9v1m0 3v1m0 4v1m0 2v1m0 2v1m0 1v1m0 6v1m0 16v1m0 5v1m0 1v2m0 6v1m0 2v1m0 14v2m0 1v1m0 3v1m0 22v1m0 30v2m0 21v1m0 5v1m0 2v1m0 12v1m0 33v2m0 51v1m0 25v1M110 37v1m0 17v1m0 1v1m0 1v2m0 9v1m0 19v1m0 5v1m0 11v2m0 7v1m0 3v1m0 2v1m0 10v1m0 8v1m0 1v1m0 4v1m0 6v1m0 8v1m0 17v2m0 7v1m0 4v1m0 13v1m0 10v2m0 3v2m0 2v1m0 13v1m0 12v1m0 7v1m0 1v1m0 26v1m0 10v1m0 19v1m0 45v1m0 24v1M112 31v2m0 14v1m0 15v1m0 35v1m0 14v1m0 23v1m0 53v1m0 34v1m0 8v1m0 33v1m0 41v2m0 5v1M114 20v1m0 8v1m0 24v1m0 3v1m0 10v1m0 23v1m0 12v1m0 27v2m0 40v1m0 7v1m0 99v1m0 15v1m0 29v1m0 50v1M116 18v2m0 28v2m0 4v1m0 22v1m0 1v1m0 25v1m0 3v1m0 3v1m0 6v1m0 13v2m0 51v1m0 14v1m0 1v1m0 19v1m0 2v1m0 1v1m0 6v1m0 11v1m0 4v1m0 3v1m0 13v2m0 24v2m0 11v1m0 27v1m0 3v2m0 3v1m0 37v1m0 10v1m0 5v1M118 69v1m0 15v1m0 1v1m0 12v1m0 34v1m0 4v1m0 29v1m0 3v1m0 3v1m0 2v1m0 10v1m0 2v2m0 9v1m0 1v1m0 22v1m0 8v1m0 3v1m0 24v2m0 8v1m0 1v1m0 52v1m0 19v1m0 33v1M120 26v1m0 5v1m0 9v1m0 3v1m0 59v1m0 4v2m0 3v1m0 27v1m0 16v1m0 32v1m0 10v1m0 37v1m0 3v1m0 55v1m0 36v1m0 12v1M125 23v1m0 5v1m0 7v2m0 4v1m0 23v1m0 9v2m0 6v1m0 7v1m0 9v1m0 8v1m0 11v1m0 5v1m0 17v2m0 6v1m0 10v1m0 34v1m0 4v1m0 11v1m0 4v1m0 51v1m0 5v1m0 4v1m0 1v1m0 58v1m0 30v1M130 22v2m0 8v1m0 6v2m0 15v1m0 7v1m0 16v1m0 3v1m0 5v1m0 59v1m0 31v2m0 6v1m0 27v1m0 14v1m0 6v1m0 12v1m0 40v1m0 11v1m0 8v1m0 3v1m0 16v2m0 13v2m0 23v1m0 3v1m0 7v1m0 8v1M135 28v1m0 26v1m0 11v1m0 87v1m0 8v1m0 23v1m0 11v1m0 8v2m0 25v1m0 44v1m0 58v1m0 46v1M140 56v2m0 6v1m0 42v1m0 10v1m0 2v2m0 14v1m0 22v1m0 39v1m0 2v1m0 36v1m0 8v1m0 10v2m0 20v1m0 21v1m0 13v1m0 5v1m0 8v1m0 7v1m0 48v1m0 8v1M145 16v2m0 7v1m0 2v1m0 9v1m0 4v1m0 48v2m0 22v2m0 2v1m0 67v1m0 8v1m0 104v1m0 3v1m0 10v1m0 1v1m0 46v2m0 10v1M150 297v1m0 7v1m0 36v1m0 12v1m0 6v1m0 12v1m0 16v1"/>
<path stroke="#472f7d" d="M0 16v1m0 1v3m0 4v1m0 33v1m0 2v1m0 6v2m0 5v1m0 7v1m0 5v1m0 42v1m0 9v1m0 5v1m0 1v1m0 10v1m0 45v1m0 10v1m0 10v1m0 2v2m0 10v1m0 13v2m0 24v1m0 77v1m0 6v1m0 15v3m0 11v1M1 25v1m0 1v1m0 3v1m0 22v1m0 35v1m0 10v1m0 7v1m0 22v1m0 2v2m0 8v1m0 29v1m0 10v1m0 32v1m0 17v1m0 14v1m0 6v3m0 22v1m0 4v1m0 1v1m0 21v1m0 57v1m0 7v1m0 14v1m0 2v1M2 1v1m0 7v1m0 3v2m0 10v1m0 22v1m0 13v1m0 9v1m0 58v1m0 1v1m0 12v1m0 5v1m0 13v1m0 19v1m0 20v1m0 27v2m0 5v1m0 75v2m0 37v1m0 5v1m0 13v1M3 42v1m0 2v2m0 71v1m0 39v1m0 86v1m0 67v1m0 44v1m0 35v1m0 6v1M4 29v1m0 25v1m0 42v1m0 4v1m0 13v1m0 25v1m0 20v1m0 8v1m0 14v1m0 12v1m0 28v1m0 3v1m0 18v1m0 26v1m0 51v1m0 3v1m0 10v1m0 54v1M5 29v1m0 2v1m0 1v1m0 9v1m0 43v1m0 7v1m0 11v1m0 194v1m0 27v1m0 15v1m0 8v1m0 40v1M6 22v1m0 26v2m0 6v1m0 12v1m0 20v1m0 12v1m0 27v1m0 70v1m0 27v1m0 2v1m0 13v1m0 6v1m0 63v1m0 13v1m0 22v1m0 31v1M7 16v2m0 12v1m0 3v1m0 9v1m0 1v1m0 5v1m0 6v1m0 4v1m0 5v1m0 5v1m0 3v1m0 5v2m0 24v3m0 6v1m0 2v1m0 1v1m0 2v1m0 7v1m0 3v1m0 9v2m0 3v1m0 2v3m0 5v1m0 6v2m0 6v1m0 11v1m0 7v1m0 6v1m0 15v1m0 35v1m0 17v2m0 6v1m0 29v1m0 18v1m0 1v2m0 11v1m0 38v1M8 13v1m0 4v1m0 8v1m0 5v1m0 21v1m0 10v1m0 1v1m0 2v1m0 4v1m0 48v1m0 3v1m0 12v1m0 38v1m0 2v1m0 9v1m0 21v1m0 9v1m0 1v1m0 1v1m0 31v1m0 46v2m0 29v1m0 21v1m0 13v1m0 4v1m0 4v2M9 87v1m0 57v1m0 1v1m0 46v1m0 38v1m0 26v1m0 6v1m0 16v1m0 17v1m0 17v1m0 4v2m0 49v1M10 17v1m0 52v1m0 25v1m0 46v2m0 18v1m0 1v1m0 20v1m0 6v1m0 38v1m0 23v1m0 9v1m0 15v1m0 9v1m0 16v1m0 10v1m0 14v1m0 4v1m0 19v1m0 13v1m0 21v1M11 15v4m0 19v1m0 3v1m0 28v1m0 1v1m0 8v1m0 5v1m0 4v2m0 15v1m0 12v1m0 25v1m0 7v1m0 36v2m0 13v1m0 7v1m0 9v1m0 4v1m0 45v1m0 1v1m0 1v1m0 27v1m0 12v1m0 20v1m0 22v1m0 31v1M12 15v1m0 23v1m0 2v1m0 3v2m0 5v1m0 3v3m0 22v1m0 20v2m0 45v1m0 24v1m0 1v2m0 5v1m0 4v2m0 6v1m0 30v1m0 14v1m0 24v1m0 9v1m0 36v1m0 9v1m0 30v1m0 19v1m0 2v1m0 2v1M13 113v1m0 4v2m0 25v1m0 100v1m0 34v1m0 52v1m0 49v1M14 13v2m0 3v1m0 13v1m0 13v1m0 2v1m0 53v1m0 45v1m0 36v1m0 8v1m0 28v1m0 70v1m0 2v1m0 16v1m0 39v1m0 25v2m0 10v1m0 4v1M15 14v1m0 1v1m0 16v1m0 17v1m0 15v1m0 47v1m0 5v1m0 6v1m0 15v1m0 34v1m0 27v1m0 22v1m0 1v1m0 7v1m0 3v1m0 46v1m0 4v1m0 2v1m0 3v1m0 29v1m0 9v1m0 7v1m0 2v1m0 30v1M16 13v1m0 6v1m0 1v1m0 2v1m0 20v1m0 82v1m0 7v1m0 2v1m0 7v1m0 13v2m0 12v1m0 34v1m0 24v1m0 13v1m0 8v1m0 38v1m0 14v1m0 1v1m0 68v1m0 4v1m0 11v1M17 32v1m0 3v3m0 17v1m0 1v1m0 1v1m0 27v1m0 53v1m0 1v1m0 121v1m0 3v1m0 3v1m0 36v1m0 15v1m0 12v1m0 8v1m0 26v1m0 5v1m0 2v1M18 52v1m0 8v1m0 1v1m0 161v1m0 7v1m0 2v1m0 3v1m0 14v1m0 62v1M19 117v1m0 29v1m0 43v1m0 10v1m0 25v1m0 68v1m0 28v1M20 46v1m0 26v1m0 131v1m0 97v2M21 93v1m0 73v1m0 35v1m0 28v1m0 26v1M22 13v2m0 2v1m0 8v1m0 119v1m0 12v2m0 2v1m0 5v1m0 54v1m0 48v1m0 48v1m0 57v1M23 12v1m0 1v1m0 8v2m0 4v2m0 24v1m0 30v1m0 36v1m0 1v1m0 3v1m0 29v2m0 10v1m0 6v2m0 15v1m0 52v1m0 10v1m0 1v2m0 6v1m0 25v1m0 16v1m0 12v1m0 39v1m0 11v1m0 6v1M24 44v1m0 6v1m0 20v1m0 10v2m0 6v1m0 11v1m0 10v1m0 25v1m0 5v1m0 2v1m0 17v1m0 25v1m0 3v1m0 5v1m0 10v1m0 5v1m0 41v1m0 33v1m0 9v1m0 1v2m0 1v1m0 3v1m0 5v1m0 19v1m0 2v1m0 11v1m0 2v1M25 12v1m0 5v1m0 17v1m0 20v1m0 13v1m0 8v1m0 9v1m0 62v1m0 4v1m0 40v1m0 10v1m0 107v1m0 40v2M26 16v1m0 51v1m0 84v1M27 23v1m0 14v1m0 24v1m0 25v1m0 5v1m0 123v1m0 86v1M28 53v1m0 17v1m0 20v1m0 53v1m0 5v1m0 19v1m0 71v1m0 70v1m0 18v1m0 13v1M29 15v2m0 8v1m0 6v1m0 14v1m0 6v1m0 6v1m0 3v1m0 1v1m0 6v1m0 24v1m0 10v1m0 10v1m0 22v1m0 2v1m0 9v1m0 12v1m0 43v1m0 3v1m0 5v1m0 45v1m0 23v1m0 6v1m0 29v1m0 10v1m0 8v1m0 10v1m0 2v2m0 12v1m0 14v1M30 16v1m0 4v1m0 5v1m0 195v1m0 150v1M31 12v2m0 23v1m0 47v2m0 187v1m0 23v1m0 10v1m0 7v1m0 8v1M32 14v1m0 13v1m0 12v1m0 358v1M33 16v2m0 5v1m0 2v1m0 21v1m0 70v1m0 133v1M34 19v1m0 8v1m0 3v1m0 5v1m0 5v1m0 2v2m0 2v1m0 15v1m0 4v1m0 15v1m0 16v1m0 4v1m0 5v1m0 19v1m0 4v1m0 5v1m0 40v1m0 8v1m0 19v2m0 12v1m0 8v1m0 1v1m0 74v1m0 44v1m0 36v2M35 16v1m0 14v1m0 7v1m0 72v1m0 8v1m0 1v1m0 32v1m0 54v1m0 148v1m0 9v1m0 18v1M36 17v2m0 19v1m0 19v1m0 8v1m0 11v1m0 21v1m0 53v1m0 1v2m0 56v1m0 4v1m0 12v1m0 6v2m0 6v1m0 9v1m0 24v1M37 16v1m0 2v2m0 10v1m0 3v2m0 3v2m0 3v1m0 4v1m0 11v1m0 20v1m0 19v2m0 8v1m0 1v1m0 16v1m0 2v1m0 9v1m0 2v1m0 15v1m0 6v1m0 51v1m0 36v3m0 11v1m0 21v1m0 12v1m0 5v1m0 6v1m0 3v1m0 8v1m0 11v1m0 9v2m0 15v1m0 6v1M38 19v1m0 11v1m0 13v1m0 57v1m0 34v1m0 17v1m0 40v1m0 14v1m0 29v1m0 19v1m0 21v1m0 42v1m0 26v1m0 16v1m0 5v1m0 20v1M39 24v1m0 24v1m0 35v1m0 103v1m0 24v1m0 25v1m0 52v1m0 10v1m0 17v2m0 7v1m0 3v1m0 23v1m0 39v1M40 15v1m0 2v1m0 5v1m0 2v1m0 32v1m0 3v1m0 69v1m0 19v1m0 4v1m0 12v1m0 19v1m0 2v1m0 12v1m0 26v1m0 10v1m0 73v1m0 30v1m0 30v1m0 19v1M41 14v1m0 133v1m0 16v1m0 9v1m0 3v1m0 49v1M42 25v1m0 58v1m0 6v1m0 8v1m0 114v1m0 133v1m0 8v1m0 11v1m0 20v1M43 20v1m0 27v1m0 3v1m0 44v1m0 46v1m0 19v1m0 36v1m0 1v1m0 10v1m0 30v2m0 10v1m0 43v1m0 4v1m0 30v1m0 5v1m0 9v1m0 18v2M44 20v2m0 3v1m0 3v1m0 25v2m0 2v1m0 34v1m0 1v1m0 13v1m0 23v1m0 14v1m0 4v1m0 40v1m0 15v1m0 9v2m0 6v1m0 8v1m0 13v2m0 9v1m0 5v2m0 2v1m0 12v1m0 3v1m0 11v1m0 1v1m0 2v1m0 19v1m0 20v1m0 15v1m0 5v1m0 1v1m0 2v1m0 2v1M45 28v2m0 31v1m0 16v1m0 95v1m0 82v1m0 134v1M46 17v1m0 34v1m0 4v1m0 25v1m0 35v1m0 45v1m0 5v1m0 25v1m0 6v1m0 6v1m0 19v1m0 50v1m0 100v1m0 20v1M47 15v1m0 7v1m0 37v1m0 39v1m0 24v1m0 12v1m0 20v1m0 28v1m0 23v1m0 23v1m0 54v1m0 15v1m0 7v1m0 2v1m0 53v1M48 15v1m0 8v1m0 5v1m0 4v1m0 23v1m0 17v1m0 3v1m0 6v1m0 49v1m0 38v1m0 30v1m0 50v1m0 5v1m0 74v1m0 31v1M49 11v1m0 2v1m0 49v1m0 3v1m0 22v1m0 18v2m0 8v3m0 9v1m0 4v1m0 12v1m0 12v1m0 22v1m0 14v1m0 8v1m0 13v1m0 18v1m0 17v1m0 1v2m0 15v1m0 8v1m0 2v1m0 15v1m0 7v1m0 1v1m0 15v1m0 2v1m0 25v1m0 2v1m0 3v1m0 4v1m0 5v1m0 12v3M50 19v1m0 10v1m0 14v1m0 16v3m0 20v2m0 10v1m0 1v1m0 2v2m0 11v1m0 7v1m0 22v1m0 11v1m0 24v1m0 7v1m0 65v1m0 5v1m0 6v2m0 15v3m0 2v1m0 8v1m0 2v1m0 3v1m0 4v1m0 4v1m0 28v1m0 12v1m0 14v1m0 3v1m0 18v1M51 26v1m0 8v1m0 1v1m0 79v1m0 91v1m0 53v1m0 9v1m0 38v1m0 32v1m0 43v1M52 74v1m0 34v1m0 2v1m0 11v1m0 36v1m0 63v1m0 7v1m0 35v1m0 111v1m0 11v1M53 17v1m0 1v2m0 10v1m0 13v1m0 4v2m0 36v1m0 19v2m0 7v1m0 23v1m0 47v2m0 7v1m0 5v1m0 6v1m0 27v1m0 22v1m0 14v1m0 12v1m0 80v1m0 15v1M54 14v2m0 7v1m0 6v1m0 1v1m0 30v1m0 28v2m0 39v1m0 27v1m0 12v2m0 5v1m0 9v1m0 45v1m0 10v1m0 10v1m0 16v1m0 45v1m0 9v1m0 24v1m0 8v2m0 28v1M55 24v2m0 60v1m0 5v1m0 9v1m0 38v1m0 6v1m0 6v1m0 18v1m0 13v1m0 1v1m0 39v1m0 7v2m0 3v1m0 3v1m0 27v1m0 16v1m0 39v1m0 8v1m0 18v1m0 14v2m0 12v1m0 1v1M56 19v1m0 3v1m0 7v1m0 11v1m0 8v1m0 31v1m0 6v1m0 16v1m0 3v1m0 10v1m0 1v1m0 30v3m0 79v1m0 10v1m0 7v1m0 17v1m0 38v1M57 16v1m0 11v1m0 3v1m0 1v1m0 5v1m0 10v1m0 3v1m0 3v2m0 8v1m0 11v1m0 2v1m0 9v1m0 1v1m0 11v2m0 29v1m0 7v1m0 30v1m0 3v1m0 17v1m0 5v1m0 6v1m0 4v2m0 12v1m0 12v1m0 4v1m0 55v1m0 2v1m0 10v1m0 50v1m0 4v1m0 1v2M58 11v1m0 23v1m0 12v1m0 20v1m0 1v1m0 9v1m0 30v1m0 2v1m0 20v1m0 22v1m0 47v1m0 21v1m0 28v1m0 3v1m0 27v2m0 17v1m0 1v2m0 9v1m0 5v1m0 26v1m0 10v1m0 7v1m0 21v1m0 3v2M59 19v1m0 1v1m0 82v1m0 42v2m0 27v1m0 47v1m0 58v1m0 37v1m0 8v1M60 21v1m0 43v1m0 6v1m0 6v1m0 2v1m0 11v1m0 9v1m0 62v1m0 18v1m0 29v1m0 7v1m0 5v1m0 60v1m0 61v1m0 2v1m0 18v1M61 272v1m0 44v2m0 24v1m0 9v1m0 19v1M62 29v1m0 46v1m0 5v1m0 39v1m0 30v1m0 5v1m0 23v1m0 47v1m0 41v1m0 1v1m0 73v2m0 51v1M63 24v1m0 31v1m0 5v1m0 11v1m0 162v1m0 16v1m0 148v1M64 20v1m0 59v1m0 59v1m0 59v1m0 16v1m0 53v1m0 60v1m0 41v1m0 11v1m0 6v1M65 45v1m0 39v1m0 7v1m0 73v1m0 5v1m0 45v1m0 79v1m0 10v1m0 14v1m0 13v2m0 33v1m0 5v1m0 13v1M66 16v1m0 6v1m0 29v1m0 17v1m0 19v1m0 11v1m0 17v1m0 15v1m0 7v1m0 3v1m0 11v1m0 12v1m0 7v1m0 2v1m0 2v1m0 26v1m0 18v1m0 7v1m0 1v1m0 4v1m0 6v1m0 6v1m0 46v1m0 13v1m0 3v1m0 48v1m0 19v1M67 27v1m0 17v1m0 2v1m0 6v1m0 4v1m0 26v1m0 6v1m0 1v2m0 25v1m0 19v1m0 48v1m0 5v1m0 9v2m0 8v1m0 26v1m0 18v1m0 2v1m0 14v1m0 48v1m0 14v1m0 28v1m0 17v1M68 20v1m0 48v1m0 11v1m0 84v1m0 71v2m0 18v1m0 19v1m0 109v1M69 17v1m0 18v1m0 14v1m0 128v2m0 36v1m0 16v1m0 24v1m0 23v1M70 21v1m0 7v1m0 76v1m0 22v1m0 28v2m0 9v1m0 21v1m0 17v1m0 3v1m0 32v2m0 34v1m0 7v1m0 6v1m0 27v1m0 2v1m0 12v1m0 4v1m0 16v1m0 7v1m0 15v1m0 3v1m0 4v1M71 119v1m0 197v1m0 3v1M72 22v1m0 87v1m0 29v1m0 11v1m0 118v1m0 111v1m0 14v1M73 11v1m0 6v1m0 7v1m0 2v1m0 11v1m0 29v1m0 21v1m0 42v1m0 1v1m0 24v1m0 41v1m0 3v1m0 17v1m0 14v1m0 15v1m0 1v1m0 14v1m0 16v1m0 13v1m0 38v1m0 31v1m0 13v1m0 4v1m0 6v2M74 36v1m0 16v1m0 14v3m0 5v2m0 1v1m0 8v1m0 24v1m0 4v1m0 3v1m0 15v1m0 17v1m0 7v1m0 1v1m0 30v1m0 4v1m0 31v1m0 7v1m0 40v1m0 26v1m0 1v2m0 28v1m0 14v1m0 8v1m0 2v1m0 10v1m0 3v1M75 17v1m0 11v1m0 11v1m0 60v1m0 63v1m0 2v1m0 18v1m0 13v1m0 19v1m0 9v1m0 8v1m0 12v1m0 49v1m0 5v2M76 24v1m0 5v1m0 8v1m0 11v1m0 2v1m0 9v1m0 15v1m0 54v1m0 21v1m0 47v1m0 2v1m0 1v2m0 38v1m0 11v1m0 11v3m0 24v1m0 29v1m0 1v1m0 41v1m0 14v1m0 1v2M77 23v1m0 22v3m0 107v1m0 31v1m0 17v1m0 44v1m0 33v1m0 26v1m0 22v1m0 68v1M78 19v1m0 7v1m0 10v1m0 7v1m0 3v1m0 1v2m0 7v1m0 5v1m0 17v1m0 2v1m0 5v1m0 13v1m0 58v1m0 21v1m0 5v1m0 3v1m0 2v1m0 26v1m0 36v1m0 8v1m0 10v1m0 47v1m0 50v1m0 6v1m0 7v1M79 17v1m0 4v1m0 4v1m0 3v1m0 6v2m0 21v2m0 3v1m0 28v2m0 2v1m0 1v1m0 12v1m0 13v1m0 1v1m0 9v1m0 6v1m0 3v1m0 20v1m0 7v2m0 8v1m0 19v1m0 7v1m0 33v1m0 12v1m0 1v1m0 1v1m0 16v1m0 5v1m0 14v1m0 35v1m0 2v1m0 10v1m0 11v1m0 24v1m0 2v2m0 2v1m0 2v1M80 39v1m0 8v1m0 41v1m0 12v1m0 7v1m0 1v1m0 40v1m0 17v1m0 52v1m0 3v1m0 48v1m0 22v1m0 1v1m0 86v1M81 11v1m0 39v1m0 60v2m0 49v1m0 27v1m0 173v1m0 9v1m0 16v1m0 6v1M82 51v1m0 31v1m0 5v1m0 33v1m0 13v1m0 20v1m0 45v1m0 17v2m0 3v1m0 20v1m0 20v1m0 8v1m0 46v1m0 53v1M83 11v1m0 16v1m0 1v1m0 31v1m0 35v1m0 8v1m0 59v1m0 72v1m0 75v2M84 24v3m0 4v1m0 31v1m0 51v1m0 17v1m0 7v1m0 35v1m0 4v1m0 88v1m0 14v1m0 17v1m0 22v1m0 17v1m0 23v1M85 31v1m0 4v1m0 37v1m0 75v1m0 32v1m0 59v1m0 95v1m0 2v1M86 27v1m0 4v2m0 1v1m0 47v1m0 37v1m0 3v1m0 5v1m0 13v1m0 27v1m0 28v1m0 68v1m0 27v1m0 14v2m0 39v1m0 6v1m0 12v1m0 13v1m0 14v1M87 16v1m0 20v1m0 23v1m0 11v1m0 82v1m0 70v1m0 44v1m0 32v1m0 37v1m0 7v2m0 31v1M88 18v1m0 6v1m0 3v1m0 17v1m0 35v1m0 8v1m0 1v1m0 7v1m0 9v1m0 6v1m0 21v1m0 7v1m0 2v2m0 39v1m0 2v1m0 19v1m0 21v1m0 13v1m0 6v2m0 6v1m0 4v1m0 43v1m0 11v2m0 8v1M89 30v1m0 2v1m0 1v1m0 23v1m0 38v1m0 9v2m0 16v1m0 2v1m0 14v1m0 16v1m0 15v2m0 8v1m0 10v1m0 12v1m0 5v1m0 14v1m0 12v1m0 39v1m0 14v1m0 91v2m0 10v1M90 59v1m0 18v1m0 23v1m0 20v1m0 9v1m0 40v1m0 24v1m0 14v1m0 5v1m0 155v1M91 11v1m0 13v1m0 4v1m0 30v1m0 15v1m0 3v1m0 25v1m0 19v2m0 5v2m0 7v1m0 10v1m0 37v1m0 14v1m0 22v1m0 38v1m0 30v1m0 1v1m0 19v1m0 34v1m0 17v1m0 6v1m0 5v1M92 42v1m0 19v1m0 88v1m0 3v1m0 13v1m0 3v1m0 35v1m0 29v1m0 110v1m0 29v1M93 0v1m0 18v1m0 1v1m0 29v1m0 2v2m0 10v1m0 8v1m0 3v1m0 31v1m0 2v2m0 9v1m0 44v1m0 13v1m0 12v2m0 31v1m0 2v1m0 8v1m0 66v1m0 17v1m0 7v1m0 25v1m0 19v1M94 14v1m0 3v1m0 18v1m0 20v1m0 1v2m0 11v1m0 22v1m0 107v2m0 31v1m0 6v1m0 16v1m0 5v1m0 13v1m0 33v1m0 14v1m0 1v1m0 16v1m0 6v1M95 29v1m0 1v1m0 15v2m0 84v1m0 5v1m0 1v2m0 2v1m0 25v1m0 3v1m0 18v1m0 19v1m0 45v2m0 3v1m0 26v1m0 13v2m0 20v1m0 10v1m0 3v1m0 4v1m0 1v1m0 48v2M96 226v1m0 151v1M97 15v1m0 36v1m0 9v1m0 64v1m0 33v1m0 7v1m0 3v1m0 11v1m0 107v1m0 64v1M98 0v1m0 10v1m0 8v1m0 79v1m0 48v1m0 52v1m0 66v1M99 23v1M100 103v1m0 215v2m0 78v1M101 152v1m0 24v1m0 49v1m0 14v1m0 5v1M102 20v1m0 13v1m0 1v1m0 47v1m0 18v2m0 89v1m0 6v1m0 10v1m0 12v2m0 31v1m0 14v1m0 50v1m0 7v1m0 2v1m0 20v1m0 25v1M103 19v2m0 7v1m0 7v1m0 11v2m0 13v1m0 4v1m0 1v1m0 3v1m0 17v2m0 3v1m0 8v1m0 11v2m0 6v2m0 16v2m0 8v1m0 9v1m0 8v1m0 22v1m0 6v1m0 1v1m0 9v1m0 10v2m0 7v1m0 11v1m0 1v1m0 7v3m0 1v1m0 21v1m0 20v1m0 32v1m0 8v1m0 8v1m0 3v1m0 10v1m0 1v2m0 2v1m0 11v1M104 24v1m0 6v1m0 1v1m0 46v1m0 97v1m0 17v1m0 47v1m0 7v1m0 42v1m0 27v1m0 8v1m0 7v1M105 18v1m0 30v1m0 107v2m0 127v1m0 8v1m0 53v2M106 37v1m0 7v1m0 1v1m0 9v1m0 7v1m0 3v1m0 6v1m0 12v1m0 79v1m0 80v2m0 40v1m0 41v1m0 47v1m0 7v1M108 39v1m0 90v1m0 10v2m0 4v1m0 7v1m0 4v1m0 22v1m0 5v1m0 6v1m0 1v1m0 2v1m0 1v1m0 2v1m0 17v1m0 14v1m0 35v1m0 2v1m0 37v1m0 3v1m0 38v1m0 4v1M110 50v1m0 20v1m0 43v1m0 3v1m0 32v1m0 6v1m0 2v1m0 8v1m0 8v1m0 1v3m0 29v1m0 11v1m0 18v2m0 7v1m0 22v1m0 122v1M112 25v1m0 59v1m0 41v1m0 163v1M114 47v1m0 276v1m0 4v1M116 22v1m0 13v2m0 154v2m0 20v1m0 4v1m0 11v1m0 42v1m0 71v1m0 8v1M118 19v2m0 26v1m0 132v1m0 10v1m0 1v1m0 20v1m0 7v1M120 123v1m0 25v1m0 63v1m0 32v1m0 156v1M125 34v1m0 16v1m0 109v1m0 44v1m0 77v1m0 15v1m0 13v1m0 13v1m0 72v2M130 45v1m0 4v1m0 184v1m0 27v1m0 70v1m0 24v1m0 11v1m0 12v1m0 5v1M135 282v1m0 42v1M140 35v1m0 105v1m0 42v1m0 38v1m0 162v1M145 36v1m0 3v1m0 15v1m0 145v2m0 118v1m0 65v1M150 128v1m0 20v1"/>
<path stroke="#443983" d="M0 24v1m0 12v1m0 53v1m0 20v1m0 129v1m0 140v1m0 6v1M1 208v1m0 9v1m0 14v2m0 122v1M2 24v1m0 142v1m0 3v1m0 40v1m0 30v1m0 18v1m0 12v1m0 86v1M3 14v1m0 104v1m0 148v1m0 5v1M4 13v1m0 43v1m0 184v1m0 103v1m0 24v1M5 28v1m0 6v1m0 309v1M6 23v1m0 160v1m0 90v1m0 126v1M7 26v2m0 21v1m0 8v1m0 15v1m0 15v1m0 16v1m0 2v2m0 24v1m0 3v1m0 187v1m0 36v1M8 17v1m0 7v1m0 6v1m0 23v1m0 2v1m0 2v1m0 9v1m0 29v1m0 94v1M9 225v1M10 10v1m0 16v3m0 19v1m0 96v1m0 45v1m0 30v1m0 59v1m0 26v1m0 6v1m0 55v1M11 40v1m0 68v1m0 137v1m0 19v1m0 50v1m0 46v1m0 19v2m0 15v1M12 14v1m0 30v1m0 5v2m0 8v1m0 9v1m0 104v1m0 6v1m0 52v1m0 55v1m0 69v1m0 21v1m0 4v1M13 400v1M14 10v1m0 33v1m0 3v1m0 3v2m0 1v1m0 5v1m0 40v1m0 34v1m0 138v1m0 9v1M15 11v1m0 50v1m0 40v1m0 27v1m0 22v1m0 60v1m0 39v1m0 11v1m0 34v1m0 65v1m0 21v1M16 119v1m0 7v2m0 4v1m0 7v1m0 1v1m0 45v2m0 115v1M17 46v2m0 2v2m0 1v1m0 5v1m0 6v1m0 71v1m0 1v1m0 139v1m0 2v1m0 7v1m0 41v1m0 2v1m0 14v1m0 2v1m0 3v1m0 12v1m0 11v1M18 59v1m0 10v1m0 161v1m0 5v1m0 4v1m0 3v1m0 3v1M19 10v1m0 317v1M20 13v1m0 158v1M21 19v1m0 67v1m0 78v1m0 124v1M22 84v1m0 83v1m0 3v1M23 42v1m0 111v1m0 7v1m0 2v2m0 9v1m0 53v2m0 32v1m0 46v1m0 81v1M24 18v1m0 74v1m0 19v1m0 1v1m0 73v2m0 3v1m0 77v1m0 4v2m0 3v1m0 1v1m0 22v1m0 2v1m0 27v1M25 136v1m0 69v1m0 4v1m0 42v1m0 66v1m0 3v1m0 7v1m0 1v1M26 252v1M27 11v2m0 2v1m0 1v1m0 158v1m0 48v1M28 40v1m0 179v1m0 97v1m0 23v1M29 11v1m0 2v1m0 26v1m0 1v1m0 7v2m0 296v1m0 8v3m0 9v2m0 5v1m0 2v1m0 7v1M30 11v1m0 8v1m0 115v1M31 10v2m0 53v1m0 129v1m0 80v1m0 87v1M32 56v1m0 119v1m0 161v1m0 55v1M33 302v1M34 15v1m0 17v1m0 70v1m0 84v1m0 56v1m0 28v1m0 116v1M35 15v1m0 177v1m0 30v1m0 146v1M36 12v2m0 7v1m0 148v1m0 18v1m0 19v1m0 40v1m0 84v1M37 12v1m0 4v1m0 4v1m0 11v1m0 112v1m0 40v1m0 9v1m0 26v1m0 1v1m0 3v1m0 2v1m0 1v1m0 58v1m0 1v2m0 22v1m0 45v1m0 1v1m0 18v1M38 81v1m0 25v1m0 3v1m0 3v1m0 1v1m0 1v1m0 45v1m0 5v1m0 111v1M39 16v1m0 312v1m0 62v1M40 17v1m0 79v1m0 50v1m0 2v1m0 238v1M41 17v1m0 1v1m0 3v1m0 4v1m0 1v1m0 2v1m0 3v1m0 2v1m0 3v1m0 6v2M42 150v1m0 188v2m0 13v1m0 1v1m0 2v2M43 11v1m0 44v1m0 250v1m0 39v1M44 19v1m0 41v1m0 17v2m0 17v1m0 3v2m0 19v1m0 19v1m0 4v1m0 9v2m0 3v1m0 5v1m0 66v1m0 17v1m0 58v1m0 7v1M45 95v1m0 131v1m0 11v1m0 148v1M46 20v2m0 93v1m0 54v1m0 32v1m0 25v1m0 17v1m0 62v1m0 75v1m0 15v1M47 87v1m0 30v1m0 6v1m0 6v1m0 3v1m0 15v1m0 72v1m0 69v1m0 3v1m0 14v1m0 24v1m0 16v2m0 2v1m0 13v1m0 17v1M48 20v1m0 52v1m0 8v1m0 30v1m0 62v1m0 202v1M49 33v2m0 2v2m0 56v1m0 27v1m0 3v1m0 10v1m0 63v2m0 43v1m0 10v1m0 3v1m0 18v2m0 50v1m0 4v1m0 2v1m0 62v1M50 20v1m0 10v1m0 26v1m0 12v1m0 46v1m0 3v1m0 189v1m0 8v1m0 26v1m0 4v1m0 35v2m0 8v1M51 11v1m0 4v1m0 190v1m0 161v1M52 11v1m0 8v1m0 90v1m0 4v1M53 27v1m0 33v1m0 1v1m0 2v1m0 64v1m0 34v1m0 71v1m0 12v2m0 10v1m0 99v1m0 21v1M54 38v1m0 29v1m0 65v1m0 5v1m0 39v1m0 9v1m0 80v1m0 24v1M55 13v1m0 4v1m0 58v1m0 29v1m0 34v1m0 93v1M56 29v1m0 21v1m0 82v1m0 43v1m0 8v1m0 204v1m0 2v1m0 5v1M57 25v1m0 3v1m0 112v2m0 4v1m0 54v1m0 25v1m0 34v1m0 17v1m0 108v1M58 24v1m0 19v1m0 1v1m0 2v1m0 4v1m0 25v1m0 26v1m0 15v2m0 27v1m0 13v1m0 27v1m0 1v1m0 3v1m0 7v1m0 12v1m0 10v1m0 64v1m0 35v1m0 20v1m0 10v1m0 6v1m0 8v1m0 2v1m0 12v1M59 16v1m0 160v1m0 66v1m0 92v1M60 39v1m0 10v1m0 59v1m0 79v1m0 5v1m0 64v1m0 53v1M61 16v1m0 172v1m0 95v1m0 88v1M62 39v1M63 15v2m0 35v1m0 8v1m0 1v1m0 1v1m0 3v1m0 100v2m0 2v2M64 154v1m0 56v1M65 16v2m0 266v1M66 148v1m0 11v1m0 4v1m0 61v1m0 10v1m0 42v1m0 9v1m0 1v1m0 98v1M67 29v1m0 8v1m0 1v1m0 15v1m0 4v1m0 26v1m0 82v1m0 4v1m0 29v1m0 6v1m0 19v1m0 3v1m0 16v1M68 353v1m0 18v1M69 49v1M70 19v1m0 26v1m0 107v1m0 16v1m0 42v1m0 85v1m0 39v1m0 6v1m0 52v1M71 145v1m0 57v1m0 108v1m0 6v1M72 11v1m0 5v3m0 93v1m0 2v1m0 5v2m0 3v1m0 10v1m0 12v1m0 157v1m0 89v1M73 17v1m0 70v1m0 5v1m0 80v1m0 194v1m0 13v1M74 19v1m0 4v1m0 48v1m0 45v1m0 59v2m0 45v1m0 14v1m0 53v1m0 3v2m0 1v1m0 12v1m0 52v1m0 28v1M75 16v1m0 107v1m0 21v1m0 14v1m0 158v1m0 8v1M76 0v1m0 118v1m0 1v1m0 47v1m0 39v1m0 21v1m0 19v1M77 17v1m0 6v1M78 143v1m0 26v1m0 61v1m0 150v1m0 17v1M79 63v1m0 23v1m0 43v1m0 41v2m0 8v1m0 61v1m0 63v1M80 19v1m0 85v1m0 32v1m0 137v1m0 54v1M81 17v1m0 14v1m0 123v1m0 75v1M82 11v1m0 13v1m0 30v1m0 51v1m0 27v1m0 53v1m0 49v1M83 100v1m0 48v1m0 34v1M84 47v1m0 68v1m0 15v1m0 229v1M85 72v1m0 13v1m0 145v1M86 13v1m0 139v1m0 172v1m0 27v1m0 9v1M87 72v1m0 124v1m0 45v1m0 81v1M88 17v1m0 31v1m0 35v1m0 43v2m0 66v1m0 23v1m0 29v1m0 97v1M89 50v1m0 34v2m0 34v1m0 3v1m0 15v1m0 53v1m0 1v1m0 118v1m0 5v2m0 48v1m0 27v1M90 16v1m0 45v1m0 13v2m0 270v1m0 41v1M91 15v2m0 12v1m0 67v1m0 133v1m0 2v1m0 4v1m0 3v1m0 12v1m0 109v1m0 9v1M92 168v1m0 20v1m0 108v1M93 39v1m0 8v1m0 29v1m0 21v1m0 25v1m0 31v1m0 58v1m0 13v1m0 64v1M94 15v1m0 5v1m0 1v1m0 131v1m0 38v1m0 45v1m0 53v1m0 14v1m0 65v1M95 74v1m0 65v1m0 54v1m0 43v1m0 69v1m0 5v1m0 25v1m0 4v1m0 16v1m0 39v1M96 11v1M98 47v1m0 50v1M100 17v1m0 6v1m0 33v2M101 0v1m0 377v2M102 193v1M103 21v1m0 3v1m0 31v1m0 18v1m0 21v1m0 24v1m0 5v1m0 13v1m0 46v1m0 13v1m0 5v1m0 23v1m0 9v1m0 72v1m0 4v1m0 1v1m0 43v1m0 15v2M104 10v1m0 4v1m0 249v1m0 45v1M105 16v2m0 67v1m0 80v1M106 44v1m0 5v1m0 8v3m0 21v1m0 59v1m0 18v1m0 97v1m0 39v1m0 67v1M108 93v1m0 13v1m0 3v1m0 7v2m0 6v2m0 2v1m0 3v1m0 2v1m0 13v3m0 7v1m0 10v1m0 12v1M110 107v1m0 3v1m0 2v1m0 22v1m0 10v1m0 4v1m0 14v1M116 308v2m0 17v1m0 16v1M118 121v1m0 12v1m0 125v1M125 160v1M130 26v2m0 120v1m0 41v1m0 13v1M135 270v1M145 97v1m0 42v1m0 6v1m0 3v1m0 15v1m0 123v1m0 1v1m0 1v2"/>
<path stroke="#414487" d="M1 207v1M2 95v1m0 117v2M3 1v1M4 1v1M6 12v1m0 35v1m0 136v2M7 11v1m0 2v1m0 18v1m0 72v1m0 79v1m0 1v1m0 82v1m0 63v1m0 28v1M8 12v1m0 51v1m0 75v1m0 2v1m0 2v1m0 159v1M9 19v1m0 109v1m0 187v1M10 109v1m0 81v1m0 2v1m0 10v2m0 1v1m0 13v1m0 93v1M11 177v1m0 3v1m0 1v2m0 23v1m0 75v1m0 15v1M12 20v1m0 33v1m0 339v1m0 1v1m0 1v1m0 2v1M13 10v1m0 92v1M14 243v1m0 53v1m0 78v1M15 156v1m0 188v1m0 21v1M16 132v1m0 2v1m0 232v1M17 9v1m0 35v1m0 18v1m0 2v1m0 203v1m0 46v1m0 7v1m0 17v1m0 1v2M18 57v1m0 10v1m0 6v1m0 151v2M19 94v1m0 1v1m0 168v1m0 11v1m0 14v1m0 1v1M20 83v1m0 1v1m0 10v1M21 16v1m0 68v2m0 228v1M22 31v2m0 2v4m0 1v1m0 1v3m0 53v6m0 47v1M23 167v2m0 63v2m0 89v1m0 3v1M24 15v1m0 159v1m0 9v1m0 88v1m0 1v1m0 59v2M25 48v1m0 125v1m0 145v1m0 3v1m0 5v1m0 3v1m0 1v2M26 215v2M27 10v1M28 12v1m0 2v1m0 99v4M29 26v1m0 2v1m0 14v1m0 75v1m0 247v1M30 0v1m0 25v1m0 53v1M31 61v3m0 4v2M32 191v2M34 106v1m0 158v1m0 131v1M35 14v1m0 122v1M36 174v1m0 74v1m0 147v1M37 14v1m0 46v1m0 79v1m0 47v1m0 11v3m0 1v2m0 3v2m0 1v2m0 1v1m0 1v1m0 1v1m0 5v1m0 2v1m0 2v1m0 2v1m0 1v2m0 71v1m0 79v1m0 1v1m0 1v7m0 1v3M38 14v1m0 94v2m0 1v1m0 1v1m0 52v1M39 15v1m0 312v1M40 0v1m0 260v1m0 104v1M41 16v1m0 3v3m0 2v3m0 1v1m0 2v1m0 2v2m0 1v1m0 2v1m0 3v1m0 3v2m0 3v1M42 345v1m0 2v1M43 136v1m0 166v1M44 87v1m0 147v1m0 45v1m0 95v1m0 14v1M45 14v1m0 181v1m0 29v1M46 14v1m0 148v1m0 54v1m0 11v1M47 14v1m0 84v1m0 259v1m0 15v3M48 84v1m0 103v1M49 16v1m0 192v1m0 93v1m0 53v1M50 10v1m0 167v1m0 51v1m0 13v1m0 33v1M51 17v1M53 11v1m0 3v1m0 2v1m0 52v1m0 115v1m0 97v1M54 16v1M55 139v1m0 6v1m0 88v1m0 12v1M56 10v1m0 5v1m0 1v1M57 13v1m0 12v1m0 256v1M58 16v1m0 79v1m0 42v3m0 4v1m0 8v3m0 35v1m0 50v1m0 27v1m0 67v1m0 15v1m0 20v1m0 10v3M60 14v2m0 244v1M61 0v1m0 14v1M62 11v1m0 3v1M63 59v1m0 8v1m0 3v1m0 11v1m0 88v1m0 16v3m0 1v1m0 207v1M64 11v1M66 11v1m0 3v1m0 223v1m0 129v1M67 15v1m0 49v1m0 29v1m0 74v1m0 31v1m0 1v2m0 9v2m0 5v1m0 2v1m0 6v1m0 1v2m0 14v3m0 4v1m0 1v1m0 35v1M69 16v1M70 13v1m0 1v1M71 41v1m0 266v1m0 2v1m0 17v1m0 7v1m0 1v2m0 1v1M72 96v2m0 1v3m0 3v2m0 12v1m0 4v3m0 1v1m0 2v2m0 1v1m0 1v1m0 13v1M73 28v1m0 57v1m0 8v1m0 2v1M74 16v1m0 148v1m0 236v1M75 255v1m0 11v2m0 1v1M76 19v1M78 16v1m0 1v1m0 41v1m0 326v1m0 1v1m0 6v1m0 6v1M79 164v1m0 6v1m0 66v1M80 29v1m0 333v1M82 274v1M83 221v1m0 63v1M84 0v1m0 13v1M86 10v2M87 60v1M88 15v2m0 26v1m0 4v1m0 102v1m0 136v1M89 15v1M90 347v1M91 156v1m0 129v1M93 38v1m0 8v1m0 56v1m0 91v1M94 324v1M95 388v1M96 0v1m0 14v1M97 167v1M99 18v1M103 39v1m0 29v1m0 89v1m0 129v1m0 16v1m0 97v1M104 333v1M106 64v1m0 8v1m0 4v1m0 1v1m0 7v1m0 74v1M108 137v1m0 27v1m0 1v1m0 3v1m0 4v1m0 16v2m0 124v1M110 0v1m0 119v1m0 29v1m0 4v1m0 35v1M112 15v1M116 14v1m0 386v1M120 27v1M125 25v1M145 15v1m0 126v3m0 1v1m0 3v1m0 1v4m0 8v1m0 1v1m0 1v3m0 1v1m0 113v3m0 1v1m0 1v1"/>
<path stroke="#3d4d8a" d="M1 1v1M2 2v1M6 10v1m0 172v1m0 4v1M7 75v1m0 5v1m0 105v1m0 1v1m0 66v4m0 26v1M8 15v1m0 53v1m0 71v1m0 2v2m0 39v4M9 16v1m0 210v1M10 14v1m0 175v1m0 4v2M11 174v1m0 1v1m0 1v3m0 1v1m0 116v1m0 1v1M12 50v1m0 336v1m0 5v1m0 3v1m0 1v1m0 4v1M13 101v2m0 229v1M14 242v1M15 12v1m0 156v1m0 1v2m0 95v1M16 142v1m0 24v2m0 196v2M17 28v1m0 10v1m0 97v1m0 140v1m0 43v1M18 18v1m0 5v1m0 23v1m0 23v1m0 171v1m0 4v1m0 78v1M19 75v1m0 16v2m0 1v1m0 182v1m0 14v1M21 84v1M22 12v1m0 21v1m0 4v1m0 1v1m0 112v1M23 151v1m0 4v1m0 1v1m0 75v1M24 174v1m0 11v1m0 93v1m0 53v1m0 47v2M25 175v1m0 141v1m0 1v1m0 6v1M26 214v1m0 2v2m0 31v2M27 140v2M28 125v3m0 1v1M29 42v1m0 26v1m0 113v1m0 91v1m0 74v1m0 10v1m0 7v1M30 74v3m0 4v1M31 0v1m0 63v1m0 1v2m0 2v2M32 190v1M33 12v1m0 197v1m0 1v1M34 190v2M36 225v1m0 10v1m0 6v1M37 200v1m0 3v1m0 2v3m0 2v1m0 2v1m0 3v1m0 1v2m0 1v1m0 5v1m0 2v1m0 5v1m0 1v1m0 142v4m0 1v1m0 1v1m0 1v1m0 7v1M38 108v1m0 4v1m0 2v1m0 1v1m0 1v1m0 45v1M39 14v1M40 252v1m0 1v1M41 18v1m0 5v1m0 6v1m0 2v1m0 4v1m0 2v2m0 2v3m0 4v1M42 15v2M43 16v1M44 86v1m0 120v2M45 10v1m0 4v1m0 212v1m0 1v1M46 15v1M47 100v1m0 261v2M49 15v1m0 157v1m0 23v1m0 142v1M50 14v1M51 253v3M52 15v1m0 214v1m0 101v3M53 288v1m0 4v1M55 14v2m0 127v1m0 97v1m0 2v1m0 108v1M56 15v1m0 309v1M57 14v1m0 324v1M58 145v1m0 4v2m0 169v1m0 5v1m0 43v1m0 1v1m0 8v2M59 15v1M61 13v1M63 55v1m0 116v1m0 3v1m0 16v1m0 206v1M64 16v1M65 15v1M67 14v1m0 142v3m0 8v1m0 43v1m0 1v1m0 8v2m0 6v1m0 4v1m0 21v1m0 1v1m0 1v1m0 33v3M71 42v2m0 269v2m0 8v1m0 1v4m0 1v1m0 1v1m0 1v3m0 1v1m0 2v1m0 3v1m0 1v1m0 9v1M72 16v1m0 81v1m0 3v3m0 2v1m0 13v1m0 7v2m0 2v1m0 3v1m0 4v1M73 92v1M74 17v2M75 18v1m0 9v1m0 11v1m0 82v1m0 129v1m0 12v1M76 16v1m0 1v1M77 16v1m0 1v1M78 15v1m0 1v1m0 19v1m0 355v1m0 3v1m0 4v1M80 16v1M81 19v1M82 17v1M83 16v1m0 1v1m0 2v1M85 15v1M95 362v1M97 357v1M100 18v1M101 17v1M102 15v3M103 56v1M104 14v1M106 49v1m0 1v1m0 1v2m0 7v2m0 2v1m0 5v1M108 117v1m0 16v1m0 29v1m0 32v1M110 113v1m0 73v1M118 13v1M125 24v1M145 141v1m0 3v1m0 2v2m0 6v1m0 8v1m0 5v1m0 1v2m0 114v1m0 4v1M150 11v1"/>
<path stroke="#39568c" d="M2 8v1M5 1v1M6 11v1m0 161v1M7 185v1m0 47v2m0 1v2m0 17v1M8 189v1M9 226v1M11 175v1m0 109v1m0 11v2m0 3v1M12 40v1m0 2v2m0 347v1m0 2v1m0 6v1M13 11v1M14 250v1M15 166v1m0 1v1m0 1v1m0 157v1M16 136v1m0 230v1M17 26v1m0 2v1m0 32v1m0 303v1m0 11v1M18 17v1m0 1v4m0 2v1m0 48v1m0 162v1m0 7v1m0 81v1M19 12v1m0 1v1m0 61v2m0 201v1M20 82v1m0 14v2M21 88v1M23 150v1m0 21v2M24 384v1M27 139v1M28 128v1M29 64v1m0 119v1M30 79v1m0 7v1M32 63v1M33 14v1m0 196v1M34 14v1M36 15v1M37 15v1m0 201v1m0 10v1m0 11v1M38 86v2m0 76v1m0 3v1M40 253v1m0 1v3M42 14v1M43 12v1m0 2v1m0 191v2M45 201v1m0 27v1M46 216v2M47 217v1M50 15v1M51 14v1M52 231v1m0 99v1M53 14v1M56 14v1m0 307v1M58 378v1M67 156v1m0 3v1m0 5v2m0 35v1m0 45v1m0 11v1M68 257v1M70 14v1M71 28v1m0 11v1m0 274v1m0 6v1m0 1v1m0 8v1m0 9v1m0 4v1m0 4v1m0 5v1m0 25v1M72 15v1m0 101v1m0 17v1m0 11v1M73 16v1m0 70v1M75 262v1m0 6v1M76 17v1M78 394v2M79 16v1M80 17v2M82 16v1m0 1v1M83 15v1m0 3v2M86 14v1M89 14v1M90 10v1m0 4v1M97 14v1M99 16v1M100 16v1M102 18v1M103 15v4M104 13v1M105 14v2M106 15v1m0 68v1M108 122v1M110 174v1M112 14v1M114 14v1M118 12v1M120 14v1M125 15v2M135 18v1M145 11v1m0 1v2M150 15v1"/>
<path stroke="#355f8d" d="M0 1v1M6 174v1m0 12v1M7 232v1m0 2v1M8 0v1M9 181v1m0 46v1M10 12v1M12 11v1m0 388v1m0 2v1M13 331v1M14 244v3m0 8v1M15 13v1m0 153v1m0 155v1m0 2v2M16 11v1m0 314v1m0 47v2M17 65v1M18 16v1m0 33v1M19 78v1M20 84v1M21 13v1M22 33v1m0 136v1M26 210v2M27 13v2M28 183v1M30 12v1M32 67v2M33 190v1M35 54v2M36 11v1m0 2v1M37 11v1m0 1v1M40 14v1M44 14v1m0 187v1M47 216v1m0 1v1M48 14v1M52 14v1M56 13v1m0 305v1m0 1v1m0 5v1M58 14v1M59 116v1m0 2v1m0 2v1M61 14v1M64 14v1M69 14v1M71 27v1m0 1v2m0 300v1m0 12v1m0 1v1m0 2v3m0 3v2m0 1v1m0 1v2m0 1v1m0 6v1m0 1v1m0 3v1m0 1v1m0 1v1m0 1v1m0 3v1m0 4v2m0 4v1M72 115v1M75 15v1M76 15v1M78 388v1M83 17v1M85 14v1M88 14v1M91 14v1M101 16v1M106 14v1m0 56v1M108 0v1M130 19v1M140 15v1M150 14v1"/>
<path stroke="#31688e" d="M8 128v1M9 11v1m0 1v1m0 168v1M10 0v1M11 11v1M13 172v1M14 169v2m0 12v1m0 63v1m0 1v1m0 3v1m0 2v1m0 75v1M15 322v1m0 1v1m0 4v2M16 130v1m0 196v1M17 41v1M18 23v1m0 202v1M19 327v1M20 12v1m0 81v1M21 11v1m0 5v1M23 163v1M24 392v1M25 339v1M28 11v1M30 85v2m0 1v1m0 3v1M32 61v2m0 1v2M35 49v1m0 6v1M38 12v1m0 75v1M44 201v1M45 202v1m0 8v1M47 215v1M48 225v2M53 283v1M56 318v1m0 7v1M57 397v2M59 115v1m0 4v2M65 14v1M71 25v1m0 326v1m0 1v1m0 7v1m0 3v3m0 2v1m0 1v1m0 3v1m0 3v1m0 2v1m0 2v1m0 1v2m0 2v3m0 2v1M73 15v1M78 398v1M79 15v1M81 16v1M83 14v1M92 14v1M95 12v1M99 15v1m0 1v1M100 15v1M101 15v1M106 41v1M114 13v1M116 13v1M118 10v2M150 0v1"/>
<path stroke="#2d708e" d="M5 124v1M6 13v1M7 238v1M8 127v1M9 14v2m0 1v2m0 164v1M10 197v1m0 1v1m0 4v1m0 2v1M13 91v2m0 78v1m0 1v1M14 11v2m0 158v1m0 1v1m0 6v1m0 67v1m0 3v1m0 78v1M15 325v1M16 12v1M20 0v1M21 15v1m0 2v1m0 47v1m0 7v1m0 8v1M22 11v1M24 395v1M25 13v1m0 309v1m0 7v2m0 5v1M30 93v1M32 0v1m0 65v1M33 189v1M34 11v1M35 11v1m0 183v1M40 258v3M43 13v1m0 191v2M46 308v1M47 0v1M48 12v1M49 0v1M50 13v1m0 220v1M51 242v2m0 1v2M52 13v1M53 284v1m0 17v2M56 11v1m0 308v1M57 402v1m0 1v1M59 114v1M62 0v1M63 0v1M71 26v1m0 337v2m0 13v1m0 8v1m0 10v1M73 0v1M74 15v1M81 0v1M82 15v1M87 13v1M90 13v1M91 0v1M93 13v1M94 13v1M99 11v1M100 11v1M103 11v1M105 13v1M118 9v1M120 13v1M125 14v1M135 17v1M140 14v1"/>
<path stroke="#2a788e" d="M6 180v1M7 253v2M8 11v1m0 114v1m0 50v1m0 14v2M10 198v1m0 10v1M11 10v1m0 1v2M12 12v1M13 93v1M14 0v1m0 173v1m0 6v1M15 0v1m0 304v2m0 10v1M16 0v1M17 0v1M18 13v1M19 168v1M21 67v1m0 11v1M23 11v1M24 391v1M25 322v1M26 12v1M28 13v1m0 165v1m0 2v1M29 10v1m0 1v1M30 77v2m0 108v2M33 13v1M35 50v1m0 143v1M36 0v1M38 170v1M39 13v1M40 251v1M44 11v1M45 0v1m0 12v1m0 198v1M46 309v1M47 11v1m0 1v1M48 11v1M54 13v1M57 395v1m0 4v1m0 2v1M59 13v1M60 12v1M62 13v1M63 12v1M64 13v1M65 13v1M66 0v1M69 11v1M71 369v1m0 4v2m0 7v1m0 12v1M72 0v1M75 14v1M76 14v1M77 15v1M81 15v1M86 0v1M95 13v1M97 11v1m0 1v1M98 13v1M99 14v1M100 0v1m0 13v1M102 0v1M104 11v1M105 11v1M116 0v1m0 10v2M145 0v1M150 1v1"/>
<path stroke="#27808e" d="M6 0v1m0 175v1m0 2v1M7 1v1m0 8v1m0 1v2M10 211v2M12 0v1m0 167v1M13 0v1m0 12v1m0 74v2m0 4v1M14 172v1M15 308v1m0 3v1m0 6v1m0 1v1M16 372v2M18 11v1M19 81v2m0 6v1m0 77v1M20 95v1M21 14v1m0 43v1m0 2v1m0 6v1m0 13v1M22 0v1M24 11v2m0 372v2m0 6v2M25 171v1M26 10v1m0 209v1M28 181v1M31 181v1M34 0v1M35 10v1M36 10v1M38 11v1M39 11v1M40 250v1M47 220v2M48 0v1m0 12v1m0 208v1M50 11v1m0 223v2M51 244v1m0 4v1M53 13v1M57 11v1m0 384v1M58 13v1M59 11v1M60 0v1M64 0v1M66 13v1M67 11v1M68 0v1m0 12v1M71 23v2M74 11v1M76 11v1M80 11v1m0 3v1M83 13v1M84 13v1M87 0v1M88 0v1m0 10v1M89 0v1M92 13v1M95 10v1M96 13v1M100 13v1M102 11v1m0 1v2M108 1v1M110 1v1M112 13v1M118 0v1M130 15v4M135 16v1M140 0v1m0 9v1m0 1v2M145 10v1"/>
<path stroke="#23888e" d="M1 2v1m0 5v1M6 177v2m0 2v1M7 252v1M8 1v1m0 189v1M9 12v1M10 202v2m0 6v1M11 1v1m0 291v2M12 169v1M13 95v2M15 307v1m0 1v1m0 1v1m0 3v1M19 0v1m0 10v1m0 68v1m0 7v1m0 1v2m0 74v1M20 88v1M21 10v1m0 44v1m0 6v1M25 11v1m0 160v1M26 11v1M28 180v1M30 186v1M31 182v1M32 12v1m0 56v1M33 10v1M39 0v1M41 13v1M42 13v1M44 13v1M45 11v1M46 0v1M48 10v1m0 212v1M49 13v1M50 237v1M51 0v1m0 12v1m0 236v3M57 10v1M58 0v1M59 1v1M60 10v2m0 1v1M61 11v1M63 11v1M64 1v1m0 8v1M65 10v1M67 13v1M68 10v1M69 0v1m0 9v1m0 2v1M71 11v1m0 3v1m0 3v1m0 1v2M74 14v1M75 11v1M77 0v1m0 13v1M80 14v1M81 14v1M87 10v1M89 10v1m0 2v1M91 10v1m0 2v1M93 11v1M97 10v1M103 13v2M112 12v1M114 12v1M116 1v1m0 8v1M125 11v1M130 11v1M135 15v1M140 9v1m0 1v1M145 1v1m0 10v1M150 10v1m0 1v2"/>
<path stroke="#21918c" d="M8 10v1M9 0v1m0 175v1M10 172v1m0 1v1m0 25v2M11 288v1m0 2v1M12 10v1M13 12v1M14 182v1M15 313v1m0 4v1m0 1v1M19 86v1m0 82v1M20 86v2M21 0v1m0 56v1m0 1v2m0 3v2m0 12v1m0 1v1M23 10v1M25 0v1m0 9v1m0 318v1M26 174v1M28 176v1M34 10v1m0 1v1M38 1v1M39 10v1M40 10v1m0 2v1M46 13v1M49 10v1M52 0v1M56 0v1M57 0v1M58 10v1M59 12v1M63 13v1M71 10v1m0 2v2m0 1v1m0 386v1M74 1v1M76 13v1M77 13v1M78 14v1M79 11v1m0 1v1M85 13v1M87 12v1M88 12v2M92 0v1m0 10v1M95 11v1M99 13v1M105 0v1M106 0v2M114 11v1M120 10v1M135 14v1"/>
<path stroke="#1f988b" d="M7 245v1m0 5v1M8 178v3M9 177v1M10 171v1m0 1v1M11 0v1m0 169v2m0 118v1m0 5v1M13 166v1m0 1v1M14 1v1m0 173v2m0 1v2m0 4v1M15 10v1m0 299v1m0 3v1m0 1v1M16 10v1M18 10v1m0 1v1M19 79v1M21 56v1m0 18v2m0 4v1M24 10v1M25 327v2M26 173v1M27 175v1M28 0v1m0 177v1M30 180v3M32 186v1M37 0v1m0 9v1M38 10v1M41 0v1m0 9v1M42 0v1m0 9v1M43 10v1M44 10v1m0 1v1M46 12v1M47 12v1M53 12v1M55 0v1M57 12v1M61 10v1m0 1v1M64 12v1M70 10v1m0 1v1M71 17v1m0 2v1m0 379v2M75 13v1M77 11v1M78 13v1M79 14v1M82 0v1M83 0v1m0 9v1M85 0v1M89 12v1M91 12v1M94 0v1M96 10v1M97 12v1M98 1v1m0 8v1M101 14v1M105 10v1M130 14v1"/>
<path stroke="#1fa188" d="M2 7v1M7 246v1M9 178v1M11 169v1m0 119v1m0 2v1M13 167v1M14 167v1M16 164v3M20 10v1m0 89v1M21 12v1m0 50v1m0 13v1M26 0v1M27 0v1M28 1v1m0 8v1m0 166v1M30 10v1M32 10v1m0 173v2m0 2v1M38 0v1M39 12v1M41 1v1m0 10v1M46 10v1M47 10v1M50 0v1M51 10v1m0 1v1M52 10v1M53 10v1M54 0v1M55 10v1M56 12v1M59 10v1M62 10v1M63 1v1M69 12v1M70 0v1M71 0v1m0 17v1M73 14v1M76 1v1M78 1v1M82 14v1M83 12v1M84 10v1m0 1v1M85 10v1M86 12v1M89 1v1M90 12v1M98 12v1M104 0v1M135 11v1"/>
<path stroke="#22a884" d="M7 240v1M9 10v1m0 163v2M14 166v1m0 1v1M18 0v1M19 87v1M20 101v1M22 10v1M25 1v1M27 1v1m0 172v1M31 1v1m0 183v1M32 187v1M40 12v1M42 12v1M45 12v1M46 215v1M49 12v1M50 1v1m0 10v1M52 12v1M54 10v1M55 12v1M58 12v1M62 12v1M63 10v1M66 10v1m0 1v1M67 10v1m0 1v1M68 12v1M71 402v1m0 1v1M72 13v2M75 0v1M88 10v1M94 1v1M95 0v1M101 13v1M104 12v1"/>
<path stroke="#2ab07f" d="M7 241v4m0 2v1M14 165v1m0 11v1M20 90v1M31 184v1M35 0v1M46 213v2M53 0v1M54 12v1M65 12v1M71 12v1M77 1v1M79 0v1m0 9v1M81 10v1m0 2v1M82 13v1M85 12v1M92 10v1M96 12v1M99 12v1M103 10v1M105 12v1M112 11v1M135 10v1"/>
<path stroke="#35b779" d="M7 248v2M11 295v1M14 164v1M20 89v1M31 183v1m0 2v2M33 187v1M65 0v1M67 0v1M80 13v1M93 12v1M101 10v1M103 12v1M114 10v1M125 13v1M130 13v1M135 13v1"/>
<path stroke="#44bf70" d="M73 13v1M82 10v1M93 10v1M100 10v1M101 11v1M112 10v1"/>
<path stroke="#54c568" d="M0 2v1m0 5v1M2 6v1M7 239v1M24 0v1M43 1v1M44 0v1M59 0v1M73 1v1M74 13v1M75 10v1M76 10v1M78 0v1M80 12v1M94 10v1M99 10v1M118 1v1M120 0v1m0 11v1M125 12v1M135 0v1M140 1v1"/>
<path stroke="#67cc5c" d="M19 84v1M33 1v1M70 1v1M77 10v1M78 12v1M79 12v1M81 12v1M94 12v1M102 10v1M135 12v1"/>
<path stroke="#7ad151" d="M15 165v1M23 0v1M46 1v1M47 1v1M54 1v1M72 12v1M77 12v1M78 10v1M80 0v1M96 1v1M101 1v1M114 0v1M135 1v1M140 2v1"/>
<path stroke="#90d743" d="M4 2v1m0 5v1M5 2v1m0 5v1M13 1v1M15 1v1m0 162v1M19 1v1M20 1v1M22 1v1M32 1v1M33 0v1M39 1v1M44 1v1M72 10v1M76 12v1M90 0v1M92 12v1M97 0v1M99 0v1M112 0v1M125 0v1"/>
<path stroke="#a5db36" d="M2 3v1M6 1v1M10 1v1M21 1v1M26 1v1M61 1v1M71 1v1M82 12v1M100 12v1M102 12v1M103 0v1M120 11v1"/>
<path stroke="#bddf26" d="M29 1v1M73 12v1M90 1v1M130 0v1m0 11v1"/>
<path stroke="#d2e21b" d="M101 12v1"/>
<path stroke="#eae51a" d="M16 1v1M73 10v1M74 10v1m0 1v1"/>
<path stroke="#fde725" d="M0 3v5M1 3v5M2 4v2M3 2v7M4 3v5M5 3v5M6 2v8M7 2v8M8 2v8M9 1v9M10 2v8M11 2v8M12 1v9M13 2v8M14 2v8M15 2v8M16 2v8M17 1v8M18 1v9M19 2v8M20 2v8M21 2v8M22 2v8M23 1v9M24 1v9M25 2v8M26 2v8M27 2v8M28 2v8M29 2v8M30 1v9M31 2v8M32 2v8M33 2v8M34 1v9M35 1v9M36 1v9M37 1v9M38 2v8M39 2v8M40 1v9M41 2v8M42 1v9M43 2v8M44 2v8M45 1v9M46 2v8M47 2v8M48 1v9M49 1v9M50 2v8M51 1v9M52 1v9M53 1v9M54 2v8M55 1v9M56 1v9M57 1v9M58 1v9M59 2v8M60 1v9M61 2v8M62 1v9M63 2v8M64 2v8M65 1v9M66 1v9M67 1v9M68 1v9M69 1v9M70 2v8M71 2v8M72 1v9M73 2v8M74 2v8M75 1v9m0 2v1M76 2v8M77 2v8M78 2v8M79 1v9M80 1v10M81 1v9M82 1v9M83 1v9M84 1v9M85 1v9M86 1v9M87 1v9M88 1v9M89 2v8M90 2v8M91 1v9M92 1v9M93 1v9M94 2v8M95 1v9M96 2v8M97 1v9M98 2v8M99 1v9M100 1v9M101 2v8M102 1v9M103 1v9M104 1v9M105 1v9M106 2v8M108 2v8M110 2v8M112 1v9M114 1v9M116 2v8M118 2v7M120 1v9M125 1v10M130 1v10M135 2v8M140 3v6M145 2v8M150 2v8"/>
</g>
<rect x="1017" y="86" width="36" height="736" fill="url(#vg)"/>
</svg>
<div class="k" style="left:98px;top:85px;width:865px;height:1px"></div>
<div class="k" style="left:98px;top:822px;width:865px;height:1px"></div>
<div class="k" style="left:98px;top:85px;width:1px;height:738px"></div>
<div class="k" style="left:962px;top:85px;width:1px;height:738px"></div>
<div class="k" style="left:1016px;top:85px;width:37px;height:1px"></div>
<div class="k" style="left:1016px;top:822px;width:37px;height:1px"></div>
<div class="k" style="left:1016px;top:85px;width:1px;height:738px"></div>
<div class="k" style="left:1052px;top:85px;width:1px;height:738px"></div>
<div class="k" style="left:93px;top:810px;width:5px;height:1px"></div>
<div class="k" style="left:93px;top:689px;width:5px;height:1px"></div>
<div class="k" style="left:93px;top:568px;width:5px;height:1px"></div>
<div class="k" style="left:93px;top:447px;width:5px;height:1px"></div>
<div class="k" style="left:93px;top:327px;width:5px;height:1px"></div>
<div class="k" style="left:93px;top:206px;width:5px;height:1px"></div>
<div class="k" style="left:93px;top:85px;width:5px;height:1px"></div>
<div class="k" style="left:179px;top:823px;width:1px;height:5px"></div>
<div class="k" style="left:287px;top:823px;width:1px;height:5px"></div>
<div class="k" style="left:395px;top:823px;width:1px;height:5px"></div>
<div class="k" style="left:503px;top:823px;width:1px;height:5px"></div>
<div class="k" style="left:611px;top:823px;width:1px;height:5px"></div>
<div class="k" style="left:719px;top:823px;width:1px;height:5px"></div>
<div class="k" style="left:827px;top:823px;width:1px;height:5px"></div>
<div class="k" style="left:935px;top:823px;width:1px;height:5px"></div>
<div class="k" style="left:1053px;top:822px;width:5px;height:1px"></div>
<div class="k" style="left:1053px;top:699px;width:5px;height:1px"></div>
<div class="k" style="left:1053px;top:576px;width:5px;height:1px"></div>
<div class="k" style="left:1053px;top:454px;width:5px;height:1px"></div>
<div class="k" style="left:1053px;top:331px;width:5px;height:1px"></div>
<div class="k" style="left:1053px;top:208px;width:5px;height:1px"></div>
<div class="k" style="left:1053px;top:85px;width:5px;height:1px"></div>
<div><span class="t" style="left:109.33px;top:18.28px;font-size:60.87px;padding-top:1px;transform:scale(0.4333,.5)">IRF </span><span class="t" style="left:161.50px;top:18.28px;font-size:60.87px;padding-top:1px;transform:scale(0.4884,.5)">Uppsala </span><span class="t" style="left:282.53px;top:18.28px;font-size:60.87px;padding-top:1px;transform:scale(0.4530,.5)">SDR </span><span class="t" style="left:349.07px;top:18.28px;font-size:60.87px;padding-top:1px;transform:scale(0.5046,.5)">Ionosonde </span><span class="t" style="left:501.99px;top:18.28px;font-size:60.87px;padding-top:1px;transform:scale(0.4383,.5)">UP</span><span class="t" style="left:539.37px;top:18.28px;font-size:60.87px;padding-top:1px;transform:scale(0.5094,.5)">158 </span><span class="t" style="left:600.95px;top:18.28px;font-size:60.87px;padding-top:1px;transform:scale(0.5147,.5)">2026-04-10 </span><span class="t" style="left:771.46px;top:18.28px;font-size:60.87px;padding-top:1px;transform:scale(0.5210,.5)">17:32:00  </span><span class="t" style="left:913.52px;top:18.28px;font-size:60.87px;padding-top:1px;transform:scale(0.4637,.5)">UT</span></div>
<div><span class="t" style="left:231.96px;top:51.28px;font-size:60.87px;padding-top:1px;transform:scale(0.5161,.5)">noise_floor=</span><span class="t" style="left:405.50px;top:51.28px;font-size:60.87px;padding-top:1px;transform:scale(0.5294,.5)">-113.26 </span><span class="t" style="left:522.07px;top:51.28px;font-size:60.87px;padding-top:1px;transform:scale(0.4976,.5)">(dB) </span><span class="t" style="left:589.22px;top:51.28px;font-size:60.87px;padding-top:1px;transform:scale(0.5090,.5)">peak </span><span class="t" style="left:665.88px;top:51.28px;font-size:60.87px;padding-top:1px;transform:scale(0.4809,.5)">SNR=</span><span class="t" style="left:746.71px;top:51.28px;font-size:60.87px;padding-top:1px;transform:scale(0.5155,.5)">97.94</span></div>
<div><span class="t" style="left:440.67px;top:855.02px;font-size:44.93px;padding-top:1px;transform:scale(0.5101,.5)">Frequency </span><span class="t" style="left:556.72px;top:855.02px;font-size:44.93px;padding-top:1px;transform:scale(0.4972,.5)">(MHz)</span></div>
<div><span class="t" style="left:20.06px;top:549.32px;font-size:44.35px;transform:rotate(-90deg) scale(0.5420,.5)">Virtual </span><span class="t" style="left:20.06px;top:474.32px;font-size:44.35px;transform:rotate(-90deg) scale(0.5301,.5)">range </span><span class="t" style="left:20.06px;top:407.15px;font-size:44.35px;transform:rotate(-90deg) scale(0.5403,.5)">(km)</span></div>
<div><span class="t" style="left:1090.06px;top:500.72px;font-size:44.35px;padding-top:1px;transform:rotate(-90deg) scale(0.4610,.5)">SNR </span><span class="t" style="left:1090.06px;top:450.85px;font-size:44.35px;padding-top:1px;transform:rotate(-90deg) scale(0.5122,.5)">(dB)</span></div>
<div><span class="t" style="left:48.44px;top:74.26px;font-size:44.35px;padding-top:1px;transform:scale(0.5223,.5)">600</span></div>
<div><span class="t" style="left:49.70px;top:195.10px;font-size:44.35px;padding-top:1px;transform:scale(0.5077,.5)">500</span></div>
<div><span class="t" style="left:48.33px;top:315.93px;font-size:44.35px;padding-top:1px;transform:scale(0.5266,.5)">400</span></div>
<div><span class="t" style="left:49.20px;top:436.76px;font-size:44.35px;padding-top:1px;transform:scale(0.5146,.5)">300</span></div>
<div><span class="t" style="left:48.85px;top:557.60px;font-size:44.35px;padding-top:1px;transform:scale(0.5195,.5)">200</span></div>
<div><span class="t" style="left:49.09px;top:678.43px;font-size:44.35px;padding-top:1px;transform:scale(0.5133,.5)">100</span></div>
<div><span class="t" style="left:75.64px;top:799.26px;font-size:44.35px;padding-top:1px;transform:scale(0.4928,.5)">0</span></div>
<div><span class="t" style="left:172.53px;top:828.71px;font-size:44.35px;transform:scale(0.4804,.5)">2</span></div>
<div><span class="t" style="left:280.77px;top:828.71px;font-size:44.35px;transform:scale(0.4864,.5)">4</span></div>
<div><span class="t" style="left:388.88px;top:828.71px;font-size:44.35px;transform:scale(0.5043,.5)">6</span></div>
<div><span class="t" style="left:496.09px;top:828.71px;font-size:44.35px;transform:scale(0.5127,.5)">8</span></div>
<div><span class="t" style="left:597.94px;top:828.71px;font-size:44.35px;transform:scale(0.5006,.5)">10</span></div>
<div><span class="t" style="left:706.18px;top:828.71px;font-size:44.35px;transform:scale(0.4874,.5)">12</span></div>
<div><span class="t" style="left:814.17px;top:828.71px;font-size:44.35px;transform:scale(0.4912,.5)">14</span></div>
<div><span class="t" style="left:921.96px;top:828.71px;font-size:44.35px;transform:scale(0.4940,.5)">16</span></div>
<div><span class="t" style="left:1063.23px;top:74.26px;font-size:44.35px;padding-top:1px;transform:scale(0.4987,.5)">30</span></div>
<div><span class="t" style="left:1062.49px;top:197.05px;font-size:44.35px;padding-top:1px;transform:scale(0.4996,.5)">25</span></div>
<div><span class="t" style="left:1062.46px;top:319.83px;font-size:44.35px;padding-top:1px;transform:scale(0.5148,.5)">20</span></div>
<div><span class="t" style="left:1063.02px;top:442.61px;font-size:44.35px;padding-top:1px;transform:scale(0.4759,.5)">15</span></div>
<div><span class="t" style="left:1062.92px;top:565.40px;font-size:44.35px;padding-top:1px;transform:scale(0.5051,.5)">10</span></div>
<div><span class="t" style="left:1063.59px;top:688.18px;font-size:44.35px;padding-top:1px;transform:scale(0.4557,.5)">5</span></div>
<div><span class="t" style="left:1062.62px;top:810.96px;font-size:44.35px;padding-top:1px;transform:scale(0.5021,.5)">0</span></div>
</body></html>
